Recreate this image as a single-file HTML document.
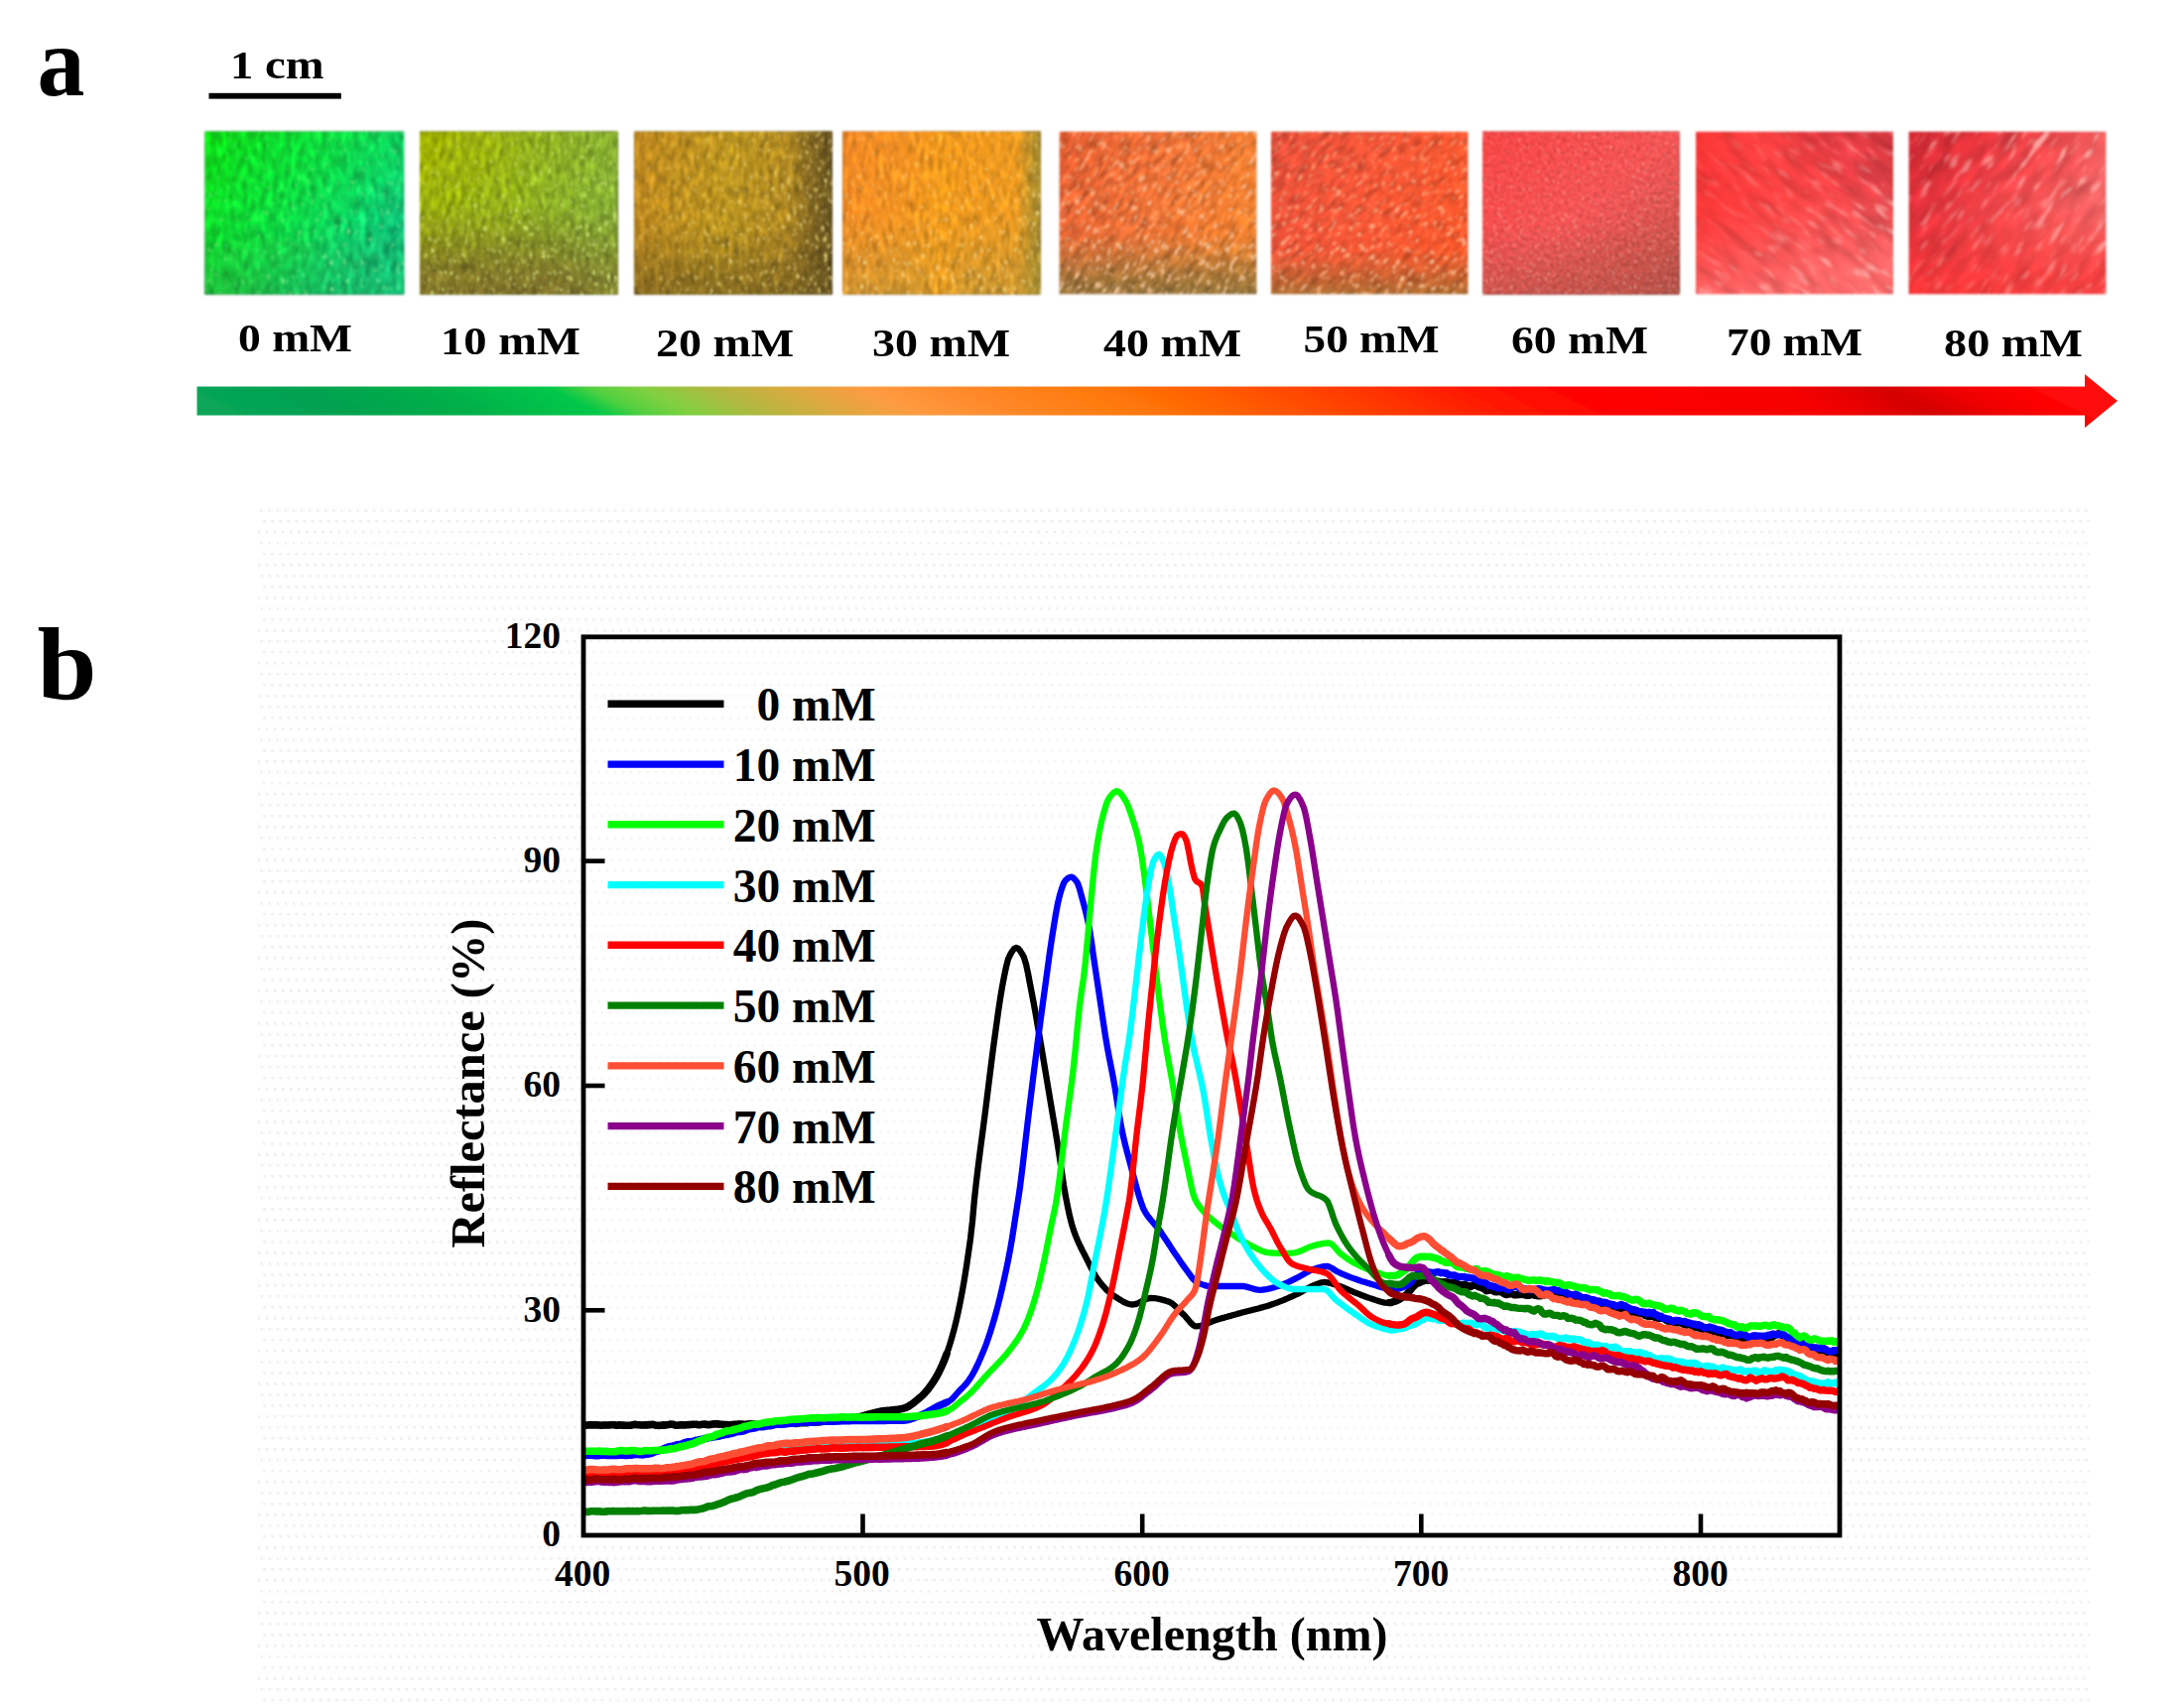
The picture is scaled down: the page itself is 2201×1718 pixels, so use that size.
<!DOCTYPE html>
<html lang="en"><head><meta charset="utf-8"><title>Reflectance figure</title>
<style>html,body{margin:0;padding:0;background:#fff}body{width:2201px;height:1718px;overflow:hidden}svg{display:block}text{font-family:"Liberation Serif","DejaVu Serif",serif;font-weight:bold;fill:#000}</style>
</head><body>
<svg width="2201" height="1718" viewBox="0 0 2201 1718">
<defs>
<pattern id="dots" width="8.1" height="11" patternUnits="userSpaceOnUse" patternTransform="translate(262,513) skewX(13.8)"><rect x="0" y="0" width="2.6" height="2.6" fill="#f0f0f0"/></pattern>
<linearGradient id="arrowg" gradientUnits="userSpaceOnUse" x1="198.5" y1="0" x2="2134" y2="0" gradientTransform="translate(-808 0) skewX(63.4)">
<stop offset="0.0000" stop-color="#08a658"/>
<stop offset="0.0628" stop-color="#00a050"/>
<stop offset="0.1351" stop-color="#00b048"/>
<stop offset="0.1971" stop-color="#00c848"/>
<stop offset="0.2188" stop-color="#50d040"/>
<stop offset="0.2446" stop-color="#80d040"/>
<stop offset="0.2808" stop-color="#b0b840"/>
<stop offset="0.3263" stop-color="#e0a840"/>
<stop offset="0.3635" stop-color="#ff9a40"/>
<stop offset="0.4141" stop-color="#ff8828"/>
<stop offset="0.4813" stop-color="#ff7808"/>
<stop offset="0.5639" stop-color="#ff5000"/>
<stop offset="0.6208" stop-color="#ff3400"/>
<stop offset="0.6724" stop-color="#ff1800"/>
<stop offset="0.7241" stop-color="#ff0400"/>
<stop offset="0.8378" stop-color="#f60000"/>
<stop offset="0.8714" stop-color="#e20000"/>
<stop offset="0.8920" stop-color="#d40000"/>
<stop offset="0.9256" stop-color="#ee0000"/>
<stop offset="0.9618" stop-color="#ff0404"/>
<stop offset="1.0000" stop-color="#ff1010"/>
</linearGradient>
<linearGradient id="sq1_0" x1="0" y1="0" x2="1" y2="0.55">
<stop offset="0" stop-color="#0ae014" stop-opacity="1"/>
<stop offset="0.45" stop-color="#10e03c" stop-opacity="1"/>
<stop offset="0.8" stop-color="#10d864" stop-opacity="1"/>
<stop offset="1" stop-color="#14c070" stop-opacity="1"/>
</linearGradient>
<linearGradient id="sq1_1" x1="0" y1="0" x2="0" y2="1">
<stop offset="0" stop-color="#2aa83a" stop-opacity="0"/>
<stop offset="0.6" stop-color="#2aa83a" stop-opacity="0"/>
<stop offset="1" stop-color="#2aa83a" stop-opacity="0.55"/>
</linearGradient>
<linearGradient id="sq1_2" x1="1" y1="1" x2="0.3" y2="0.3">
<stop offset="0" stop-color="#08c890" stop-opacity="0.55"/>
<stop offset="0.6" stop-color="#08c890" stop-opacity="0"/>
</linearGradient>
<filter id="sq1_t" x="0" y="0" width="1" height="1" color-interpolation-filters="sRGB"><feTurbulence type="fractalNoise" baseFrequency="0.16 0.07" numOctaves="2" seed="4" result="n"/><feColorMatrix in="n" type="matrix" values="0.5 0.5 0 0 0  0.5 0.5 0 0 0  0.5 0.5 0 0 0  0 0 0 0 1" result="g"/><feComposite in="SourceGraphic" in2="g" operator="arithmetic" k1="0.9" k2="0.53" k3="0" k4="0"/></filter>
<filter id="sq1_s" x="0" y="0" width="1" height="1" color-interpolation-filters="sRGB"><feTurbulence type="fractalNoise" baseFrequency="0.3 0.16" numOctaves="2" seed="3" result="n"/><feColorMatrix in="n" type="matrix" values="0 0 0 0 0.6  0 0 0 0 1  0 0 0 0 0.65  3 3 0 0 -3.55" result="c"/><feComposite in="c" in2="SourceGraphic" operator="in"/></filter>
<linearGradient id="sq1_a" x1="0" y1="0" x2="0.3" y2="1">
<stop offset="0" stop-color="#fff" stop-opacity="0.2"/>
<stop offset="1" stop-color="#fff" stop-opacity="0.7"/>
</linearGradient>
<linearGradient id="sq2_0" x1="0" y1="0" x2="1" y2="0.5">
<stop offset="0" stop-color="#a8b800" stop-opacity="1"/>
<stop offset="0.5" stop-color="#9cba18" stop-opacity="1"/>
<stop offset="1" stop-color="#86b432" stop-opacity="1"/>
</linearGradient>
<linearGradient id="sq2_1" x1="0" y1="0" x2="0" y2="1">
<stop offset="0" stop-color="#7c6a26" stop-opacity="0"/>
<stop offset="0.45" stop-color="#7c6a26" stop-opacity="0"/>
<stop offset="0.85" stop-color="#84702c" stop-opacity="0.8"/>
<stop offset="1" stop-color="#84702c" stop-opacity="0.92"/>
</linearGradient>
<linearGradient id="sq2_2" x1="1" y1="0.3" x2="0.3" y2="0.6">
<stop offset="0" stop-color="#8cb838" stop-opacity="0.5"/>
<stop offset="0.7" stop-color="#8cb838" stop-opacity="0"/>
</linearGradient>
<filter id="sq2_t" x="0" y="0" width="1" height="1" color-interpolation-filters="sRGB"><feTurbulence type="fractalNoise" baseFrequency="0.2 0.08" numOctaves="2" seed="9" result="n"/><feColorMatrix in="n" type="matrix" values="0.5 0.5 0 0 0  0.5 0.5 0 0 0  0.5 0.5 0 0 0  0 0 0 0 1" result="g"/><feComposite in="SourceGraphic" in2="g" operator="arithmetic" k1="0.9" k2="0.5" k3="0" k4="0"/></filter>
<filter id="sq2_s" x="0" y="0" width="1" height="1" color-interpolation-filters="sRGB"><feTurbulence type="fractalNoise" baseFrequency="0.32 0.18" numOctaves="2" seed="5" result="n"/><feColorMatrix in="n" type="matrix" values="0 0 0 0 0.92  0 0 0 0 1  0 0 0 0 0.55  3 3 0 0 -3.42" result="c"/><feComposite in="c" in2="SourceGraphic" operator="in"/></filter>
<linearGradient id="sq2_a" x1="0" y1="0" x2="0.6" y2="1">
<stop offset="0" stop-color="#fff" stop-opacity="0.2"/>
<stop offset="0.45" stop-color="#fff" stop-opacity="0.7"/>
<stop offset="1" stop-color="#fff" stop-opacity="1"/>
</linearGradient>
<linearGradient id="sq3_0" x1="0" y1="0" x2="1" y2="0.1">
<stop offset="0" stop-color="#c88e20" stop-opacity="1"/>
<stop offset="0.5" stop-color="#c49c20" stop-opacity="1"/>
<stop offset="0.8" stop-color="#b88e22" stop-opacity="1"/>
<stop offset="1" stop-color="#a88224" stop-opacity="1"/>
</linearGradient>
<linearGradient id="sq3_1" x1="0" y1="0" x2="0" y2="1">
<stop offset="0" stop-color="#7c6422" stop-opacity="0"/>
<stop offset="0.55" stop-color="#7c6422" stop-opacity="0"/>
<stop offset="1" stop-color="#7c6422" stop-opacity="0.8"/>
</linearGradient>
<linearGradient id="sq3_2" x1="0" y1="0" x2="1" y2="0">
<stop offset="0" stop-color="#685420" stop-opacity="0"/>
<stop offset="0.78" stop-color="#685420" stop-opacity="0"/>
<stop offset="0.9" stop-color="#685420" stop-opacity="0.6"/>
<stop offset="1" stop-color="#645220" stop-opacity="0.9"/>
</linearGradient>
<filter id="sq3_t" x="0" y="0" width="1" height="1" color-interpolation-filters="sRGB"><feTurbulence type="fractalNoise" baseFrequency="0.2 0.08" numOctaves="2" seed="14" result="n"/><feColorMatrix in="n" type="matrix" values="0.5 0.5 0 0 0  0.5 0.5 0 0 0  0.5 0.5 0 0 0  0 0 0 0 1" result="g"/><feComposite in="SourceGraphic" in2="g" operator="arithmetic" k1="0.9" k2="0.5" k3="0" k4="0"/></filter>
<filter id="sq3_s" x="0" y="0" width="1" height="1" color-interpolation-filters="sRGB"><feTurbulence type="fractalNoise" baseFrequency="0.32 0.18" numOctaves="2" seed="8" result="n"/><feColorMatrix in="n" type="matrix" values="0 0 0 0 1  0 0 0 0 0.93  0 0 0 0 0.55  3 3 0 0 -3.42" result="c"/><feComposite in="c" in2="SourceGraphic" operator="in"/></filter>
<linearGradient id="sq3_a" x1="0" y1="0.3" x2="1" y2="0.8">
<stop offset="0" stop-color="#fff" stop-opacity="0.35"/>
<stop offset="0.6" stop-color="#fff" stop-opacity="0.8"/>
<stop offset="1" stop-color="#fff" stop-opacity="1"/>
</linearGradient>
<linearGradient id="sq4_0" x1="0" y1="0" x2="1" y2="0.25">
<stop offset="0" stop-color="#f88a26" stop-opacity="1"/>
<stop offset="0.55" stop-color="#f69a1e" stop-opacity="1"/>
<stop offset="1" stop-color="#ee9c20" stop-opacity="1"/>
</linearGradient>
<linearGradient id="sq4_1" x1="0" y1="0" x2="0" y2="1">
<stop offset="0" stop-color="#b89438" stop-opacity="0"/>
<stop offset="0.5" stop-color="#b89438" stop-opacity="0"/>
<stop offset="1" stop-color="#b89438" stop-opacity="0.62"/>
</linearGradient>
<linearGradient id="sq4_2" x1="0" y1="0" x2="1" y2="0">
<stop offset="0.38" stop-color="#f8a21a" stop-opacity="0"/>
<stop offset="0.5" stop-color="#f8a21a" stop-opacity="0.6"/>
<stop offset="0.62" stop-color="#f8a21a" stop-opacity="0"/>
</linearGradient>
<linearGradient id="sq4_3" x1="0" y1="0" x2="1" y2="0">
<stop offset="0" stop-color="#a08c30" stop-opacity="0"/>
<stop offset="0.88" stop-color="#a08c30" stop-opacity="0"/>
<stop offset="0.97" stop-color="#a08c30" stop-opacity="0.75"/>
<stop offset="1" stop-color="#a08c30" stop-opacity="0.85"/>
</linearGradient>
<filter id="sq4_t" x="0" y="0" width="1" height="1" color-interpolation-filters="sRGB"><feTurbulence type="fractalNoise" baseFrequency="0.22 0.07" numOctaves="2" seed="21" result="n"/><feColorMatrix in="n" type="matrix" values="0.5 0.5 0 0 0  0.5 0.5 0 0 0  0.5 0.5 0 0 0  0 0 0 0 1" result="g"/><feComposite in="SourceGraphic" in2="g" operator="arithmetic" k1="0.8" k2="0.58" k3="0" k4="0"/></filter>
<filter id="sq4_s" x="0" y="0" width="1" height="1" color-interpolation-filters="sRGB"><feTurbulence type="fractalNoise" baseFrequency="0.34 0.16" numOctaves="2" seed="12" result="n"/><feColorMatrix in="n" type="matrix" values="0 0 0 0 1  0 0 0 0 0.9  0 0 0 0 0.55  3 3 0 0 -3.45" result="c"/><feComposite in="c" in2="SourceGraphic" operator="in"/></filter>
<linearGradient id="sq4_a" x1="0" y1="0" x2="0.3" y2="1">
<stop offset="0" stop-color="#fff" stop-opacity="0.3"/>
<stop offset="0.5" stop-color="#fff" stop-opacity="0.7"/>
<stop offset="1" stop-color="#fff" stop-opacity="1"/>
</linearGradient>
<linearGradient id="sq5_0" x1="0" y1="0" x2="1" y2="0.4">
<stop offset="0" stop-color="#e65c30" stop-opacity="1"/>
<stop offset="0.55" stop-color="#f07236" stop-opacity="1"/>
<stop offset="1" stop-color="#f8822e" stop-opacity="1"/>
</linearGradient>
<linearGradient id="sq5_1" x1="0" y1="0" x2="0" y2="1">
<stop offset="0" stop-color="#8c7438" stop-opacity="0"/>
<stop offset="0.62" stop-color="#8c7438" stop-opacity="0"/>
<stop offset="0.9" stop-color="#8c7438" stop-opacity="0.75"/>
<stop offset="1" stop-color="#86703a" stop-opacity="0.9"/>
</linearGradient>
<filter id="sq5_t" x="0" y="0" width="1" height="1" color-interpolation-filters="sRGB"><feTurbulence type="fractalNoise" baseFrequency="0.07 0.2" numOctaves="2" seed="25" result="n"/><feColorMatrix in="n" type="matrix" values="0.5 0.5 0 0 0  0.5 0.5 0 0 0  0.5 0.5 0 0 0  0 0 0 0 1" result="g"/><feComposite in="SourceGraphic" in2="g" operator="arithmetic" k1="0.9" k2="0.53" k3="0" k4="0"/></filter>
<filter id="sq5_s" x="0" y="0" width="1" height="1" color-interpolation-filters="sRGB"><feTurbulence type="fractalNoise" baseFrequency="0.13 0.26" numOctaves="2" seed="15" result="n"/><feColorMatrix in="n" type="matrix" values="0 0 0 0 1  0 0 0 0 0.8  0 0 0 0 0.62  3 3 0 0 -3.22" result="c"/><feComposite in="c" in2="SourceGraphic" operator="in"/></filter>
<linearGradient id="sq5_a" x1="0" y1="0" x2="0.2" y2="1">
<stop offset="0" stop-color="#fff" stop-opacity="0.55"/>
<stop offset="1" stop-color="#fff" stop-opacity="1"/>
</linearGradient>
<linearGradient id="sq6_0" x1="0" y1="0" x2="1" y2="0.45">
<stop offset="0" stop-color="#e64e3a" stop-opacity="1"/>
<stop offset="0.5" stop-color="#f85636" stop-opacity="1"/>
<stop offset="1" stop-color="#fc582c" stop-opacity="1"/>
</linearGradient>
<linearGradient id="sq6_1" x1="0" y1="0" x2="0" y2="1">
<stop offset="0" stop-color="#a86a30" stop-opacity="0"/>
<stop offset="0.72" stop-color="#a86a30" stop-opacity="0"/>
<stop offset="0.93" stop-color="#a86a30" stop-opacity="0.7"/>
<stop offset="1" stop-color="#a87434" stop-opacity="0.9"/>
</linearGradient>
<filter id="sq6_t" x="0" y="0" width="1" height="1" color-interpolation-filters="sRGB"><feTurbulence type="fractalNoise" baseFrequency="0.07 0.2" numOctaves="2" seed="31" result="n"/><feColorMatrix in="n" type="matrix" values="0.5 0.5 0 0 0  0.5 0.5 0 0 0  0.5 0.5 0 0 0  0 0 0 0 1" result="g"/><feComposite in="SourceGraphic" in2="g" operator="arithmetic" k1="0.8" k2="0.58" k3="0" k4="0"/></filter>
<filter id="sq6_s" x="0" y="0" width="1" height="1" color-interpolation-filters="sRGB"><feTurbulence type="fractalNoise" baseFrequency="0.13 0.26" numOctaves="2" seed="18" result="n"/><feColorMatrix in="n" type="matrix" values="0 0 0 0 1  0 0 0 0 0.78  0 0 0 0 0.6  3 3 0 0 -3.28" result="c"/><feComposite in="c" in2="SourceGraphic" operator="in"/></filter>
<linearGradient id="sq6_a" x1="0" y1="0" x2="0.2" y2="1">
<stop offset="0" stop-color="#fff" stop-opacity="0.45"/>
<stop offset="1" stop-color="#fff" stop-opacity="1"/>
</linearGradient>
<linearGradient id="sq7_0" x1="0" y1="0" x2="1" y2="1">
<stop offset="0" stop-color="#fa4242" stop-opacity="1"/>
<stop offset="0.5" stop-color="#f45252" stop-opacity="1"/>
<stop offset="0.85" stop-color="#c85048" stop-opacity="1"/>
<stop offset="1" stop-color="#9c4640" stop-opacity="1"/>
</linearGradient>
<linearGradient id="sq7_1" x1="0" y1="0" x2="0" y2="1">
<stop offset="0" stop-color="#b85046" stop-opacity="0"/>
<stop offset="0.55" stop-color="#b85046" stop-opacity="0"/>
<stop offset="1" stop-color="#b85046" stop-opacity="0.7"/>
</linearGradient>
<filter id="sq7_t" x="0" y="0" width="1" height="1" color-interpolation-filters="sRGB"><feTurbulence type="fractalNoise" baseFrequency="0.32 0.32" numOctaves="2" seed="37" result="n"/><feColorMatrix in="n" type="matrix" values="0.5 0.5 0 0 0  0.5 0.5 0 0 0  0.5 0.5 0 0 0  0 0 0 0 1" result="g"/><feComposite in="SourceGraphic" in2="g" operator="arithmetic" k1="0.8" k2="0.6" k3="0" k4="0"/></filter>
<filter id="sq7_s" x="0" y="0" width="1" height="1" color-interpolation-filters="sRGB"><feTurbulence type="fractalNoise" baseFrequency="0.4 0.4" numOctaves="2" seed="22" result="n"/><feColorMatrix in="n" type="matrix" values="0 0 0 0 1  0 0 0 0 0.7  0 0 0 0 0.66  3 3 0 0 -3.42" result="c"/><feComposite in="c" in2="SourceGraphic" operator="in"/></filter>
<linearGradient id="sq7_a" x1="0" y1="0" x2="0" y2="1">
<stop offset="0" stop-color="#fff" stop-opacity="0.7"/>
<stop offset="1" stop-color="#fff" stop-opacity="1"/>
</linearGradient>
<linearGradient id="sq8_0" x1="0" y1="0.6" x2="1" y2="0">
<stop offset="0" stop-color="#fa2c2c" stop-opacity="1"/>
<stop offset="0.45" stop-color="#f83c3c" stop-opacity="1"/>
<stop offset="0.8" stop-color="#dc363e" stop-opacity="1"/>
<stop offset="1" stop-color="#cc3038" stop-opacity="1"/>
</linearGradient>
<linearGradient id="sq8_1" x1="0" y1="0" x2="0.25" y2="1">
<stop offset="0" stop-color="#fc7272" stop-opacity="0"/>
<stop offset="0.5" stop-color="#fc7272" stop-opacity="0.15"/>
<stop offset="1" stop-color="#fc7272" stop-opacity="0.8"/>
</linearGradient>
<filter id="sq8_t" x="0" y="0" width="1" height="1" color-interpolation-filters="sRGB"><feTurbulence type="fractalNoise" baseFrequency="0.03 0.09" numOctaves="2" seed="41" result="n"/><feColorMatrix in="n" type="matrix" values="0.5 0.5 0 0 0  0.5 0.5 0 0 0  0.5 0.5 0 0 0  0 0 0 0 1" result="g"/><feComposite in="SourceGraphic" in2="g" operator="arithmetic" k1="0.5" k2="0.75" k3="0" k4="0"/></filter>
<filter id="sq8_s" x="0" y="0" width="1" height="1" color-interpolation-filters="sRGB"><feTurbulence type="fractalNoise" baseFrequency="0.045 0.16" numOctaves="2" seed="26" result="n"/><feColorMatrix in="n" type="matrix" values="0 0 0 0 1  0 0 0 0 0.7  0 0 0 0 0.68  2.6 2.6 0 0 -2.78" result="c"/><feComposite in="c" in2="SourceGraphic" operator="in"/></filter>
<linearGradient id="sq8_a" x1="0" y1="0" x2="1" y2="1">
<stop offset="0" stop-color="#fff" stop-opacity="0.05"/>
<stop offset="0.4" stop-color="#fff" stop-opacity="0.4"/>
<stop offset="1" stop-color="#fff" stop-opacity="1"/>
</linearGradient>
<linearGradient id="sq9_0" x1="0" y1="0" x2="1" y2="0.45">
<stop offset="0" stop-color="#cc2832" stop-opacity="1"/>
<stop offset="0.3" stop-color="#e4343c" stop-opacity="1"/>
<stop offset="0.65" stop-color="#f04c4e" stop-opacity="1"/>
<stop offset="1" stop-color="#f26868" stop-opacity="1"/>
</linearGradient>
<linearGradient id="sq9_1" x1="0" y1="0" x2="0.15" y2="1">
<stop offset="0" stop-color="#f83030" stop-opacity="0"/>
<stop offset="0.55" stop-color="#f83030" stop-opacity="0"/>
<stop offset="1" stop-color="#f83030" stop-opacity="0.7"/>
</linearGradient>
<filter id="sq9_t" x="0" y="0" width="1" height="1" color-interpolation-filters="sRGB"><feTurbulence type="fractalNoise" baseFrequency="0.03 0.09" numOctaves="2" seed="47" result="n"/><feColorMatrix in="n" type="matrix" values="0.5 0.5 0 0 0  0.5 0.5 0 0 0  0.5 0.5 0 0 0  0 0 0 0 1" result="g"/><feComposite in="SourceGraphic" in2="g" operator="arithmetic" k1="0.5" k2="0.75" k3="0" k4="0"/></filter>
<filter id="sq9_s" x="0" y="0" width="1" height="1" color-interpolation-filters="sRGB"><feTurbulence type="fractalNoise" baseFrequency="0.045 0.16" numOctaves="2" seed="29" result="n"/><feColorMatrix in="n" type="matrix" values="0 0 0 0 1  0 0 0 0 0.7  0 0 0 0 0.68  2.6 2.6 0 0 -2.78" result="c"/><feComposite in="c" in2="SourceGraphic" operator="in"/></filter>
<linearGradient id="sq9_a" x1="0" y1="1" x2="1" y2="0">
<stop offset="0" stop-color="#fff" stop-opacity="0.3"/>
<stop offset="1" stop-color="#fff" stop-opacity="1"/>
</linearGradient>
<filter id="soft" x="-2%" y="-10%" width="104%" height="120%"><feGaussianBlur stdDeviation="0.9"/></filter>
<filter id="soft2" x="-5%" y="-20%" width="110%" height="140%"><feGaussianBlur stdDeviation="0.6"/></filter>
<clipPath id="plotclip"><rect x="588" y="642" width="1266" height="905"/></clipPath>
</defs>
<rect width="2201" height="1718" fill="#ffffff"/>
<rect x="260" y="513" width="1846" height="1205" fill="url(#dots)"/>
<text x="37.5" y="95.6" font-size="100" textLength="48" lengthAdjust="spacingAndGlyphs">a</text>
<g filter="url(#soft2)">
<text x="232" y="78.6" font-size="39" textLength="94.5" lengthAdjust="spacingAndGlyphs">1 cm</text>
<rect x="210.5" y="93.8" width="133.3" height="5.8" fill="#000"/>
<text x="240" y="354" font-size="40" textLength="115" lengthAdjust="spacingAndGlyphs">0 mM</text>
<text x="444" y="357" font-size="40" textLength="141" lengthAdjust="spacingAndGlyphs">10 mM</text>
<text x="661" y="359" font-size="40" textLength="139" lengthAdjust="spacingAndGlyphs">20 mM</text>
<text x="879" y="359" font-size="40" textLength="139" lengthAdjust="spacingAndGlyphs">30 mM</text>
<text x="1112" y="359" font-size="40" textLength="139" lengthAdjust="spacingAndGlyphs">40 mM</text>
<text x="1313.5" y="355" font-size="40" textLength="137" lengthAdjust="spacingAndGlyphs">50 mM</text>
<text x="1523" y="356" font-size="40" textLength="138" lengthAdjust="spacingAndGlyphs">60 mM</text>
<text x="1740" y="358" font-size="40" textLength="137" lengthAdjust="spacingAndGlyphs">70 mM</text>
<text x="1959" y="359" font-size="40" textLength="140" lengthAdjust="spacingAndGlyphs">80 mM</text>
</g>
<g filter="url(#soft)">
<g filter="url(#sq1_t)">
<rect x="206.5" y="132.5" width="200.7" height="164" fill="url(#sq1_0)"/>
<rect x="206.5" y="132.5" width="200.7" height="164" fill="url(#sq1_1)"/>
<rect x="206.5" y="132.5" width="200.7" height="164" fill="url(#sq1_2)"/>
</g>
<rect x="206.5" y="132.5" width="200.7" height="164" fill="url(#sq1_a)" filter="url(#sq1_s)"/>
</g>
<g filter="url(#soft)">
<g filter="url(#sq2_t)">
<rect x="423" y="132.5" width="199.6" height="164" fill="url(#sq2_0)"/>
<rect x="423" y="132.5" width="199.6" height="164" fill="url(#sq2_1)"/>
<rect x="423" y="132.5" width="199.6" height="164" fill="url(#sq2_2)"/>
</g>
<rect x="423" y="132.5" width="199.6" height="164" fill="url(#sq2_a)" filter="url(#sq2_s)"/>
</g>
<g filter="url(#soft)">
<g filter="url(#sq3_t)">
<rect x="639.2" y="132.5" width="199.3" height="164" fill="url(#sq3_0)"/>
<rect x="639.2" y="132.5" width="199.3" height="164" fill="url(#sq3_1)"/>
<rect x="639.2" y="132.5" width="199.3" height="164" fill="url(#sq3_2)"/>
</g>
<rect x="639.2" y="132.5" width="199.3" height="164" fill="url(#sq3_a)" filter="url(#sq3_s)"/>
</g>
<g filter="url(#soft)">
<g filter="url(#sq4_t)">
<rect x="849.2" y="132.5" width="199.4" height="164" fill="url(#sq4_0)"/>
<rect x="849.2" y="132.5" width="199.4" height="164" fill="url(#sq4_1)"/>
<rect x="849.2" y="132.5" width="199.4" height="164" fill="url(#sq4_2)"/>
<rect x="849.2" y="132.5" width="199.4" height="164" fill="url(#sq4_3)"/>
</g>
<rect x="849.2" y="132.5" width="199.4" height="164" fill="url(#sq4_a)" filter="url(#sq4_s)"/>
</g>
<g filter="url(#soft)">
<clipPath id="sq5_c"><rect x="1067.5" y="132.5" width="199" height="164"/></clipPath>
<g clip-path="url(#sq5_c)">
<g transform="rotate(-58 1167 214.5)"><g filter="url(#sq5_t)"><g transform="rotate(58 1167 214.5)">
<rect x="1067.5" y="132.5" width="199" height="164" fill="url(#sq5_0)"/>
<rect x="1067.5" y="132.5" width="199" height="164" fill="url(#sq5_1)"/>
</g></g></g>
<g transform="rotate(-58 1167 214.5)"><g filter="url(#sq5_s)"><g transform="rotate(58 1167 214.5)">
<rect x="1067.5" y="132.5" width="199" height="164" fill="url(#sq5_a)"/>
</g></g></g>
</g>
</g>
<g filter="url(#soft)">
<clipPath id="sq6_c"><rect x="1281" y="132.5" width="198.5" height="164"/></clipPath>
<g clip-path="url(#sq6_c)">
<g transform="rotate(-45 1380.25 214.5)"><g filter="url(#sq6_t)"><g transform="rotate(45 1380.25 214.5)">
<rect x="1281" y="132.5" width="198.5" height="164" fill="url(#sq6_0)"/>
<rect x="1281" y="132.5" width="198.5" height="164" fill="url(#sq6_1)"/>
</g></g></g>
<g transform="rotate(-45 1380.25 214.5)"><g filter="url(#sq6_s)"><g transform="rotate(45 1380.25 214.5)">
<rect x="1281" y="132.5" width="198.5" height="164" fill="url(#sq6_a)"/>
</g></g></g>
</g>
</g>
<g filter="url(#soft)">
<g filter="url(#sq7_t)">
<rect x="1494" y="132.5" width="198.6" height="164" fill="url(#sq7_0)"/>
<rect x="1494" y="132.5" width="198.6" height="164" fill="url(#sq7_1)"/>
</g>
<rect x="1494" y="132.5" width="198.6" height="164" fill="url(#sq7_a)" filter="url(#sq7_s)"/>
</g>
<g filter="url(#soft)">
<clipPath id="sq8_c"><rect x="1709" y="132.5" width="199" height="164"/></clipPath>
<g clip-path="url(#sq8_c)">
<g transform="rotate(38 1808.5 214.5)"><g filter="url(#sq8_t)"><g transform="rotate(-38 1808.5 214.5)">
<rect x="1709" y="132.5" width="199" height="164" fill="url(#sq8_0)"/>
<rect x="1709" y="132.5" width="199" height="164" fill="url(#sq8_1)"/>
</g></g></g>
<g transform="rotate(38 1808.5 214.5)"><g filter="url(#sq8_s)"><g transform="rotate(-38 1808.5 214.5)">
<rect x="1709" y="132.5" width="199" height="164" fill="url(#sq8_a)"/>
</g></g></g>
</g>
</g>
<g filter="url(#soft)">
<clipPath id="sq9_c"><rect x="1923.5" y="132.5" width="199" height="164"/></clipPath>
<g clip-path="url(#sq9_c)">
<g transform="rotate(-52 2023 214.5)"><g filter="url(#sq9_t)"><g transform="rotate(52 2023 214.5)">
<rect x="1923.5" y="132.5" width="199" height="164" fill="url(#sq9_0)"/>
<rect x="1923.5" y="132.5" width="199" height="164" fill="url(#sq9_1)"/>
</g></g></g>
<g transform="rotate(-52 2023 214.5)"><g filter="url(#sq9_s)"><g transform="rotate(52 2023 214.5)">
<rect x="1923.5" y="132.5" width="199" height="164" fill="url(#sq9_a)"/>
</g></g></g>
</g>
</g>
<g filter="url(#soft2)"><path d="M198.5,389.5 H2101 V377 L2134,404 L2101,431 V418.5 H198.5 Z" fill="url(#arrowg)"/></g>
<text x="37.5" y="704" font-size="104" textLength="60" lengthAdjust="spacingAndGlyphs">b</text>
<rect x="588" y="642" width="1266" height="905" fill="#fff"/>
<rect x="588" y="642" width="1266" height="905" fill="url(#dots)" opacity="0.6"/>
<g clip-path="url(#plotclip)" fill="none" stroke-linejoin="round" stroke-linecap="round">
<path d="M588.0,1436.2 L590.0,1436.2 L592.0,1436.0 L594.0,1435.9 L596.0,1435.9 L598.0,1435.9 L600.0,1435.7 L602.0,1435.9 L604.0,1436.0 L606.0,1436.2 L608.0,1436.0 L610.0,1436.0 L612.0,1436.0 L614.0,1436.0 L616.0,1435.7 L618.0,1435.8 L620.0,1435.9 L622.0,1436.2 L624.0,1435.8 L626.0,1436.1 L628.0,1436.0 L630.0,1436.2 L632.0,1436.3 L634.0,1436.3 L636.0,1436.1 L638.0,1435.7 L640.0,1435.3 L642.0,1435.7 L644.0,1435.7 L646.0,1436.0 L648.0,1436.0 L650.0,1435.8 L652.0,1436.0 L654.0,1435.5 L656.0,1435.6 L658.0,1435.3 L660.0,1435.9 L662.0,1436.3 L664.0,1436.4 L666.0,1436.3 L668.0,1435.9 L670.0,1436.1 L672.0,1435.8 L674.0,1435.5 L676.0,1435.1 L678.0,1435.2 L680.0,1435.9 L682.0,1436.2 L684.0,1436.0 L686.0,1435.9 L688.0,1435.9 L690.0,1436.0 L692.0,1435.7 L694.0,1435.6 L696.0,1435.5 L698.0,1435.2 L700.0,1435.3 L702.0,1435.3 L704.0,1435.7 L706.0,1435.6 L708.0,1435.3 L710.0,1435.0 L712.0,1435.4 L714.0,1435.6 L716.0,1435.5 L718.0,1435.0 L720.0,1434.8 L722.0,1434.9 L724.0,1434.9 L726.0,1435.3 L728.0,1435.3 L730.0,1435.5 L732.0,1435.5 L734.0,1435.8 L736.0,1435.7 L738.0,1435.5 L740.0,1435.4 L742.0,1435.4 L744.0,1435.0 L746.0,1435.0 L748.0,1435.1 L750.0,1435.5 L752.0,1435.2 L754.0,1435.0 L756.0,1434.8 L758.0,1434.9 L760.0,1435.1 L762.0,1435.4 L764.0,1435.6 L766.0,1435.4 L768.0,1435.2 L770.0,1435.1 L772.0,1434.9 L774.0,1434.7 L776.0,1434.6 L778.0,1435.0 L780.0,1435.2 L782.0,1435.1 L784.0,1434.5 L786.0,1434.2 L788.0,1434.2 L790.0,1434.3 L792.0,1434.2 L794.0,1434.1 L796.0,1433.9 L798.0,1434.3 L800.0,1434.1 L802.0,1434.4 L804.0,1434.0 L806.0,1433.8 L808.0,1433.5 L810.0,1433.7 L812.0,1433.7 L814.0,1433.4 L816.0,1433.1 L818.0,1433.0 L820.0,1433.0 L822.0,1432.8 L824.0,1432.9 L826.0,1432.7 L828.0,1432.6 L830.0,1432.3 L832.0,1432.2 L834.0,1432.1 L836.0,1431.9 L838.0,1431.8 L840.0,1431.6 L842.0,1431.4 L844.0,1431.2 L846.0,1430.9 L848.0,1430.5 L850.0,1430.2 L852.0,1430.0 L854.0,1429.7 L856.0,1429.4 L858.0,1429.1 L860.0,1428.8 L862.0,1428.5 L864.0,1428.1 L866.0,1427.7 L868.0,1427.3 L870.0,1426.7 L872.0,1426.1 L874.0,1425.5 L876.0,1424.9 L878.0,1424.4 L880.0,1423.9 L882.0,1423.4 L884.0,1422.9 L886.0,1422.5 L888.0,1422.1 L890.0,1421.8 L892.0,1421.6 L894.0,1421.4 L896.0,1421.2 L898.0,1421.0 L900.0,1420.8 L902.0,1420.6 L904.0,1420.4 L906.0,1420.1 L908.0,1419.7 L910.0,1419.3 L912.0,1418.7 L914.0,1417.9 L916.0,1416.8 L918.0,1415.5 L920.0,1414.1 L922.0,1412.5 L924.0,1410.9 L926.0,1409.2 L928.0,1407.5 L930.0,1405.7 L932.0,1403.6 L934.0,1401.3 L936.0,1398.8 L938.0,1396.1 L940.0,1393.2 L942.0,1390.1 L944.0,1386.7 L946.0,1382.9 L948.0,1378.9 L950.0,1374.5 L952.0,1369.7 L954.0,1364.3 L956.0,1358.4 L958.0,1352.1 L960.0,1345.2 L962.0,1337.8 L964.0,1329.5 L966.0,1320.4 L968.0,1310.5 L970.0,1300.0 L972.0,1288.5 L974.0,1275.8 L976.0,1262.3 L978.0,1248.2 L980.0,1230.5 L982.0,1208.1 L984.0,1190.0 L986.0,1173.5 L988.0,1157.9 L990.0,1142.9 L992.0,1127.6 L994.0,1111.8 L996.0,1095.6 L998.0,1079.5 L1000.0,1063.7 L1002.0,1048.7 L1004.0,1034.1 L1006.0,1019.7 L1008.0,1006.2 L1010.0,994.3 L1012.0,983.8 L1014.0,974.1 L1016.0,966.5 L1018.0,962.1 L1020.0,958.6 L1022.0,956.1 L1024.0,955.0 L1026.0,955.7 L1028.0,957.9 L1030.0,961.1 L1032.0,964.8 L1034.0,971.4 L1036.0,980.7 L1038.0,991.3 L1040.0,1001.7 L1042.0,1012.2 L1044.0,1023.3 L1046.0,1034.9 L1048.0,1046.5 L1050.0,1058.2 L1052.0,1070.2 L1054.0,1082.2 L1056.0,1094.3 L1058.0,1106.3 L1060.0,1118.0 L1062.0,1129.8 L1064.0,1141.7 L1066.0,1153.9 L1068.0,1167.0 L1070.0,1180.9 L1072.0,1194.2 L1074.0,1205.7 L1076.0,1215.9 L1078.0,1225.3 L1080.0,1233.3 L1082.0,1239.6 L1084.0,1245.1 L1086.0,1250.0 L1088.0,1254.4 L1090.0,1258.5 L1092.0,1262.4 L1094.0,1266.3 L1096.0,1270.2 L1098.0,1274.3 L1100.0,1278.3 L1102.0,1282.1 L1104.0,1285.6 L1106.0,1288.7 L1108.0,1291.4 L1110.0,1293.9 L1112.0,1296.2 L1114.0,1298.4 L1116.0,1300.4 L1118.0,1302.2 L1120.0,1303.9 L1122.0,1305.3 L1124.0,1306.6 L1126.0,1307.9 L1128.0,1309.2 L1130.0,1310.4 L1132.0,1311.6 L1134.0,1312.6 L1136.0,1313.4 L1138.0,1314.0 L1140.0,1314.4 L1142.0,1314.5 L1144.0,1314.2 L1146.0,1313.5 L1148.0,1312.6 L1150.0,1311.6 L1152.0,1310.5 L1154.0,1309.5 L1156.0,1308.7 L1158.0,1308.2 L1160.0,1308.0 L1162.0,1308.1 L1164.0,1308.2 L1166.0,1308.5 L1168.0,1308.9 L1170.0,1309.3 L1172.0,1309.9 L1174.0,1310.4 L1176.0,1311.0 L1178.0,1311.7 L1180.0,1312.6 L1182.0,1314.0 L1184.0,1315.8 L1186.0,1317.7 L1188.0,1319.8 L1190.0,1321.9 L1192.0,1323.9 L1194.0,1325.8 L1196.0,1328.1 L1198.0,1330.5 L1200.0,1332.9 L1202.0,1334.8 L1204.0,1336.1 L1206.0,1336.4 L1208.0,1336.2 L1210.0,1335.8 L1212.0,1335.3 L1214.0,1334.6 L1216.0,1333.8 L1218.0,1333.0 L1220.0,1332.1 L1222.0,1331.3 L1224.0,1330.6 L1226.0,1329.9 L1228.0,1329.3 L1230.0,1328.7 L1232.0,1328.1 L1234.0,1327.6 L1236.0,1327.0 L1238.0,1326.4 L1240.0,1325.9 L1242.0,1325.3 L1244.0,1324.7 L1246.0,1324.2 L1248.0,1323.6 L1250.0,1323.1 L1252.0,1322.5 L1254.0,1322.0 L1256.0,1321.5 L1258.0,1321.0 L1260.0,1320.5 L1262.0,1320.0 L1264.0,1319.5 L1266.0,1319.0 L1268.0,1318.5 L1270.0,1317.9 L1272.0,1317.4 L1274.0,1316.8 L1276.0,1316.3 L1278.0,1315.7 L1280.0,1315.0 L1282.0,1314.3 L1284.0,1313.6 L1286.0,1312.9 L1288.0,1312.2 L1290.0,1311.4 L1292.0,1310.6 L1294.0,1309.8 L1296.0,1308.9 L1298.0,1308.1 L1300.0,1307.2 L1302.0,1306.3 L1304.0,1305.4 L1306.0,1304.5 L1308.0,1303.6 L1310.0,1302.6 L1312.0,1301.5 L1314.0,1300.3 L1316.0,1299.2 L1318.0,1298.1 L1320.0,1297.1 L1322.0,1296.1 L1324.0,1295.2 L1326.0,1294.4 L1328.0,1293.6 L1330.0,1292.8 L1332.0,1292.3 L1334.0,1292.0 L1336.0,1292.1 L1338.0,1292.4 L1340.0,1292.8 L1342.0,1293.3 L1344.0,1294.0 L1346.0,1294.6 L1348.0,1295.3 L1350.0,1295.9 L1352.0,1296.7 L1354.0,1297.5 L1356.0,1298.3 L1358.0,1299.2 L1360.0,1300.1 L1362.0,1301.0 L1364.0,1301.8 L1366.0,1302.6 L1368.0,1303.4 L1370.0,1304.2 L1372.0,1305.0 L1374.0,1305.7 L1376.0,1306.5 L1378.0,1307.2 L1380.0,1307.9 L1382.0,1308.6 L1384.0,1309.2 L1386.0,1309.9 L1388.0,1310.6 L1390.0,1311.2 L1392.0,1311.8 L1394.0,1312.3 L1396.0,1312.6 L1398.0,1312.8 L1400.0,1312.6 L1402.0,1312.5 L1404.0,1311.8 L1406.0,1311.2 L1408.0,1310.5 L1410.0,1309.5 L1412.0,1308.2 L1414.0,1307.0 L1416.0,1305.7 L1418.0,1303.9 L1420.0,1301.6 L1422.0,1299.3 L1424.0,1296.7 L1426.0,1294.9 L1428.0,1293.2 L1430.0,1292.8 L1432.0,1291.7 L1434.0,1290.9 L1436.0,1290.2 L1438.0,1289.9 L1440.0,1290.2 L1442.0,1290.1 L1444.0,1290.5 L1446.0,1290.4 L1448.0,1291.0 L1450.0,1291.3 L1452.0,1291.8 L1454.0,1291.9 L1456.0,1291.8 L1458.0,1292.0 L1460.0,1292.2 L1462.0,1292.8 L1464.0,1292.7 L1466.0,1292.7 L1468.0,1293.2 L1470.0,1294.5 L1472.0,1294.6 L1474.0,1294.9 L1476.0,1294.2 L1478.0,1295.3 L1480.0,1295.6 L1482.0,1296.6 L1484.0,1295.4 L1486.0,1295.4 L1488.0,1295.0 L1490.0,1296.7 L1492.0,1297.2 L1494.0,1297.9 L1496.0,1298.8 L1498.0,1300.7 L1500.0,1300.1 L1502.0,1300.1 L1504.0,1299.8 L1506.0,1301.6 L1508.0,1301.9 L1510.0,1301.5 L1512.0,1301.4 L1514.0,1302.3 L1516.0,1303.8 L1518.0,1304.6 L1520.0,1304.1 L1522.0,1303.9 L1524.0,1303.9 L1526.0,1304.7 L1528.0,1304.8 L1530.0,1304.6 L1532.0,1304.5 L1534.0,1303.9 L1536.0,1304.7 L1538.0,1305.2 L1540.0,1305.2 L1542.0,1305.0 L1544.0,1304.0 L1546.0,1305.1 L1548.0,1305.4 L1550.0,1305.8 L1552.0,1305.9 L1554.0,1305.2 L1556.0,1305.1 L1558.0,1304.4 L1560.0,1304.5 L1562.0,1304.8 L1564.0,1305.2 L1566.0,1305.0 L1568.0,1305.6 L1570.0,1306.1 L1572.0,1306.3 L1574.0,1305.2 L1576.0,1305.2 L1578.0,1306.1 L1580.0,1306.8 L1582.0,1306.0 L1584.0,1305.8 L1586.0,1306.9 L1588.0,1307.0 L1590.0,1307.5 L1592.0,1307.1 L1594.0,1308.1 L1596.0,1308.6 L1598.0,1308.7 L1600.0,1309.9 L1602.0,1310.9 L1604.0,1312.2 L1606.0,1312.2 L1608.0,1311.3 L1610.0,1311.2 L1612.0,1311.3 L1614.0,1313.5 L1616.0,1314.6 L1618.0,1315.4 L1620.0,1314.5 L1622.0,1314.6 L1624.0,1315.4 L1626.0,1316.0 L1628.0,1317.8 L1630.0,1318.1 L1632.0,1318.9 L1634.0,1318.7 L1636.0,1320.3 L1638.0,1321.9 L1640.0,1322.0 L1642.0,1321.9 L1644.0,1321.8 L1646.0,1322.8 L1648.0,1323.3 L1650.0,1323.3 L1652.0,1322.9 L1654.0,1323.4 L1656.0,1323.8 L1658.0,1325.6 L1660.0,1326.0 L1662.0,1326.6 L1664.0,1326.2 L1666.0,1326.4 L1668.0,1327.4 L1670.0,1328.5 L1672.0,1328.5 L1674.0,1328.1 L1676.0,1328.3 L1678.0,1329.4 L1680.0,1330.9 L1682.0,1331.4 L1684.0,1331.9 L1686.0,1332.7 L1688.0,1332.5 L1690.0,1333.0 L1692.0,1332.7 L1694.0,1333.0 L1696.0,1333.8 L1698.0,1334.9 L1700.0,1335.0 L1702.0,1334.6 L1704.0,1334.9 L1706.0,1336.8 L1708.0,1337.5 L1710.0,1337.7 L1712.0,1336.9 L1714.0,1339.0 L1716.0,1339.7 L1718.0,1341.3 L1720.0,1340.8 L1722.0,1341.5 L1724.0,1341.8 L1726.0,1341.7 L1728.0,1342.0 L1730.0,1342.2 L1732.0,1343.4 L1734.0,1343.2 L1736.0,1343.3 L1738.0,1343.5 L1740.0,1345.1 L1742.0,1345.9 L1744.0,1345.8 L1746.0,1345.6 L1748.0,1345.8 L1750.0,1347.5 L1752.0,1348.5 L1754.0,1349.8 L1756.0,1349.3 L1758.0,1348.9 L1760.0,1349.1 L1762.0,1350.0 L1764.0,1350.7 L1766.0,1350.1 L1768.0,1349.8 L1770.0,1349.2 L1772.0,1349.4 L1774.0,1348.3 L1776.0,1347.7 L1778.0,1347.3 L1780.0,1347.6 L1782.0,1348.7 L1784.0,1348.0 L1786.0,1347.6 L1788.0,1345.8 L1790.0,1344.9 L1792.0,1343.8 L1794.0,1344.6 L1796.0,1345.2 L1798.0,1347.2 L1800.0,1348.5 L1802.0,1349.9 L1804.0,1351.4 L1806.0,1352.0 L1808.0,1353.9 L1810.0,1354.1 L1812.0,1355.4 L1814.0,1355.2 L1816.0,1356.4 L1818.0,1356.5 L1820.0,1357.7 L1822.0,1358.4 L1824.0,1359.4 L1826.0,1360.0 L1828.0,1360.6 L1830.0,1361.3 L1832.0,1361.0 L1834.0,1361.3 L1836.0,1361.5 L1838.0,1362.2 L1840.0,1362.4 L1842.0,1361.7 L1844.0,1363.0 L1846.0,1362.9 L1848.0,1363.7 L1850.0,1363.7 L1852.0,1363.9" stroke="#000000" stroke-width="6.3"/>
<path d="M588.0,1436.2 L590.0,1436.2 L592.0,1436.0 L594.0,1435.9 L596.0,1435.9 L598.0,1435.9 L600.0,1435.7 L602.0,1435.9 L604.0,1436.0 L606.0,1436.2 L608.0,1436.0 L610.0,1436.0 L612.0,1436.0 L614.0,1436.0 L616.0,1435.7 L618.0,1435.8 L620.0,1435.9 L622.0,1436.2 L624.0,1435.8 L626.0,1436.1 L628.0,1436.0 L630.0,1436.2 L632.0,1436.3 L634.0,1436.3 L636.0,1436.1 L638.0,1435.7 L640.0,1435.3 L642.0,1435.7 L644.0,1435.7 L646.0,1436.0 L648.0,1436.0 L650.0,1435.8 L652.0,1436.0 L654.0,1435.5 L656.0,1435.6 L658.0,1435.3 L660.0,1435.9 L662.0,1436.3 L664.0,1436.4 L666.0,1436.3 L668.0,1435.9 L670.0,1436.1 L672.0,1435.8 L674.0,1435.5 L676.0,1435.1 L678.0,1435.2 L680.0,1435.9 L682.0,1436.2 L684.0,1436.0 L686.0,1435.9 L688.0,1435.9 L690.0,1436.0 L692.0,1435.7 L694.0,1435.6 L696.0,1435.5 L698.0,1435.2 L700.0,1435.3 L702.0,1435.3 L704.0,1435.7 L706.0,1435.6 L708.0,1435.3 L710.0,1435.0 L712.0,1435.4 L714.0,1435.6 L716.0,1435.5 L718.0,1435.0 L720.0,1434.8 L722.0,1434.9 L724.0,1434.9 L726.0,1435.3 L728.0,1435.3 L730.0,1435.5 L732.0,1435.5 L734.0,1435.8 L736.0,1435.7 L738.0,1435.5 L740.0,1435.4 L742.0,1435.4 L744.0,1435.0 L746.0,1435.0 L748.0,1435.1 L750.0,1435.5 L752.0,1435.2 L754.0,1435.0 L756.0,1434.8 L758.0,1434.9 L760.0,1435.1 L762.0,1435.4 L764.0,1435.6 L766.0,1435.4 L768.0,1435.2 L770.0,1435.1 L772.0,1434.9 L774.0,1434.7 L776.0,1434.6 L778.0,1435.0 L780.0,1435.2 L782.0,1435.1 L784.0,1434.5 L786.0,1434.2 L788.0,1434.2 L790.0,1434.3 L792.0,1434.2 L794.0,1434.1 L796.0,1433.9 L798.0,1434.3 L800.0,1434.1 L802.0,1434.4 L804.0,1434.0 L806.0,1433.8 L808.0,1433.5 L810.0,1433.7 L812.0,1433.7 L814.0,1433.4 L816.0,1433.1 L818.0,1433.0 L820.0,1433.0 L822.0,1432.8 L824.0,1432.9 L826.0,1432.7 L828.0,1432.6 L830.0,1432.3 L832.0,1432.2 L834.0,1432.1 L836.0,1431.9 L838.0,1431.8 L840.0,1431.6 L842.0,1431.4 L844.0,1431.2 L846.0,1430.9 L848.0,1430.5 L850.0,1430.2 L852.0,1430.0 L854.0,1429.7 L856.0,1429.4 L858.0,1429.1 L860.0,1428.8 L862.0,1428.5 L864.0,1428.1 L866.0,1427.7 L868.0,1427.3 L870.0,1426.7 L872.0,1426.1 L874.0,1425.5 L876.0,1424.9 L878.0,1424.4 L880.0,1423.9 L882.0,1423.4 L884.0,1422.9 L886.0,1422.5 L888.0,1422.1 L890.0,1421.8 L892.0,1421.6 L894.0,1421.4 L896.0,1421.2 L898.0,1421.0 L900.0,1420.8 L902.0,1420.6 L904.0,1420.4 L906.0,1420.1 L908.0,1419.7 L910.0,1419.3 L912.0,1418.7 L914.0,1417.9 L916.0,1416.8 L918.0,1415.5 L920.0,1414.1 L922.0,1412.5 L924.0,1410.9 L926.0,1409.2 L928.0,1407.5 L930.0,1405.7 L932.0,1403.6 L934.0,1401.3 L936.0,1398.8 L938.0,1396.1 L940.0,1393.2 L942.0,1390.1 L944.0,1386.7 L946.0,1382.9 L948.0,1378.9 L950.0,1374.5 L952.0,1369.7 L954.0,1364.3" stroke="#000000" stroke-width="7.6"/>
<path d="M1400.0,1312.6 L1402.0,1312.5 L1404.0,1311.8 L1406.0,1311.2 L1408.0,1310.5 L1410.0,1309.5 L1412.0,1308.2 L1414.0,1307.0 L1416.0,1305.7 L1418.0,1303.9 L1420.0,1301.6 L1422.0,1299.3 L1424.0,1296.7 L1426.0,1294.9 L1428.0,1293.2 L1430.0,1292.8 L1432.0,1291.7 L1434.0,1290.9 L1436.0,1290.2 L1438.0,1289.9 L1440.0,1290.2 L1442.0,1290.1 L1444.0,1290.5 L1446.0,1290.4 L1448.0,1291.0 L1450.0,1291.3 L1452.0,1291.8 L1454.0,1291.9 L1456.0,1291.8 L1458.0,1292.0 L1460.0,1292.2 L1462.0,1292.8 L1464.0,1292.7 L1466.0,1292.7 L1468.0,1293.2 L1470.0,1294.5 L1472.0,1294.6 L1474.0,1294.9 L1476.0,1294.2 L1478.0,1295.3 L1480.0,1295.6 L1482.0,1296.6 L1484.0,1295.4 L1486.0,1295.4 L1488.0,1295.0 L1490.0,1296.7 L1492.0,1297.2 L1494.0,1297.9 L1496.0,1298.8 L1498.0,1300.7 L1500.0,1300.1 L1502.0,1300.1 L1504.0,1299.8 L1506.0,1301.6 L1508.0,1301.9 L1510.0,1301.5 L1512.0,1301.4 L1514.0,1302.3 L1516.0,1303.8 L1518.0,1304.6 L1520.0,1304.1 L1522.0,1303.9 L1524.0,1303.9 L1526.0,1304.7 L1528.0,1304.8 L1530.0,1304.6 L1532.0,1304.5 L1534.0,1303.9 L1536.0,1304.7 L1538.0,1305.2 L1540.0,1305.2 L1542.0,1305.0 L1544.0,1304.0 L1546.0,1305.1 L1548.0,1305.4 L1550.0,1305.8 L1552.0,1305.9 L1554.0,1305.2 L1556.0,1305.1 L1558.0,1304.4 L1560.0,1304.5 L1562.0,1304.8 L1564.0,1305.2 L1566.0,1305.0 L1568.0,1305.6 L1570.0,1306.1 L1572.0,1306.3 L1574.0,1305.2 L1576.0,1305.2 L1578.0,1306.1 L1580.0,1306.8 L1582.0,1306.0 L1584.0,1305.8 L1586.0,1306.9 L1588.0,1307.0 L1590.0,1307.5 L1592.0,1307.1 L1594.0,1308.1 L1596.0,1308.6 L1598.0,1308.7 L1600.0,1309.9 L1602.0,1310.9 L1604.0,1312.2 L1606.0,1312.2 L1608.0,1311.3 L1610.0,1311.2 L1612.0,1311.3 L1614.0,1313.5 L1616.0,1314.6 L1618.0,1315.4 L1620.0,1314.5 L1622.0,1314.6 L1624.0,1315.4 L1626.0,1316.0 L1628.0,1317.8 L1630.0,1318.1 L1632.0,1318.9 L1634.0,1318.7 L1636.0,1320.3 L1638.0,1321.9 L1640.0,1322.0 L1642.0,1321.9 L1644.0,1321.8 L1646.0,1322.8 L1648.0,1323.3 L1650.0,1323.3 L1652.0,1322.9 L1654.0,1323.4 L1656.0,1323.8 L1658.0,1325.6 L1660.0,1326.0 L1662.0,1326.6 L1664.0,1326.2 L1666.0,1326.4 L1668.0,1327.4 L1670.0,1328.5 L1672.0,1328.5 L1674.0,1328.1 L1676.0,1328.3 L1678.0,1329.4 L1680.0,1330.9 L1682.0,1331.4 L1684.0,1331.9 L1686.0,1332.7 L1688.0,1332.5 L1690.0,1333.0 L1692.0,1332.7 L1694.0,1333.0 L1696.0,1333.8 L1698.0,1334.9 L1700.0,1335.0 L1702.0,1334.6 L1704.0,1334.9 L1706.0,1336.8 L1708.0,1337.5 L1710.0,1337.7 L1712.0,1336.9 L1714.0,1339.0 L1716.0,1339.7 L1718.0,1341.3 L1720.0,1340.8 L1722.0,1341.5 L1724.0,1341.8 L1726.0,1341.7 L1728.0,1342.0 L1730.0,1342.2 L1732.0,1343.4 L1734.0,1343.2 L1736.0,1343.3 L1738.0,1343.5 L1740.0,1345.1 L1742.0,1345.9 L1744.0,1345.8 L1746.0,1345.6 L1748.0,1345.8 L1750.0,1347.5 L1752.0,1348.5 L1754.0,1349.8 L1756.0,1349.3 L1758.0,1348.9 L1760.0,1349.1 L1762.0,1350.0 L1764.0,1350.7 L1766.0,1350.1 L1768.0,1349.8 L1770.0,1349.2 L1772.0,1349.4 L1774.0,1348.3 L1776.0,1347.7 L1778.0,1347.3 L1780.0,1347.6 L1782.0,1348.7 L1784.0,1348.0 L1786.0,1347.6 L1788.0,1345.8 L1790.0,1344.9 L1792.0,1343.8 L1794.0,1344.6 L1796.0,1345.2 L1798.0,1347.2 L1800.0,1348.5 L1802.0,1349.9 L1804.0,1351.4 L1806.0,1352.0 L1808.0,1353.9 L1810.0,1354.1 L1812.0,1355.4 L1814.0,1355.2 L1816.0,1356.4 L1818.0,1356.5 L1820.0,1357.7 L1822.0,1358.4 L1824.0,1359.4 L1826.0,1360.0 L1828.0,1360.6 L1830.0,1361.3 L1832.0,1361.0 L1834.0,1361.3 L1836.0,1361.5 L1838.0,1362.2 L1840.0,1362.4 L1842.0,1361.7 L1844.0,1363.0 L1846.0,1362.9 L1848.0,1363.7 L1850.0,1363.7 L1852.0,1363.9" stroke="#000000" stroke-width="7.4"/>
<path d="M588.0,1466.6 L590.0,1466.4 L592.0,1466.3 L594.0,1466.0 L596.0,1466.1 L598.0,1466.4 L600.0,1466.6 L602.0,1466.8 L604.0,1466.5 L606.0,1466.3 L608.0,1466.0 L610.0,1466.3 L612.0,1466.4 L614.0,1466.5 L616.0,1466.5 L618.0,1466.4 L620.0,1466.3 L622.0,1466.4 L624.0,1466.3 L626.0,1466.3 L628.0,1466.3 L630.0,1466.4 L632.0,1466.4 L634.0,1466.0 L636.0,1466.3 L638.0,1465.7 L640.0,1465.6 L642.0,1465.0 L644.0,1465.6 L646.0,1465.8 L648.0,1465.9 L650.0,1465.3 L652.0,1465.1 L654.0,1464.9 L656.0,1464.6 L658.0,1463.7 L660.0,1462.8 L662.0,1462.3 L664.0,1461.8 L666.0,1461.2 L668.0,1460.4 L670.0,1459.3 L672.0,1458.6 L674.0,1457.8 L676.0,1457.6 L678.0,1457.1 L680.0,1456.6 L682.0,1455.9 L684.0,1455.5 L686.0,1455.2 L688.0,1454.8 L690.0,1453.6 L692.0,1453.1 L694.0,1452.8 L696.0,1453.1 L698.0,1452.5 L700.0,1451.9 L702.0,1451.2 L704.0,1451.0 L706.0,1450.5 L708.0,1450.2 L710.0,1449.5 L712.0,1449.3 L714.0,1448.7 L716.0,1448.5 L718.0,1448.0 L720.0,1447.8 L722.0,1447.4 L724.0,1447.3 L726.0,1446.6 L728.0,1446.3 L730.0,1445.7 L732.0,1445.5 L734.0,1445.1 L736.0,1444.6 L738.0,1444.3 L740.0,1443.5 L742.0,1442.9 L744.0,1442.4 L746.0,1442.4 L748.0,1442.2 L750.0,1441.6 L752.0,1440.8 L754.0,1440.0 L756.0,1439.4 L758.0,1439.4 L760.0,1438.9 L762.0,1438.5 L764.0,1437.6 L766.0,1437.7 L768.0,1437.6 L770.0,1437.4 L772.0,1437.0 L774.0,1436.8 L776.0,1436.7 L778.0,1436.3 L780.0,1435.6 L782.0,1435.0 L784.0,1435.1 L786.0,1435.0 L788.0,1435.2 L790.0,1435.0 L792.0,1434.9 L794.0,1434.4 L796.0,1434.2 L798.0,1434.2 L800.0,1434.2 L802.0,1433.7 L804.0,1433.7 L806.0,1433.4 L808.0,1433.1 L810.0,1432.8 L812.0,1432.9 L814.0,1433.4 L816.0,1433.3 L818.0,1433.0 L820.0,1432.9 L822.0,1432.8 L824.0,1432.8 L826.0,1432.3 L828.0,1432.1 L830.0,1432.2 L832.0,1432.3 L834.0,1432.2 L836.0,1431.9 L838.0,1432.1 L840.0,1432.0 L842.0,1432.0 L844.0,1431.8 L846.0,1431.9 L848.0,1431.7 L850.0,1431.7 L852.0,1431.8 L854.0,1431.8 L856.0,1431.6 L858.0,1431.4 L860.0,1431.4 L862.0,1431.4 L864.0,1431.5 L866.0,1431.5 L868.0,1431.4 L870.0,1431.4 L872.0,1431.4 L874.0,1431.5 L876.0,1431.5 L878.0,1431.5 L880.0,1431.5 L882.0,1431.4 L884.0,1431.4 L886.0,1431.4 L888.0,1431.4 L890.0,1431.4 L892.0,1431.4 L894.0,1431.3 L896.0,1431.3 L898.0,1431.3 L900.0,1431.3 L902.0,1431.3 L904.0,1431.3 L906.0,1431.3 L908.0,1431.2 L910.0,1431.2 L912.0,1431.0 L914.0,1430.7 L916.0,1430.3 L918.0,1429.7 L920.0,1429.0 L922.0,1428.3 L924.0,1427.5 L926.0,1426.8 L928.0,1426.0 L930.0,1425.2 L932.0,1424.3 L934.0,1423.3 L936.0,1422.2 L938.0,1421.1 L940.0,1420.0 L942.0,1418.8 L944.0,1417.7 L946.0,1416.7 L948.0,1415.8 L950.0,1414.9 L952.0,1414.0 L954.0,1413.1 L956.0,1412.1 L958.0,1410.8 L960.0,1409.1 L962.0,1406.9 L964.0,1404.5 L966.0,1402.3 L968.0,1400.3 L970.0,1398.3 L972.0,1396.2 L974.0,1393.9 L976.0,1391.3 L978.0,1388.4 L980.0,1385.1 L982.0,1381.5 L984.0,1377.5 L986.0,1373.3 L988.0,1368.8 L990.0,1364.1 L992.0,1359.3 L994.0,1354.0 L996.0,1348.3 L998.0,1342.2 L1000.0,1335.8 L1002.0,1329.0 L1004.0,1321.9 L1006.0,1314.3 L1008.0,1306.2 L1010.0,1297.7 L1012.0,1288.9 L1014.0,1279.7 L1016.0,1269.9 L1018.0,1259.4 L1020.0,1247.9 L1022.0,1235.0 L1024.0,1222.0 L1026.0,1209.6 L1028.0,1195.7 L1030.0,1179.8 L1032.0,1162.8 L1034.0,1145.3 L1036.0,1128.1 L1038.0,1111.7 L1040.0,1095.5 L1042.0,1079.4 L1044.0,1063.6 L1046.0,1048.0 L1048.0,1032.8 L1050.0,1017.9 L1052.0,1003.3 L1054.0,988.7 L1056.0,973.8 L1058.0,959.2 L1060.0,945.8 L1062.0,933.2 L1064.0,921.0 L1066.0,910.3 L1068.0,901.9 L1070.0,895.3 L1072.0,889.9 L1074.0,886.8 L1076.0,885.1 L1078.0,884.0 L1080.0,883.7 L1082.0,884.8 L1084.0,887.0 L1086.0,889.9 L1088.0,895.6 L1090.0,903.1 L1092.0,910.4 L1094.0,918.0 L1096.0,926.5 L1098.0,936.4 L1100.0,949.3 L1102.0,963.7 L1104.0,977.1 L1106.0,990.2 L1108.0,1003.5 L1110.0,1017.1 L1112.0,1030.8 L1114.0,1043.9 L1116.0,1055.7 L1118.0,1066.3 L1120.0,1076.4 L1122.0,1086.8 L1124.0,1098.2 L1126.0,1111.0 L1128.0,1123.9 L1130.0,1135.5 L1132.0,1145.0 L1134.0,1153.4 L1136.0,1161.2 L1138.0,1168.7 L1140.0,1176.2 L1142.0,1183.9 L1144.0,1191.4 L1146.0,1198.7 L1148.0,1205.5 L1150.0,1211.7 L1152.0,1217.2 L1154.0,1221.1 L1156.0,1224.3 L1158.0,1227.0 L1160.0,1229.5 L1162.0,1231.8 L1164.0,1234.1 L1166.0,1236.4 L1168.0,1238.9 L1170.0,1241.7 L1172.0,1244.7 L1174.0,1247.7 L1176.0,1250.7 L1178.0,1253.8 L1180.0,1256.9 L1182.0,1259.9 L1184.0,1262.9 L1186.0,1265.8 L1188.0,1268.8 L1190.0,1271.7 L1192.0,1274.6 L1194.0,1277.4 L1196.0,1280.1 L1198.0,1282.8 L1200.0,1285.6 L1202.0,1288.3 L1204.0,1290.5 L1206.0,1291.8 L1208.0,1292.8 L1210.0,1293.7 L1212.0,1294.4 L1214.0,1295.1 L1216.0,1295.6 L1218.0,1295.9 L1220.0,1296.0 L1222.0,1296.0 L1224.0,1296.0 L1226.0,1296.0 L1228.0,1296.0 L1230.0,1296.0 L1232.0,1296.0 L1234.0,1296.0 L1236.0,1296.0 L1238.0,1296.0 L1240.0,1296.0 L1242.0,1296.0 L1244.0,1296.0 L1246.0,1296.0 L1248.0,1296.0 L1250.0,1296.0 L1252.0,1296.0 L1254.0,1296.2 L1256.0,1296.6 L1258.0,1297.1 L1260.0,1297.7 L1262.0,1298.3 L1264.0,1298.9 L1266.0,1299.4 L1268.0,1299.7 L1270.0,1299.8 L1272.0,1299.7 L1274.0,1299.5 L1276.0,1299.2 L1278.0,1298.7 L1280.0,1298.3 L1282.0,1297.7 L1284.0,1297.2 L1286.0,1296.6 L1288.0,1296.0 L1290.0,1295.4 L1292.0,1294.7 L1294.0,1293.8 L1296.0,1293.0 L1298.0,1292.0 L1300.0,1291.1 L1302.0,1290.1 L1304.0,1289.1 L1306.0,1288.1 L1308.0,1287.2 L1310.0,1286.1 L1312.0,1284.9 L1314.0,1283.8 L1316.0,1282.6 L1318.0,1281.5 L1320.0,1280.5 L1322.0,1279.5 L1324.0,1278.8 L1326.0,1278.2 L1328.0,1277.5 L1330.0,1277.0 L1332.0,1276.5 L1334.0,1276.1 L1336.0,1275.9 L1338.0,1276.0 L1340.0,1276.7 L1342.0,1277.7 L1344.0,1279.0 L1346.0,1280.3 L1348.0,1281.5 L1350.0,1282.4 L1352.0,1283.3 L1354.0,1284.2 L1356.0,1285.0 L1358.0,1285.8 L1360.0,1286.6 L1362.0,1287.4 L1364.0,1288.1 L1366.0,1288.8 L1368.0,1289.5 L1370.0,1290.2 L1372.0,1290.9 L1374.0,1291.5 L1376.0,1292.1 L1378.0,1292.7 L1380.0,1293.3 L1382.0,1293.9 L1384.0,1294.5 L1386.0,1295.1 L1388.0,1295.8 L1390.0,1296.5 L1392.0,1297.1 L1394.0,1297.5 L1396.0,1298.1 L1398.0,1298.4 L1400.0,1298.8 L1402.0,1298.7 L1404.0,1298.8 L1406.0,1298.6 L1408.0,1298.3 L1410.0,1297.8 L1412.0,1297.3 L1414.0,1296.7 L1416.0,1295.9 L1418.0,1295.1 L1420.0,1293.6 L1422.0,1291.6 L1424.0,1288.7 L1426.0,1286.4 L1428.0,1284.3 L1430.0,1283.1 L1432.0,1282.8 L1434.0,1282.2 L1436.0,1282.1 L1438.0,1281.8 L1440.0,1281.8 L1442.0,1282.1 L1444.0,1282.4 L1446.0,1282.2 L1448.0,1281.9 L1450.0,1281.8 L1452.0,1282.7 L1454.0,1282.4 L1456.0,1283.0 L1458.0,1283.0 L1460.0,1284.8 L1462.0,1284.8 L1464.0,1285.1 L1466.0,1285.0 L1468.0,1286.0 L1470.0,1286.8 L1472.0,1286.4 L1474.0,1286.6 L1476.0,1286.5 L1478.0,1287.5 L1480.0,1287.3 L1482.0,1287.7 L1484.0,1288.0 L1486.0,1288.6 L1488.0,1289.6 L1490.0,1290.7 L1492.0,1291.5 L1494.0,1291.7 L1496.0,1292.1 L1498.0,1293.3 L1500.0,1295.1 L1502.0,1295.7 L1504.0,1296.0 L1506.0,1296.3 L1508.0,1297.3 L1510.0,1298.1 L1512.0,1297.8 L1514.0,1297.3 L1516.0,1297.4 L1518.0,1298.6 L1520.0,1299.8 L1522.0,1298.0 L1524.0,1297.3 L1526.0,1295.1 L1528.0,1296.7 L1530.0,1297.0 L1532.0,1298.7 L1534.0,1298.3 L1536.0,1299.0 L1538.0,1298.9 L1540.0,1299.6 L1542.0,1299.3 L1544.0,1299.7 L1546.0,1299.4 L1548.0,1299.3 L1550.0,1298.7 L1552.0,1298.9 L1554.0,1299.4 L1556.0,1300.0 L1558.0,1300.2 L1560.0,1300.5 L1562.0,1300.2 L1564.0,1300.0 L1566.0,1299.5 L1568.0,1300.0 L1570.0,1300.5 L1572.0,1300.6 L1574.0,1301.1 L1576.0,1301.5 L1578.0,1302.5 L1580.0,1303.3 L1582.0,1304.7 L1584.0,1304.7 L1586.0,1305.2 L1588.0,1304.0 L1590.0,1305.0 L1592.0,1306.0 L1594.0,1307.7 L1596.0,1307.7 L1598.0,1307.5 L1600.0,1308.1 L1602.0,1309.0 L1604.0,1310.1 L1606.0,1309.6 L1608.0,1310.9 L1610.0,1311.4 L1612.0,1312.7 L1614.0,1312.1 L1616.0,1312.1 L1618.0,1312.4 L1620.0,1313.4 L1622.0,1314.0 L1624.0,1314.3 L1626.0,1314.7 L1628.0,1316.0 L1630.0,1315.6 L1632.0,1315.3 L1634.0,1314.4 L1636.0,1315.5 L1638.0,1315.9 L1640.0,1317.4 L1642.0,1318.3 L1644.0,1319.6 L1646.0,1319.5 L1648.0,1320.0 L1650.0,1320.7 L1652.0,1321.7 L1654.0,1321.8 L1656.0,1322.5 L1658.0,1322.1 L1660.0,1323.6 L1662.0,1322.2 L1664.0,1323.2 L1666.0,1322.4 L1668.0,1324.9 L1670.0,1324.9 L1672.0,1326.9 L1674.0,1326.2 L1676.0,1328.4 L1678.0,1328.2 L1680.0,1329.5 L1682.0,1329.1 L1684.0,1330.5 L1686.0,1331.4 L1688.0,1330.5 L1690.0,1330.5 L1692.0,1330.6 L1694.0,1331.4 L1696.0,1331.6 L1698.0,1331.4 L1700.0,1332.7 L1702.0,1332.9 L1704.0,1333.6 L1706.0,1334.3 L1708.0,1334.1 L1710.0,1335.0 L1712.0,1334.8 L1714.0,1335.7 L1716.0,1337.0 L1718.0,1337.8 L1720.0,1337.8 L1722.0,1337.2 L1724.0,1337.2 L1726.0,1338.2 L1728.0,1338.7 L1730.0,1339.6 L1732.0,1340.0 L1734.0,1340.2 L1736.0,1340.8 L1738.0,1341.8 L1740.0,1342.3 L1742.0,1342.6 L1744.0,1342.6 L1746.0,1344.1 L1748.0,1345.2 L1750.0,1345.3 L1752.0,1345.1 L1754.0,1344.2 L1756.0,1344.5 L1758.0,1344.8 L1760.0,1346.1 L1762.0,1347.2 L1764.0,1347.2 L1766.0,1346.2 L1768.0,1345.9 L1770.0,1345.9 L1772.0,1346.6 L1774.0,1346.2 L1776.0,1346.4 L1778.0,1346.2 L1780.0,1346.2 L1782.0,1345.3 L1784.0,1345.2 L1786.0,1344.3 L1788.0,1344.3 L1790.0,1344.6 L1792.0,1344.9 L1794.0,1344.2 L1796.0,1344.2 L1798.0,1345.1 L1800.0,1347.1 L1802.0,1347.5 L1804.0,1348.3 L1806.0,1348.9 L1808.0,1349.6 L1810.0,1351.3 L1812.0,1352.2 L1814.0,1353.1 L1816.0,1353.0 L1818.0,1354.9 L1820.0,1356.3 L1822.0,1357.1 L1824.0,1356.8 L1826.0,1357.2 L1828.0,1358.3 L1830.0,1357.9 L1832.0,1358.5 L1834.0,1358.3 L1836.0,1359.1 L1838.0,1358.8 L1840.0,1359.6 L1842.0,1361.1 L1844.0,1361.6 L1846.0,1361.7 L1848.0,1360.6 L1850.0,1360.9 L1852.0,1360.6" stroke="#0000ff" stroke-width="6.3"/>
<path d="M588.0,1466.6 L590.0,1466.4 L592.0,1466.3 L594.0,1466.0 L596.0,1466.1 L598.0,1466.4 L600.0,1466.6 L602.0,1466.8 L604.0,1466.5 L606.0,1466.3 L608.0,1466.0 L610.0,1466.3 L612.0,1466.4 L614.0,1466.5 L616.0,1466.5 L618.0,1466.4 L620.0,1466.3 L622.0,1466.4 L624.0,1466.3 L626.0,1466.3 L628.0,1466.3 L630.0,1466.4 L632.0,1466.4 L634.0,1466.0 L636.0,1466.3 L638.0,1465.7 L640.0,1465.6 L642.0,1465.0 L644.0,1465.6 L646.0,1465.8 L648.0,1465.9 L650.0,1465.3 L652.0,1465.1 L654.0,1464.9 L656.0,1464.6 L658.0,1463.7 L660.0,1462.8 L662.0,1462.3 L664.0,1461.8 L666.0,1461.2 L668.0,1460.4 L670.0,1459.3 L672.0,1458.6 L674.0,1457.8 L676.0,1457.6 L678.0,1457.1 L680.0,1456.6 L682.0,1455.9 L684.0,1455.5 L686.0,1455.2 L688.0,1454.8 L690.0,1453.6 L692.0,1453.1 L694.0,1452.8 L696.0,1453.1 L698.0,1452.5 L700.0,1451.9 L702.0,1451.2 L704.0,1451.0 L706.0,1450.5 L708.0,1450.2 L710.0,1449.5 L712.0,1449.3 L714.0,1448.7 L716.0,1448.5 L718.0,1448.0 L720.0,1447.8 L722.0,1447.4 L724.0,1447.3 L726.0,1446.6 L728.0,1446.3 L730.0,1445.7 L732.0,1445.5 L734.0,1445.1 L736.0,1444.6 L738.0,1444.3 L740.0,1443.5 L742.0,1442.9 L744.0,1442.4 L746.0,1442.4 L748.0,1442.2 L750.0,1441.6 L752.0,1440.8 L754.0,1440.0 L756.0,1439.4 L758.0,1439.4 L760.0,1438.9 L762.0,1438.5 L764.0,1437.6 L766.0,1437.7 L768.0,1437.6 L770.0,1437.4 L772.0,1437.0 L774.0,1436.8 L776.0,1436.7 L778.0,1436.3 L780.0,1435.6 L782.0,1435.0 L784.0,1435.1 L786.0,1435.0 L788.0,1435.2 L790.0,1435.0 L792.0,1434.9 L794.0,1434.4 L796.0,1434.2 L798.0,1434.2 L800.0,1434.2 L802.0,1433.7 L804.0,1433.7 L806.0,1433.4 L808.0,1433.1 L810.0,1432.8 L812.0,1432.9 L814.0,1433.4 L816.0,1433.3 L818.0,1433.0 L820.0,1432.9 L822.0,1432.8 L824.0,1432.8 L826.0,1432.3 L828.0,1432.1 L830.0,1432.2 L832.0,1432.3 L834.0,1432.2 L836.0,1431.9 L838.0,1432.1 L840.0,1432.0 L842.0,1432.0 L844.0,1431.8 L846.0,1431.9 L848.0,1431.7 L850.0,1431.7 L852.0,1431.8 L854.0,1431.8 L856.0,1431.6 L858.0,1431.4 L860.0,1431.4 L862.0,1431.4 L864.0,1431.5 L866.0,1431.5 L868.0,1431.4 L870.0,1431.4 L872.0,1431.4 L874.0,1431.5 L876.0,1431.5 L878.0,1431.5 L880.0,1431.5 L882.0,1431.4 L884.0,1431.4 L886.0,1431.4 L888.0,1431.4 L890.0,1431.4 L892.0,1431.4 L894.0,1431.3 L896.0,1431.3 L898.0,1431.3 L900.0,1431.3 L902.0,1431.3 L904.0,1431.3 L906.0,1431.3 L908.0,1431.2 L910.0,1431.2 L912.0,1431.0 L914.0,1430.7 L916.0,1430.3 L918.0,1429.7 L920.0,1429.0 L922.0,1428.3 L924.0,1427.5 L926.0,1426.8 L928.0,1426.0 L930.0,1425.2 L932.0,1424.3 L934.0,1423.3 L936.0,1422.2 L938.0,1421.1 L940.0,1420.0 L942.0,1418.8 L944.0,1417.7 L946.0,1416.7 L948.0,1415.8 L950.0,1414.9 L952.0,1414.0 L954.0,1413.1" stroke="#0000ff" stroke-width="7.6"/>
<path d="M1400.0,1298.8 L1402.0,1298.7 L1404.0,1298.8 L1406.0,1298.6 L1408.0,1298.3 L1410.0,1297.8 L1412.0,1297.3 L1414.0,1296.7 L1416.0,1295.9 L1418.0,1295.1 L1420.0,1293.6 L1422.0,1291.6 L1424.0,1288.7 L1426.0,1286.4 L1428.0,1284.3 L1430.0,1283.1 L1432.0,1282.8 L1434.0,1282.2 L1436.0,1282.1 L1438.0,1281.8 L1440.0,1281.8 L1442.0,1282.1 L1444.0,1282.4 L1446.0,1282.2 L1448.0,1281.9 L1450.0,1281.8 L1452.0,1282.7 L1454.0,1282.4 L1456.0,1283.0 L1458.0,1283.0 L1460.0,1284.8 L1462.0,1284.8 L1464.0,1285.1 L1466.0,1285.0 L1468.0,1286.0 L1470.0,1286.8 L1472.0,1286.4 L1474.0,1286.6 L1476.0,1286.5 L1478.0,1287.5 L1480.0,1287.3 L1482.0,1287.7 L1484.0,1288.0 L1486.0,1288.6 L1488.0,1289.6 L1490.0,1290.7 L1492.0,1291.5 L1494.0,1291.7 L1496.0,1292.1 L1498.0,1293.3 L1500.0,1295.1 L1502.0,1295.7 L1504.0,1296.0 L1506.0,1296.3 L1508.0,1297.3 L1510.0,1298.1 L1512.0,1297.8 L1514.0,1297.3 L1516.0,1297.4 L1518.0,1298.6 L1520.0,1299.8 L1522.0,1298.0 L1524.0,1297.3 L1526.0,1295.1 L1528.0,1296.7 L1530.0,1297.0 L1532.0,1298.7 L1534.0,1298.3 L1536.0,1299.0 L1538.0,1298.9 L1540.0,1299.6 L1542.0,1299.3 L1544.0,1299.7 L1546.0,1299.4 L1548.0,1299.3 L1550.0,1298.7 L1552.0,1298.9 L1554.0,1299.4 L1556.0,1300.0 L1558.0,1300.2 L1560.0,1300.5 L1562.0,1300.2 L1564.0,1300.0 L1566.0,1299.5 L1568.0,1300.0 L1570.0,1300.5 L1572.0,1300.6 L1574.0,1301.1 L1576.0,1301.5 L1578.0,1302.5 L1580.0,1303.3 L1582.0,1304.7 L1584.0,1304.7 L1586.0,1305.2 L1588.0,1304.0 L1590.0,1305.0 L1592.0,1306.0 L1594.0,1307.7 L1596.0,1307.7 L1598.0,1307.5 L1600.0,1308.1 L1602.0,1309.0 L1604.0,1310.1 L1606.0,1309.6 L1608.0,1310.9 L1610.0,1311.4 L1612.0,1312.7 L1614.0,1312.1 L1616.0,1312.1 L1618.0,1312.4 L1620.0,1313.4 L1622.0,1314.0 L1624.0,1314.3 L1626.0,1314.7 L1628.0,1316.0 L1630.0,1315.6 L1632.0,1315.3 L1634.0,1314.4 L1636.0,1315.5 L1638.0,1315.9 L1640.0,1317.4 L1642.0,1318.3 L1644.0,1319.6 L1646.0,1319.5 L1648.0,1320.0 L1650.0,1320.7 L1652.0,1321.7 L1654.0,1321.8 L1656.0,1322.5 L1658.0,1322.1 L1660.0,1323.6 L1662.0,1322.2 L1664.0,1323.2 L1666.0,1322.4 L1668.0,1324.9 L1670.0,1324.9 L1672.0,1326.9 L1674.0,1326.2 L1676.0,1328.4 L1678.0,1328.2 L1680.0,1329.5 L1682.0,1329.1 L1684.0,1330.5 L1686.0,1331.4 L1688.0,1330.5 L1690.0,1330.5 L1692.0,1330.6 L1694.0,1331.4 L1696.0,1331.6 L1698.0,1331.4 L1700.0,1332.7 L1702.0,1332.9 L1704.0,1333.6 L1706.0,1334.3 L1708.0,1334.1 L1710.0,1335.0 L1712.0,1334.8 L1714.0,1335.7 L1716.0,1337.0 L1718.0,1337.8 L1720.0,1337.8 L1722.0,1337.2 L1724.0,1337.2 L1726.0,1338.2 L1728.0,1338.7 L1730.0,1339.6 L1732.0,1340.0 L1734.0,1340.2 L1736.0,1340.8 L1738.0,1341.8 L1740.0,1342.3 L1742.0,1342.6 L1744.0,1342.6 L1746.0,1344.1 L1748.0,1345.2 L1750.0,1345.3 L1752.0,1345.1 L1754.0,1344.2 L1756.0,1344.5 L1758.0,1344.8 L1760.0,1346.1 L1762.0,1347.2 L1764.0,1347.2 L1766.0,1346.2 L1768.0,1345.9 L1770.0,1345.9 L1772.0,1346.6 L1774.0,1346.2 L1776.0,1346.4 L1778.0,1346.2 L1780.0,1346.2 L1782.0,1345.3 L1784.0,1345.2 L1786.0,1344.3 L1788.0,1344.3 L1790.0,1344.6 L1792.0,1344.9 L1794.0,1344.2 L1796.0,1344.2 L1798.0,1345.1 L1800.0,1347.1 L1802.0,1347.5 L1804.0,1348.3 L1806.0,1348.9 L1808.0,1349.6 L1810.0,1351.3 L1812.0,1352.2 L1814.0,1353.1 L1816.0,1353.0 L1818.0,1354.9 L1820.0,1356.3 L1822.0,1357.1 L1824.0,1356.8 L1826.0,1357.2 L1828.0,1358.3 L1830.0,1357.9 L1832.0,1358.5 L1834.0,1358.3 L1836.0,1359.1 L1838.0,1358.8 L1840.0,1359.6 L1842.0,1361.1 L1844.0,1361.6 L1846.0,1361.7 L1848.0,1360.6 L1850.0,1360.9 L1852.0,1360.6" stroke="#0000ff" stroke-width="7.4"/>
<path d="M588.0,1462.4 L590.0,1462.3 L592.0,1462.3 L594.0,1462.2 L596.0,1462.3 L598.0,1462.2 L600.0,1462.2 L602.0,1462.2 L604.0,1462.1 L606.0,1462.5 L608.0,1462.4 L610.0,1462.5 L612.0,1462.4 L614.0,1462.8 L616.0,1462.8 L618.0,1462.8 L620.0,1462.7 L622.0,1462.2 L624.0,1461.8 L626.0,1461.6 L628.0,1461.8 L630.0,1462.1 L632.0,1462.0 L634.0,1461.9 L636.0,1461.5 L638.0,1461.5 L640.0,1461.8 L642.0,1462.0 L644.0,1462.5 L646.0,1462.4 L648.0,1462.2 L650.0,1461.6 L652.0,1461.7 L654.0,1461.7 L656.0,1461.8 L658.0,1461.5 L660.0,1461.5 L662.0,1461.5 L664.0,1461.3 L666.0,1461.2 L668.0,1461.1 L670.0,1461.0 L672.0,1460.7 L674.0,1460.3 L676.0,1459.9 L678.0,1459.7 L680.0,1459.5 L682.0,1458.9 L684.0,1458.4 L686.0,1457.6 L688.0,1457.5 L690.0,1456.8 L692.0,1456.6 L694.0,1455.6 L696.0,1455.3 L698.0,1454.8 L700.0,1453.9 L702.0,1453.1 L704.0,1451.9 L706.0,1451.6 L708.0,1450.8 L710.0,1450.0 L712.0,1448.8 L714.0,1448.3 L716.0,1448.0 L718.0,1447.6 L720.0,1446.5 L722.0,1445.5 L724.0,1444.9 L726.0,1444.3 L728.0,1443.7 L730.0,1442.6 L732.0,1442.0 L734.0,1441.7 L736.0,1441.4 L738.0,1441.1 L740.0,1440.5 L742.0,1440.0 L744.0,1439.6 L746.0,1439.0 L748.0,1438.3 L750.0,1437.4 L752.0,1437.1 L754.0,1436.7 L756.0,1436.2 L758.0,1435.5 L760.0,1435.2 L762.0,1435.3 L764.0,1435.1 L766.0,1434.7 L768.0,1434.1 L770.0,1433.6 L772.0,1433.2 L774.0,1433.0 L776.0,1432.8 L778.0,1432.8 L780.0,1432.3 L782.0,1431.7 L784.0,1431.7 L786.0,1431.5 L788.0,1431.6 L790.0,1431.3 L792.0,1431.2 L794.0,1430.8 L796.0,1430.5 L798.0,1430.3 L800.0,1430.3 L802.0,1430.1 L804.0,1430.0 L806.0,1429.9 L808.0,1429.7 L810.0,1429.5 L812.0,1429.4 L814.0,1429.2 L816.0,1429.0 L818.0,1428.9 L820.0,1428.9 L822.0,1428.9 L824.0,1428.6 L826.0,1428.6 L828.0,1428.7 L830.0,1428.9 L832.0,1428.8 L834.0,1428.5 L836.0,1428.4 L838.0,1428.2 L840.0,1428.4 L842.0,1428.3 L844.0,1428.4 L846.0,1428.0 L848.0,1427.9 L850.0,1427.8 L852.0,1428.0 L854.0,1428.1 L856.0,1428.1 L858.0,1427.9 L860.0,1427.9 L862.0,1427.8 L864.0,1428.0 L866.0,1428.1 L868.0,1428.1 L870.0,1428.1 L872.0,1427.9 L874.0,1428.0 L876.0,1427.9 L878.0,1428.0 L880.0,1427.9 L882.0,1427.9 L884.0,1427.8 L886.0,1427.8 L888.0,1427.8 L890.0,1427.8 L892.0,1427.8 L894.0,1427.8 L896.0,1427.8 L898.0,1427.8 L900.0,1427.8 L902.0,1427.8 L904.0,1427.8 L906.0,1427.7 L908.0,1427.7 L910.0,1427.7 L912.0,1427.7 L914.0,1427.6 L916.0,1427.5 L918.0,1427.4 L920.0,1427.3 L922.0,1427.1 L924.0,1427.0 L926.0,1426.8 L928.0,1426.6 L930.0,1426.4 L932.0,1426.1 L934.0,1425.9 L936.0,1425.6 L938.0,1425.3 L940.0,1425.0 L942.0,1424.7 L944.0,1424.4 L946.0,1424.1 L948.0,1423.7 L950.0,1423.1 L952.0,1422.5 L954.0,1421.8 L956.0,1420.9 L958.0,1420.0 L960.0,1418.7 L962.0,1417.1 L964.0,1415.3 L966.0,1413.7 L968.0,1412.1 L970.0,1410.6 L972.0,1409.0 L974.0,1407.3 L976.0,1405.5 L978.0,1403.7 L980.0,1401.7 L982.0,1399.6 L984.0,1397.4 L986.0,1395.2 L988.0,1392.9 L990.0,1390.6 L992.0,1388.3 L994.0,1386.1 L996.0,1383.9 L998.0,1381.8 L1000.0,1379.7 L1002.0,1377.7 L1004.0,1375.6 L1006.0,1373.5 L1008.0,1371.4 L1010.0,1369.3 L1012.0,1367.0 L1014.0,1364.7 L1016.0,1362.3 L1018.0,1359.7 L1020.0,1357.1 L1022.0,1354.4 L1024.0,1351.6 L1026.0,1348.7 L1028.0,1345.5 L1030.0,1342.0 L1032.0,1338.2 L1034.0,1333.9 L1036.0,1329.1 L1038.0,1323.8 L1040.0,1318.1 L1042.0,1311.9 L1044.0,1305.2 L1046.0,1297.6 L1048.0,1289.4 L1050.0,1280.6 L1052.0,1271.6 L1054.0,1262.0 L1056.0,1251.8 L1058.0,1241.6 L1060.0,1231.9 L1062.0,1222.8 L1064.0,1212.8 L1066.0,1200.3 L1068.0,1185.2 L1070.0,1168.6 L1072.0,1151.7 L1074.0,1135.7 L1076.0,1120.7 L1078.0,1105.9 L1080.0,1090.6 L1082.0,1074.0 L1084.0,1054.4 L1086.0,1032.9 L1088.0,1013.4 L1090.0,998.6 L1092.0,985.4 L1094.0,967.9 L1096.0,946.1 L1098.0,923.7 L1100.0,902.4 L1102.0,881.0 L1104.0,862.9 L1106.0,849.3 L1108.0,837.7 L1110.0,828.1 L1112.0,820.2 L1114.0,813.1 L1116.0,807.4 L1118.0,803.9 L1120.0,801.2 L1122.0,799.1 L1124.0,797.6 L1126.0,797.2 L1128.0,798.2 L1130.0,800.3 L1132.0,803.2 L1134.0,806.3 L1136.0,810.1 L1138.0,815.1 L1140.0,820.9 L1142.0,827.1 L1144.0,833.4 L1146.0,840.4 L1148.0,848.6 L1150.0,859.1 L1152.0,872.7 L1154.0,887.7 L1156.0,903.7 L1158.0,920.7 L1160.0,937.5 L1162.0,954.4 L1164.0,971.1 L1166.0,988.0 L1168.0,1004.3 L1170.0,1019.7 L1172.0,1034.4 L1174.0,1048.1 L1176.0,1060.2 L1178.0,1071.2 L1180.0,1082.0 L1182.0,1093.5 L1184.0,1106.2 L1186.0,1119.5 L1188.0,1132.2 L1190.0,1143.5 L1192.0,1153.7 L1194.0,1163.4 L1196.0,1172.8 L1198.0,1182.6 L1200.0,1192.7 L1202.0,1201.6 L1204.0,1207.7 L1206.0,1211.6 L1208.0,1214.7 L1210.0,1217.3 L1212.0,1219.7 L1214.0,1221.9 L1216.0,1223.9 L1218.0,1225.8 L1220.0,1227.6 L1222.0,1229.3 L1224.0,1231.0 L1226.0,1232.6 L1228.0,1234.2 L1230.0,1235.7 L1232.0,1237.1 L1234.0,1238.5 L1236.0,1239.9 L1238.0,1241.2 L1240.0,1242.6 L1242.0,1243.9 L1244.0,1245.2 L1246.0,1246.5 L1248.0,1247.8 L1250.0,1249.1 L1252.0,1250.3 L1254.0,1251.5 L1256.0,1252.6 L1258.0,1253.7 L1260.0,1254.8 L1262.0,1255.7 L1264.0,1256.8 L1266.0,1257.8 L1268.0,1258.8 L1270.0,1259.7 L1272.0,1260.6 L1274.0,1261.3 L1276.0,1261.9 L1278.0,1262.2 L1280.0,1262.4 L1282.0,1262.5 L1284.0,1262.6 L1286.0,1262.7 L1288.0,1262.8 L1290.0,1262.9 L1292.0,1262.9 L1294.0,1263.0 L1296.0,1263.0 L1298.0,1263.0 L1300.0,1262.9 L1302.0,1262.6 L1304.0,1262.4 L1306.0,1262.1 L1308.0,1261.5 L1310.0,1260.8 L1312.0,1260.0 L1314.0,1259.1 L1316.0,1258.2 L1318.0,1257.2 L1320.0,1256.4 L1322.0,1255.7 L1324.0,1255.1 L1326.0,1254.6 L1328.0,1254.1 L1330.0,1253.7 L1332.0,1253.3 L1334.0,1252.9 L1336.0,1252.7 L1338.0,1252.5 L1340.0,1252.6 L1342.0,1253.7 L1344.0,1255.5 L1346.0,1257.7 L1348.0,1260.1 L1350.0,1262.3 L1352.0,1264.0 L1354.0,1265.5 L1356.0,1266.9 L1358.0,1268.3 L1360.0,1269.7 L1362.0,1271.0 L1364.0,1272.2 L1366.0,1273.3 L1368.0,1274.3 L1370.0,1275.3 L1372.0,1276.3 L1374.0,1277.2 L1376.0,1278.1 L1378.0,1278.9 L1380.0,1279.6 L1382.0,1280.3 L1384.0,1280.9 L1386.0,1281.6 L1388.0,1282.3 L1390.0,1283.0 L1392.0,1283.7 L1394.0,1284.3 L1396.0,1284.8 L1398.0,1285.3 L1400.0,1285.5 L1402.0,1285.5 L1404.0,1285.5 L1406.0,1285.3 L1408.0,1284.9 L1410.0,1283.9 L1412.0,1282.6 L1414.0,1281.1 L1416.0,1279.8 L1418.0,1278.2 L1420.0,1276.2 L1422.0,1273.6 L1424.0,1270.9 L1426.0,1268.8 L1428.0,1267.3 L1430.0,1266.7 L1432.0,1266.1 L1434.0,1266.2 L1436.0,1266.2 L1438.0,1266.4 L1440.0,1266.1 L1442.0,1266.6 L1444.0,1267.1 L1446.0,1267.5 L1448.0,1268.1 L1450.0,1268.7 L1452.0,1270.2 L1454.0,1270.8 L1456.0,1271.8 L1458.0,1272.3 L1460.0,1272.3 L1462.0,1272.2 L1464.0,1272.7 L1466.0,1274.3 L1468.0,1276.0 L1470.0,1276.7 L1472.0,1276.9 L1474.0,1277.2 L1476.0,1277.4 L1478.0,1278.3 L1480.0,1278.4 L1482.0,1279.2 L1484.0,1279.1 L1486.0,1279.2 L1488.0,1278.4 L1490.0,1280.4 L1492.0,1280.7 L1494.0,1281.7 L1496.0,1280.5 L1498.0,1281.0 L1500.0,1281.6 L1502.0,1282.8 L1504.0,1283.6 L1506.0,1284.4 L1508.0,1284.3 L1510.0,1284.6 L1512.0,1285.5 L1514.0,1286.2 L1516.0,1286.8 L1518.0,1285.6 L1520.0,1286.3 L1522.0,1286.6 L1524.0,1288.7 L1526.0,1287.4 L1528.0,1287.5 L1530.0,1287.1 L1532.0,1288.8 L1534.0,1288.7 L1536.0,1289.1 L1538.0,1289.6 L1540.0,1290.2 L1542.0,1290.1 L1544.0,1289.9 L1546.0,1289.9 L1548.0,1290.3 L1550.0,1290.3 L1552.0,1289.8 L1554.0,1290.7 L1556.0,1290.4 L1558.0,1291.6 L1560.0,1290.5 L1562.0,1291.5 L1564.0,1291.4 L1566.0,1292.3 L1568.0,1292.2 L1570.0,1292.4 L1572.0,1292.8 L1574.0,1294.2 L1576.0,1295.3 L1578.0,1295.5 L1580.0,1294.7 L1582.0,1294.8 L1584.0,1295.3 L1586.0,1295.8 L1588.0,1296.7 L1590.0,1296.9 L1592.0,1297.7 L1594.0,1297.5 L1596.0,1297.6 L1598.0,1298.0 L1600.0,1298.9 L1602.0,1299.7 L1604.0,1299.5 L1606.0,1299.4 L1608.0,1299.7 L1610.0,1299.7 L1612.0,1301.0 L1614.0,1301.7 L1616.0,1303.1 L1618.0,1302.6 L1620.0,1303.3 L1622.0,1303.6 L1624.0,1305.4 L1626.0,1305.7 L1628.0,1305.6 L1630.0,1305.5 L1632.0,1305.5 L1634.0,1306.5 L1636.0,1306.5 L1638.0,1307.2 L1640.0,1308.1 L1642.0,1309.1 L1644.0,1310.0 L1646.0,1310.0 L1648.0,1309.4 L1650.0,1309.3 L1652.0,1310.4 L1654.0,1312.0 L1656.0,1313.8 L1658.0,1313.5 L1660.0,1313.6 L1662.0,1313.1 L1664.0,1314.1 L1666.0,1314.6 L1668.0,1315.1 L1670.0,1315.7 L1672.0,1315.7 L1674.0,1316.5 L1676.0,1317.7 L1678.0,1319.3 L1680.0,1319.3 L1682.0,1318.7 L1684.0,1318.2 L1686.0,1318.5 L1688.0,1320.0 L1690.0,1320.2 L1692.0,1321.1 L1694.0,1320.3 L1696.0,1321.0 L1698.0,1321.5 L1700.0,1323.4 L1702.0,1323.7 L1704.0,1324.2 L1706.0,1322.8 L1708.0,1323.0 L1710.0,1322.9 L1712.0,1324.1 L1714.0,1325.4 L1716.0,1326.5 L1718.0,1326.4 L1720.0,1326.9 L1722.0,1326.5 L1724.0,1328.7 L1726.0,1329.0 L1728.0,1330.1 L1730.0,1329.6 L1732.0,1329.9 L1734.0,1330.3 L1736.0,1330.7 L1738.0,1331.6 L1740.0,1332.4 L1742.0,1333.7 L1744.0,1334.0 L1746.0,1334.8 L1748.0,1334.6 L1750.0,1337.0 L1752.0,1336.9 L1754.0,1337.5 L1756.0,1336.7 L1758.0,1338.1 L1760.0,1338.2 L1762.0,1337.1 L1764.0,1335.9 L1766.0,1335.9 L1768.0,1336.0 L1770.0,1336.0 L1772.0,1336.2 L1774.0,1336.4 L1776.0,1335.7 L1778.0,1335.4 L1780.0,1335.3 L1782.0,1336.3 L1784.0,1336.0 L1786.0,1335.2 L1788.0,1334.8 L1790.0,1335.7 L1792.0,1335.8 L1794.0,1336.4 L1796.0,1336.8 L1798.0,1337.9 L1800.0,1337.5 L1802.0,1337.9 L1804.0,1339.5 L1806.0,1342.0 L1808.0,1342.7 L1810.0,1345.0 L1812.0,1346.7 L1814.0,1348.0 L1816.0,1346.6 L1818.0,1346.0 L1820.0,1347.2 L1822.0,1349.3 L1824.0,1350.1 L1826.0,1350.2 L1828.0,1348.9 L1830.0,1349.1 L1832.0,1350.0 L1834.0,1351.1 L1836.0,1351.3 L1838.0,1351.2 L1840.0,1351.5 L1842.0,1351.0 L1844.0,1351.3 L1846.0,1350.8 L1848.0,1352.2 L1850.0,1351.7 L1852.0,1352.5" stroke="#00ff00" stroke-width="6.3"/>
<path d="M588.0,1462.4 L590.0,1462.3 L592.0,1462.3 L594.0,1462.2 L596.0,1462.3 L598.0,1462.2 L600.0,1462.2 L602.0,1462.2 L604.0,1462.1 L606.0,1462.5 L608.0,1462.4 L610.0,1462.5 L612.0,1462.4 L614.0,1462.8 L616.0,1462.8 L618.0,1462.8 L620.0,1462.7 L622.0,1462.2 L624.0,1461.8 L626.0,1461.6 L628.0,1461.8 L630.0,1462.1 L632.0,1462.0 L634.0,1461.9 L636.0,1461.5 L638.0,1461.5 L640.0,1461.8 L642.0,1462.0 L644.0,1462.5 L646.0,1462.4 L648.0,1462.2 L650.0,1461.6 L652.0,1461.7 L654.0,1461.7 L656.0,1461.8 L658.0,1461.5 L660.0,1461.5 L662.0,1461.5 L664.0,1461.3 L666.0,1461.2 L668.0,1461.1 L670.0,1461.0 L672.0,1460.7 L674.0,1460.3 L676.0,1459.9 L678.0,1459.7 L680.0,1459.5 L682.0,1458.9 L684.0,1458.4 L686.0,1457.6 L688.0,1457.5 L690.0,1456.8 L692.0,1456.6 L694.0,1455.6 L696.0,1455.3 L698.0,1454.8 L700.0,1453.9 L702.0,1453.1 L704.0,1451.9 L706.0,1451.6 L708.0,1450.8 L710.0,1450.0 L712.0,1448.8 L714.0,1448.3 L716.0,1448.0 L718.0,1447.6 L720.0,1446.5 L722.0,1445.5 L724.0,1444.9 L726.0,1444.3 L728.0,1443.7 L730.0,1442.6 L732.0,1442.0 L734.0,1441.7 L736.0,1441.4 L738.0,1441.1 L740.0,1440.5 L742.0,1440.0 L744.0,1439.6 L746.0,1439.0 L748.0,1438.3 L750.0,1437.4 L752.0,1437.1 L754.0,1436.7 L756.0,1436.2 L758.0,1435.5 L760.0,1435.2 L762.0,1435.3 L764.0,1435.1 L766.0,1434.7 L768.0,1434.1 L770.0,1433.6 L772.0,1433.2 L774.0,1433.0 L776.0,1432.8 L778.0,1432.8 L780.0,1432.3 L782.0,1431.7 L784.0,1431.7 L786.0,1431.5 L788.0,1431.6 L790.0,1431.3 L792.0,1431.2 L794.0,1430.8 L796.0,1430.5 L798.0,1430.3 L800.0,1430.3 L802.0,1430.1 L804.0,1430.0 L806.0,1429.9 L808.0,1429.7 L810.0,1429.5 L812.0,1429.4 L814.0,1429.2 L816.0,1429.0 L818.0,1428.9 L820.0,1428.9 L822.0,1428.9 L824.0,1428.6 L826.0,1428.6 L828.0,1428.7 L830.0,1428.9 L832.0,1428.8 L834.0,1428.5 L836.0,1428.4 L838.0,1428.2 L840.0,1428.4 L842.0,1428.3 L844.0,1428.4 L846.0,1428.0 L848.0,1427.9 L850.0,1427.8 L852.0,1428.0 L854.0,1428.1 L856.0,1428.1 L858.0,1427.9 L860.0,1427.9 L862.0,1427.8 L864.0,1428.0 L866.0,1428.1 L868.0,1428.1 L870.0,1428.1 L872.0,1427.9 L874.0,1428.0 L876.0,1427.9 L878.0,1428.0 L880.0,1427.9 L882.0,1427.9 L884.0,1427.8 L886.0,1427.8 L888.0,1427.8 L890.0,1427.8 L892.0,1427.8 L894.0,1427.8 L896.0,1427.8 L898.0,1427.8 L900.0,1427.8 L902.0,1427.8 L904.0,1427.8 L906.0,1427.7 L908.0,1427.7 L910.0,1427.7 L912.0,1427.7 L914.0,1427.6 L916.0,1427.5 L918.0,1427.4 L920.0,1427.3 L922.0,1427.1 L924.0,1427.0 L926.0,1426.8 L928.0,1426.6 L930.0,1426.4 L932.0,1426.1 L934.0,1425.9 L936.0,1425.6 L938.0,1425.3 L940.0,1425.0 L942.0,1424.7 L944.0,1424.4 L946.0,1424.1 L948.0,1423.7 L950.0,1423.1 L952.0,1422.5 L954.0,1421.8" stroke="#00ff00" stroke-width="7.6"/>
<path d="M1400.0,1285.5 L1402.0,1285.5 L1404.0,1285.5 L1406.0,1285.3 L1408.0,1284.9 L1410.0,1283.9 L1412.0,1282.6 L1414.0,1281.1 L1416.0,1279.8 L1418.0,1278.2 L1420.0,1276.2 L1422.0,1273.6 L1424.0,1270.9 L1426.0,1268.8 L1428.0,1267.3 L1430.0,1266.7 L1432.0,1266.1 L1434.0,1266.2 L1436.0,1266.2 L1438.0,1266.4 L1440.0,1266.1 L1442.0,1266.6 L1444.0,1267.1 L1446.0,1267.5 L1448.0,1268.1 L1450.0,1268.7 L1452.0,1270.2 L1454.0,1270.8 L1456.0,1271.8 L1458.0,1272.3 L1460.0,1272.3 L1462.0,1272.2 L1464.0,1272.7 L1466.0,1274.3 L1468.0,1276.0 L1470.0,1276.7 L1472.0,1276.9 L1474.0,1277.2 L1476.0,1277.4 L1478.0,1278.3 L1480.0,1278.4 L1482.0,1279.2 L1484.0,1279.1 L1486.0,1279.2 L1488.0,1278.4 L1490.0,1280.4 L1492.0,1280.7 L1494.0,1281.7 L1496.0,1280.5 L1498.0,1281.0 L1500.0,1281.6 L1502.0,1282.8 L1504.0,1283.6 L1506.0,1284.4 L1508.0,1284.3 L1510.0,1284.6 L1512.0,1285.5 L1514.0,1286.2 L1516.0,1286.8 L1518.0,1285.6 L1520.0,1286.3 L1522.0,1286.6 L1524.0,1288.7 L1526.0,1287.4 L1528.0,1287.5 L1530.0,1287.1 L1532.0,1288.8 L1534.0,1288.7 L1536.0,1289.1 L1538.0,1289.6 L1540.0,1290.2 L1542.0,1290.1 L1544.0,1289.9 L1546.0,1289.9 L1548.0,1290.3 L1550.0,1290.3 L1552.0,1289.8 L1554.0,1290.7 L1556.0,1290.4 L1558.0,1291.6 L1560.0,1290.5 L1562.0,1291.5 L1564.0,1291.4 L1566.0,1292.3 L1568.0,1292.2 L1570.0,1292.4 L1572.0,1292.8 L1574.0,1294.2 L1576.0,1295.3 L1578.0,1295.5 L1580.0,1294.7 L1582.0,1294.8 L1584.0,1295.3 L1586.0,1295.8 L1588.0,1296.7 L1590.0,1296.9 L1592.0,1297.7 L1594.0,1297.5 L1596.0,1297.6 L1598.0,1298.0 L1600.0,1298.9 L1602.0,1299.7 L1604.0,1299.5 L1606.0,1299.4 L1608.0,1299.7 L1610.0,1299.7 L1612.0,1301.0 L1614.0,1301.7 L1616.0,1303.1 L1618.0,1302.6 L1620.0,1303.3 L1622.0,1303.6 L1624.0,1305.4 L1626.0,1305.7 L1628.0,1305.6 L1630.0,1305.5 L1632.0,1305.5 L1634.0,1306.5 L1636.0,1306.5 L1638.0,1307.2 L1640.0,1308.1 L1642.0,1309.1 L1644.0,1310.0 L1646.0,1310.0 L1648.0,1309.4 L1650.0,1309.3 L1652.0,1310.4 L1654.0,1312.0 L1656.0,1313.8 L1658.0,1313.5 L1660.0,1313.6 L1662.0,1313.1 L1664.0,1314.1 L1666.0,1314.6 L1668.0,1315.1 L1670.0,1315.7 L1672.0,1315.7 L1674.0,1316.5 L1676.0,1317.7 L1678.0,1319.3 L1680.0,1319.3 L1682.0,1318.7 L1684.0,1318.2 L1686.0,1318.5 L1688.0,1320.0 L1690.0,1320.2 L1692.0,1321.1 L1694.0,1320.3 L1696.0,1321.0 L1698.0,1321.5 L1700.0,1323.4 L1702.0,1323.7 L1704.0,1324.2 L1706.0,1322.8 L1708.0,1323.0 L1710.0,1322.9 L1712.0,1324.1 L1714.0,1325.4 L1716.0,1326.5 L1718.0,1326.4 L1720.0,1326.9 L1722.0,1326.5 L1724.0,1328.7 L1726.0,1329.0 L1728.0,1330.1 L1730.0,1329.6 L1732.0,1329.9 L1734.0,1330.3 L1736.0,1330.7 L1738.0,1331.6 L1740.0,1332.4 L1742.0,1333.7 L1744.0,1334.0 L1746.0,1334.8 L1748.0,1334.6 L1750.0,1337.0 L1752.0,1336.9 L1754.0,1337.5 L1756.0,1336.7 L1758.0,1338.1 L1760.0,1338.2 L1762.0,1337.1 L1764.0,1335.9 L1766.0,1335.9 L1768.0,1336.0 L1770.0,1336.0 L1772.0,1336.2 L1774.0,1336.4 L1776.0,1335.7 L1778.0,1335.4 L1780.0,1335.3 L1782.0,1336.3 L1784.0,1336.0 L1786.0,1335.2 L1788.0,1334.8 L1790.0,1335.7 L1792.0,1335.8 L1794.0,1336.4 L1796.0,1336.8 L1798.0,1337.9 L1800.0,1337.5 L1802.0,1337.9 L1804.0,1339.5 L1806.0,1342.0 L1808.0,1342.7 L1810.0,1345.0 L1812.0,1346.7 L1814.0,1348.0 L1816.0,1346.6 L1818.0,1346.0 L1820.0,1347.2 L1822.0,1349.3 L1824.0,1350.1 L1826.0,1350.2 L1828.0,1348.9 L1830.0,1349.1 L1832.0,1350.0 L1834.0,1351.1 L1836.0,1351.3 L1838.0,1351.2 L1840.0,1351.5 L1842.0,1351.0 L1844.0,1351.3 L1846.0,1350.8 L1848.0,1352.2 L1850.0,1351.7 L1852.0,1352.5" stroke="#00ff00" stroke-width="7.4"/>
<path d="M588.0,1485.4 L590.0,1485.5 L592.0,1485.4 L594.0,1485.6 L596.0,1485.4 L598.0,1485.1 L600.0,1484.9 L602.0,1485.0 L604.0,1485.0 L606.0,1484.9 L608.0,1484.6 L610.0,1484.8 L612.0,1484.9 L614.0,1485.1 L616.0,1485.5 L618.0,1485.5 L620.0,1485.5 L622.0,1485.1 L624.0,1485.0 L626.0,1484.8 L628.0,1484.7 L630.0,1484.8 L632.0,1484.4 L634.0,1484.1 L636.0,1483.8 L638.0,1484.1 L640.0,1484.3 L642.0,1484.1 L644.0,1484.3 L646.0,1483.9 L648.0,1483.8 L650.0,1483.7 L652.0,1483.5 L654.0,1483.5 L656.0,1483.0 L658.0,1482.9 L660.0,1482.9 L662.0,1483.1 L664.0,1482.9 L666.0,1482.5 L668.0,1482.7 L670.0,1482.6 L672.0,1482.6 L674.0,1482.1 L676.0,1481.8 L678.0,1481.7 L680.0,1481.5 L682.0,1481.4 L684.0,1481.1 L686.0,1480.9 L688.0,1480.3 L690.0,1479.9 L692.0,1479.3 L694.0,1478.8 L696.0,1478.5 L698.0,1478.2 L700.0,1477.7 L702.0,1477.2 L704.0,1476.6 L706.0,1476.2 L708.0,1475.8 L710.0,1475.6 L712.0,1475.3 L714.0,1475.1 L716.0,1474.7 L718.0,1474.2 L720.0,1473.4 L722.0,1472.5 L724.0,1472.0 L726.0,1471.7 L728.0,1471.6 L730.0,1470.8 L732.0,1470.3 L734.0,1469.7 L736.0,1469.9 L738.0,1469.2 L740.0,1468.6 L742.0,1467.4 L744.0,1466.8 L746.0,1466.2 L748.0,1465.8 L750.0,1465.3 L752.0,1464.8 L754.0,1464.4 L756.0,1464.2 L758.0,1464.1 L760.0,1463.6 L762.0,1463.3 L764.0,1462.9 L766.0,1462.2 L768.0,1461.5 L770.0,1460.8 L772.0,1460.5 L774.0,1460.2 L776.0,1460.0 L778.0,1460.1 L780.0,1460.2 L782.0,1460.0 L784.0,1459.5 L786.0,1458.9 L788.0,1458.6 L790.0,1458.5 L792.0,1458.1 L794.0,1458.0 L796.0,1457.6 L798.0,1457.7 L800.0,1457.6 L802.0,1457.7 L804.0,1457.3 L806.0,1456.7 L808.0,1455.9 L810.0,1455.8 L812.0,1455.6 L814.0,1455.4 L816.0,1455.3 L818.0,1455.2 L820.0,1455.4 L822.0,1455.6 L824.0,1455.6 L826.0,1455.4 L828.0,1454.9 L830.0,1454.9 L832.0,1454.8 L834.0,1454.8 L836.0,1454.6 L838.0,1454.8 L840.0,1454.8 L842.0,1454.9 L844.0,1454.7 L846.0,1454.9 L848.0,1455.0 L850.0,1455.0 L852.0,1454.9 L854.0,1455.0 L856.0,1455.0 L858.0,1455.0 L860.0,1455.0 L862.0,1455.0 L864.0,1455.1 L866.0,1454.9 L868.0,1454.9 L870.0,1454.8 L872.0,1454.9 L874.0,1455.0 L876.0,1454.9 L878.0,1454.9 L880.0,1454.9 L882.0,1454.9 L884.0,1454.9 L886.0,1454.9 L888.0,1454.9 L890.0,1454.9 L892.0,1454.9 L894.0,1454.8 L896.0,1454.8 L898.0,1454.8 L900.0,1454.8 L902.0,1454.8 L904.0,1454.7 L906.0,1454.7 L908.0,1454.7 L910.0,1454.6 L912.0,1454.6 L914.0,1454.6 L916.0,1454.6 L918.0,1454.5 L920.0,1454.5 L922.0,1454.4 L924.0,1454.2 L926.0,1454.1 L928.0,1453.8 L930.0,1453.6 L932.0,1453.3 L934.0,1453.0 L936.0,1452.7 L938.0,1452.3 L940.0,1452.0 L942.0,1451.6 L944.0,1451.2 L946.0,1450.7 L948.0,1450.2 L950.0,1449.6 L952.0,1449.0 L954.0,1448.3 L956.0,1447.7 L958.0,1446.9 L960.0,1446.2 L962.0,1445.4 L964.0,1444.7 L966.0,1443.9 L968.0,1443.1 L970.0,1442.3 L972.0,1441.5 L974.0,1440.8 L976.0,1440.0 L978.0,1439.2 L980.0,1438.5 L982.0,1437.7 L984.0,1437.0 L986.0,1436.2 L988.0,1435.4 L990.0,1434.6 L992.0,1433.8 L994.0,1433.0 L996.0,1432.1 L998.0,1431.3 L1000.0,1430.4 L1002.0,1429.5 L1004.0,1428.5 L1006.0,1427.6 L1008.0,1426.6 L1010.0,1425.6 L1012.0,1424.5 L1014.0,1423.5 L1016.0,1422.3 L1018.0,1421.1 L1020.0,1419.8 L1022.0,1418.5 L1024.0,1417.1 L1026.0,1415.7 L1028.0,1414.3 L1030.0,1412.8 L1032.0,1411.3 L1034.0,1409.8 L1036.0,1408.3 L1038.0,1406.8 L1040.0,1405.2 L1042.0,1403.7 L1044.0,1402.3 L1046.0,1400.8 L1048.0,1399.4 L1050.0,1398.0 L1052.0,1396.5 L1054.0,1394.9 L1056.0,1393.3 L1058.0,1391.5 L1060.0,1389.5 L1062.0,1387.4 L1064.0,1385.1 L1066.0,1382.6 L1068.0,1379.9 L1070.0,1377.0 L1072.0,1373.8 L1074.0,1370.4 L1076.0,1366.6 L1078.0,1362.5 L1080.0,1358.1 L1082.0,1353.3 L1084.0,1348.3 L1086.0,1343.0 L1088.0,1337.2 L1090.0,1330.9 L1092.0,1324.1 L1094.0,1316.7 L1096.0,1308.8 L1098.0,1299.4 L1100.0,1288.9 L1102.0,1278.2 L1104.0,1268.0 L1106.0,1258.2 L1108.0,1248.4 L1110.0,1238.2 L1112.0,1227.4 L1114.0,1216.1 L1116.0,1203.6 L1118.0,1189.9 L1120.0,1175.4 L1122.0,1160.5 L1124.0,1145.4 L1126.0,1130.5 L1128.0,1115.2 L1130.0,1099.8 L1132.0,1085.1 L1134.0,1071.8 L1136.0,1059.3 L1138.0,1046.4 L1140.0,1031.6 L1142.0,1014.8 L1144.0,997.3 L1146.0,980.0 L1148.0,962.6 L1150.0,945.4 L1152.0,929.3 L1154.0,913.9 L1156.0,899.8 L1158.0,887.7 L1160.0,876.4 L1162.0,868.9 L1164.0,864.7 L1166.0,861.7 L1168.0,860.7 L1170.0,862.7 L1172.0,866.8 L1174.0,871.9 L1176.0,880.2 L1178.0,890.8 L1180.0,902.8 L1182.0,916.9 L1184.0,930.6 L1186.0,943.6 L1188.0,956.8 L1190.0,971.2 L1192.0,986.2 L1194.0,1000.8 L1196.0,1014.8 L1198.0,1028.5 L1200.0,1041.0 L1202.0,1051.8 L1204.0,1061.3 L1206.0,1069.9 L1208.0,1078.2 L1210.0,1086.8 L1212.0,1096.3 L1214.0,1107.2 L1216.0,1120.2 L1218.0,1133.7 L1220.0,1146.2 L1222.0,1157.3 L1224.0,1167.9 L1226.0,1177.5 L1228.0,1185.9 L1230.0,1193.2 L1232.0,1199.8 L1234.0,1205.6 L1236.0,1210.6 L1238.0,1214.8 L1240.0,1219.1 L1242.0,1224.2 L1244.0,1230.2 L1246.0,1236.0 L1248.0,1241.0 L1250.0,1245.3 L1252.0,1249.4 L1254.0,1253.2 L1256.0,1256.7 L1258.0,1260.1 L1260.0,1263.2 L1262.0,1266.2 L1264.0,1269.1 L1266.0,1271.8 L1268.0,1274.4 L1270.0,1276.9 L1272.0,1279.2 L1274.0,1281.4 L1276.0,1283.4 L1278.0,1285.4 L1280.0,1287.4 L1282.0,1289.2 L1284.0,1290.8 L1286.0,1292.3 L1288.0,1293.4 L1290.0,1294.4 L1292.0,1295.4 L1294.0,1296.3 L1296.0,1297.1 L1298.0,1297.8 L1300.0,1298.4 L1302.0,1298.8 L1304.0,1299.0 L1306.0,1299.0 L1308.0,1299.0 L1310.0,1299.0 L1312.0,1299.0 L1314.0,1299.0 L1316.0,1299.0 L1318.0,1299.0 L1320.0,1299.0 L1322.0,1299.0 L1324.0,1299.0 L1326.0,1299.0 L1328.0,1299.0 L1330.0,1299.0 L1332.0,1299.0 L1334.0,1299.0 L1336.0,1299.5 L1338.0,1300.8 L1340.0,1302.9 L1342.0,1305.2 L1344.0,1307.5 L1346.0,1309.6 L1348.0,1311.2 L1350.0,1312.8 L1352.0,1314.3 L1354.0,1315.8 L1356.0,1317.3 L1358.0,1318.7 L1360.0,1320.2 L1362.0,1321.5 L1364.0,1322.9 L1366.0,1324.3 L1368.0,1325.7 L1370.0,1327.1 L1372.0,1328.6 L1374.0,1329.9 L1376.0,1331.2 L1378.0,1332.4 L1380.0,1333.5 L1382.0,1334.5 L1384.0,1335.3 L1386.0,1336.0 L1388.0,1336.7 L1390.0,1337.3 L1392.0,1338.0 L1394.0,1338.7 L1396.0,1339.2 L1398.0,1339.5 L1400.0,1339.7 L1402.0,1340.0 L1404.0,1339.9 L1406.0,1339.5 L1408.0,1339.1 L1410.0,1338.8 L1412.0,1338.5 L1414.0,1338.1 L1416.0,1337.5 L1418.0,1336.8 L1420.0,1335.8 L1422.0,1335.2 L1424.0,1334.7 L1426.0,1334.0 L1428.0,1332.6 L1430.0,1331.5 L1432.0,1330.5 L1434.0,1329.5 L1436.0,1327.9 L1438.0,1327.4 L1440.0,1328.0 L1442.0,1328.4 L1444.0,1328.7 L1446.0,1328.6 L1448.0,1329.3 L1450.0,1330.2 L1452.0,1330.3 L1454.0,1330.4 L1456.0,1330.3 L1458.0,1331.0 L1460.0,1331.2 L1462.0,1332.0 L1464.0,1332.6 L1466.0,1333.6 L1468.0,1334.0 L1470.0,1334.0 L1472.0,1334.0 L1474.0,1333.3 L1476.0,1333.5 L1478.0,1333.5 L1480.0,1333.7 L1482.0,1333.2 L1484.0,1333.9 L1486.0,1334.3 L1488.0,1334.8 L1490.0,1333.5 L1492.0,1333.8 L1494.0,1335.1 L1496.0,1337.1 L1498.0,1338.1 L1500.0,1338.1 L1502.0,1338.3 L1504.0,1337.4 L1506.0,1338.1 L1508.0,1338.6 L1510.0,1339.6 L1512.0,1339.8 L1514.0,1339.9 L1516.0,1340.7 L1518.0,1342.0 L1520.0,1341.8 L1522.0,1342.7 L1524.0,1341.7 L1526.0,1342.2 L1528.0,1341.4 L1530.0,1342.2 L1532.0,1342.5 L1534.0,1343.3 L1536.0,1343.6 L1538.0,1345.1 L1540.0,1345.2 L1542.0,1345.3 L1544.0,1344.5 L1546.0,1344.8 L1548.0,1345.0 L1550.0,1344.5 L1552.0,1344.0 L1554.0,1344.4 L1556.0,1345.6 L1558.0,1346.4 L1560.0,1346.5 L1562.0,1346.6 L1564.0,1346.3 L1566.0,1346.8 L1568.0,1347.5 L1570.0,1348.5 L1572.0,1349.4 L1574.0,1348.8 L1576.0,1348.7 L1578.0,1347.9 L1580.0,1349.0 L1582.0,1349.1 L1584.0,1349.3 L1586.0,1349.1 L1588.0,1349.8 L1590.0,1349.8 L1592.0,1349.8 L1594.0,1350.7 L1596.0,1352.3 L1598.0,1353.4 L1600.0,1352.5 L1602.0,1353.7 L1604.0,1354.6 L1606.0,1356.2 L1608.0,1355.2 L1610.0,1355.4 L1612.0,1356.0 L1614.0,1356.8 L1616.0,1356.8 L1618.0,1356.4 L1620.0,1357.3 L1622.0,1357.7 L1624.0,1358.1 L1626.0,1357.5 L1628.0,1357.2 L1630.0,1358.2 L1632.0,1360.1 L1634.0,1361.8 L1636.0,1362.4 L1638.0,1361.8 L1640.0,1361.7 L1642.0,1361.6 L1644.0,1362.2 L1646.0,1363.4 L1648.0,1363.0 L1650.0,1363.2 L1652.0,1362.6 L1654.0,1363.3 L1656.0,1364.4 L1658.0,1364.0 L1660.0,1365.3 L1662.0,1365.7 L1664.0,1367.3 L1666.0,1367.8 L1668.0,1368.9 L1670.0,1369.3 L1672.0,1369.3 L1674.0,1368.8 L1676.0,1369.3 L1678.0,1369.1 L1680.0,1369.0 L1682.0,1369.4 L1684.0,1369.8 L1686.0,1371.1 L1688.0,1371.6 L1690.0,1372.0 L1692.0,1372.2 L1694.0,1372.2 L1696.0,1372.7 L1698.0,1373.5 L1700.0,1373.9 L1702.0,1374.4 L1704.0,1373.3 L1706.0,1373.9 L1708.0,1373.5 L1710.0,1374.6 L1712.0,1375.5 L1714.0,1377.5 L1716.0,1377.8 L1718.0,1376.7 L1720.0,1376.4 L1722.0,1376.7 L1724.0,1377.9 L1726.0,1377.3 L1728.0,1378.4 L1730.0,1379.3 L1732.0,1379.5 L1734.0,1378.9 L1736.0,1378.1 L1738.0,1379.5 L1740.0,1379.2 L1742.0,1380.0 L1744.0,1379.9 L1746.0,1380.7 L1748.0,1381.2 L1750.0,1380.6 L1752.0,1380.5 L1754.0,1379.9 L1756.0,1381.4 L1758.0,1381.9 L1760.0,1381.9 L1762.0,1381.8 L1764.0,1381.7 L1766.0,1381.7 L1768.0,1381.2 L1770.0,1381.5 L1772.0,1383.1 L1774.0,1382.6 L1776.0,1382.5 L1778.0,1380.9 L1780.0,1381.3 L1782.0,1381.8 L1784.0,1382.1 L1786.0,1382.5 L1788.0,1381.5 L1790.0,1380.6 L1792.0,1380.4 L1794.0,1380.5 L1796.0,1380.7 L1798.0,1381.2 L1800.0,1381.3 L1802.0,1381.8 L1804.0,1382.6 L1806.0,1384.0 L1808.0,1385.5 L1810.0,1385.4 L1812.0,1386.5 L1814.0,1386.5 L1816.0,1388.3 L1818.0,1389.1 L1820.0,1390.4 L1822.0,1391.3 L1824.0,1391.7 L1826.0,1391.9 L1828.0,1392.4 L1830.0,1392.9 L1832.0,1394.3 L1834.0,1394.0 L1836.0,1394.8 L1838.0,1394.1 L1840.0,1393.8 L1842.0,1392.8 L1844.0,1394.0 L1846.0,1393.9 L1848.0,1393.9 L1850.0,1393.0 L1852.0,1394.1" stroke="#00ffff" stroke-width="6.3"/>
<path d="M588.0,1485.4 L590.0,1485.5 L592.0,1485.4 L594.0,1485.6 L596.0,1485.4 L598.0,1485.1 L600.0,1484.9 L602.0,1485.0 L604.0,1485.0 L606.0,1484.9 L608.0,1484.6 L610.0,1484.8 L612.0,1484.9 L614.0,1485.1 L616.0,1485.5 L618.0,1485.5 L620.0,1485.5 L622.0,1485.1 L624.0,1485.0 L626.0,1484.8 L628.0,1484.7 L630.0,1484.8 L632.0,1484.4 L634.0,1484.1 L636.0,1483.8 L638.0,1484.1 L640.0,1484.3 L642.0,1484.1 L644.0,1484.3 L646.0,1483.9 L648.0,1483.8 L650.0,1483.7 L652.0,1483.5 L654.0,1483.5 L656.0,1483.0 L658.0,1482.9 L660.0,1482.9 L662.0,1483.1 L664.0,1482.9 L666.0,1482.5 L668.0,1482.7 L670.0,1482.6 L672.0,1482.6 L674.0,1482.1 L676.0,1481.8 L678.0,1481.7 L680.0,1481.5 L682.0,1481.4 L684.0,1481.1 L686.0,1480.9 L688.0,1480.3 L690.0,1479.9 L692.0,1479.3 L694.0,1478.8 L696.0,1478.5 L698.0,1478.2 L700.0,1477.7 L702.0,1477.2 L704.0,1476.6 L706.0,1476.2 L708.0,1475.8 L710.0,1475.6 L712.0,1475.3 L714.0,1475.1 L716.0,1474.7 L718.0,1474.2 L720.0,1473.4 L722.0,1472.5 L724.0,1472.0 L726.0,1471.7 L728.0,1471.6 L730.0,1470.8 L732.0,1470.3 L734.0,1469.7 L736.0,1469.9 L738.0,1469.2 L740.0,1468.6 L742.0,1467.4 L744.0,1466.8 L746.0,1466.2 L748.0,1465.8 L750.0,1465.3 L752.0,1464.8 L754.0,1464.4 L756.0,1464.2 L758.0,1464.1 L760.0,1463.6 L762.0,1463.3 L764.0,1462.9 L766.0,1462.2 L768.0,1461.5 L770.0,1460.8 L772.0,1460.5 L774.0,1460.2 L776.0,1460.0 L778.0,1460.1 L780.0,1460.2 L782.0,1460.0 L784.0,1459.5 L786.0,1458.9 L788.0,1458.6 L790.0,1458.5 L792.0,1458.1 L794.0,1458.0 L796.0,1457.6 L798.0,1457.7 L800.0,1457.6 L802.0,1457.7 L804.0,1457.3 L806.0,1456.7 L808.0,1455.9 L810.0,1455.8 L812.0,1455.6 L814.0,1455.4 L816.0,1455.3 L818.0,1455.2 L820.0,1455.4 L822.0,1455.6 L824.0,1455.6 L826.0,1455.4 L828.0,1454.9 L830.0,1454.9 L832.0,1454.8 L834.0,1454.8 L836.0,1454.6 L838.0,1454.8 L840.0,1454.8 L842.0,1454.9 L844.0,1454.7 L846.0,1454.9 L848.0,1455.0 L850.0,1455.0 L852.0,1454.9 L854.0,1455.0 L856.0,1455.0 L858.0,1455.0 L860.0,1455.0 L862.0,1455.0 L864.0,1455.1 L866.0,1454.9 L868.0,1454.9 L870.0,1454.8 L872.0,1454.9 L874.0,1455.0 L876.0,1454.9 L878.0,1454.9 L880.0,1454.9 L882.0,1454.9 L884.0,1454.9 L886.0,1454.9 L888.0,1454.9 L890.0,1454.9 L892.0,1454.9 L894.0,1454.8 L896.0,1454.8 L898.0,1454.8 L900.0,1454.8 L902.0,1454.8 L904.0,1454.7 L906.0,1454.7 L908.0,1454.7 L910.0,1454.6 L912.0,1454.6 L914.0,1454.6 L916.0,1454.6 L918.0,1454.5 L920.0,1454.5 L922.0,1454.4 L924.0,1454.2 L926.0,1454.1 L928.0,1453.8 L930.0,1453.6 L932.0,1453.3 L934.0,1453.0 L936.0,1452.7 L938.0,1452.3 L940.0,1452.0 L942.0,1451.6 L944.0,1451.2 L946.0,1450.7 L948.0,1450.2 L950.0,1449.6 L952.0,1449.0 L954.0,1448.3" stroke="#00ffff" stroke-width="7.6"/>
<path d="M1400.0,1339.7 L1402.0,1340.0 L1404.0,1339.9 L1406.0,1339.5 L1408.0,1339.1 L1410.0,1338.8 L1412.0,1338.5 L1414.0,1338.1 L1416.0,1337.5 L1418.0,1336.8 L1420.0,1335.8 L1422.0,1335.2 L1424.0,1334.7 L1426.0,1334.0 L1428.0,1332.6 L1430.0,1331.5 L1432.0,1330.5 L1434.0,1329.5 L1436.0,1327.9 L1438.0,1327.4 L1440.0,1328.0 L1442.0,1328.4 L1444.0,1328.7 L1446.0,1328.6 L1448.0,1329.3 L1450.0,1330.2 L1452.0,1330.3 L1454.0,1330.4 L1456.0,1330.3 L1458.0,1331.0 L1460.0,1331.2 L1462.0,1332.0 L1464.0,1332.6 L1466.0,1333.6 L1468.0,1334.0 L1470.0,1334.0 L1472.0,1334.0 L1474.0,1333.3 L1476.0,1333.5 L1478.0,1333.5 L1480.0,1333.7 L1482.0,1333.2 L1484.0,1333.9 L1486.0,1334.3 L1488.0,1334.8 L1490.0,1333.5 L1492.0,1333.8 L1494.0,1335.1 L1496.0,1337.1 L1498.0,1338.1 L1500.0,1338.1 L1502.0,1338.3 L1504.0,1337.4 L1506.0,1338.1 L1508.0,1338.6 L1510.0,1339.6 L1512.0,1339.8 L1514.0,1339.9 L1516.0,1340.7 L1518.0,1342.0 L1520.0,1341.8 L1522.0,1342.7 L1524.0,1341.7 L1526.0,1342.2 L1528.0,1341.4 L1530.0,1342.2 L1532.0,1342.5 L1534.0,1343.3 L1536.0,1343.6 L1538.0,1345.1 L1540.0,1345.2 L1542.0,1345.3 L1544.0,1344.5 L1546.0,1344.8 L1548.0,1345.0 L1550.0,1344.5 L1552.0,1344.0 L1554.0,1344.4 L1556.0,1345.6 L1558.0,1346.4 L1560.0,1346.5 L1562.0,1346.6 L1564.0,1346.3 L1566.0,1346.8 L1568.0,1347.5 L1570.0,1348.5 L1572.0,1349.4 L1574.0,1348.8 L1576.0,1348.7 L1578.0,1347.9 L1580.0,1349.0 L1582.0,1349.1 L1584.0,1349.3 L1586.0,1349.1 L1588.0,1349.8 L1590.0,1349.8 L1592.0,1349.8 L1594.0,1350.7 L1596.0,1352.3 L1598.0,1353.4 L1600.0,1352.5 L1602.0,1353.7 L1604.0,1354.6 L1606.0,1356.2 L1608.0,1355.2 L1610.0,1355.4 L1612.0,1356.0 L1614.0,1356.8 L1616.0,1356.8 L1618.0,1356.4 L1620.0,1357.3 L1622.0,1357.7 L1624.0,1358.1 L1626.0,1357.5 L1628.0,1357.2 L1630.0,1358.2 L1632.0,1360.1 L1634.0,1361.8 L1636.0,1362.4 L1638.0,1361.8 L1640.0,1361.7 L1642.0,1361.6 L1644.0,1362.2 L1646.0,1363.4 L1648.0,1363.0 L1650.0,1363.2 L1652.0,1362.6 L1654.0,1363.3 L1656.0,1364.4 L1658.0,1364.0 L1660.0,1365.3 L1662.0,1365.7 L1664.0,1367.3 L1666.0,1367.8 L1668.0,1368.9 L1670.0,1369.3 L1672.0,1369.3 L1674.0,1368.8 L1676.0,1369.3 L1678.0,1369.1 L1680.0,1369.0 L1682.0,1369.4 L1684.0,1369.8 L1686.0,1371.1 L1688.0,1371.6 L1690.0,1372.0 L1692.0,1372.2 L1694.0,1372.2 L1696.0,1372.7 L1698.0,1373.5 L1700.0,1373.9 L1702.0,1374.4 L1704.0,1373.3 L1706.0,1373.9 L1708.0,1373.5 L1710.0,1374.6 L1712.0,1375.5 L1714.0,1377.5 L1716.0,1377.8 L1718.0,1376.7 L1720.0,1376.4 L1722.0,1376.7 L1724.0,1377.9 L1726.0,1377.3 L1728.0,1378.4 L1730.0,1379.3 L1732.0,1379.5 L1734.0,1378.9 L1736.0,1378.1 L1738.0,1379.5 L1740.0,1379.2 L1742.0,1380.0 L1744.0,1379.9 L1746.0,1380.7 L1748.0,1381.2 L1750.0,1380.6 L1752.0,1380.5 L1754.0,1379.9 L1756.0,1381.4 L1758.0,1381.9 L1760.0,1381.9 L1762.0,1381.8 L1764.0,1381.7 L1766.0,1381.7 L1768.0,1381.2 L1770.0,1381.5 L1772.0,1383.1 L1774.0,1382.6 L1776.0,1382.5 L1778.0,1380.9 L1780.0,1381.3 L1782.0,1381.8 L1784.0,1382.1 L1786.0,1382.5 L1788.0,1381.5 L1790.0,1380.6 L1792.0,1380.4 L1794.0,1380.5 L1796.0,1380.7 L1798.0,1381.2 L1800.0,1381.3 L1802.0,1381.8 L1804.0,1382.6 L1806.0,1384.0 L1808.0,1385.5 L1810.0,1385.4 L1812.0,1386.5 L1814.0,1386.5 L1816.0,1388.3 L1818.0,1389.1 L1820.0,1390.4 L1822.0,1391.3 L1824.0,1391.7 L1826.0,1391.9 L1828.0,1392.4 L1830.0,1392.9 L1832.0,1394.3 L1834.0,1394.0 L1836.0,1394.8 L1838.0,1394.1 L1840.0,1393.8 L1842.0,1392.8 L1844.0,1394.0 L1846.0,1393.9 L1848.0,1393.9 L1850.0,1393.0 L1852.0,1394.1" stroke="#00ffff" stroke-width="7.4"/>
<path d="M588.0,1486.2 L590.0,1486.0 L592.0,1486.1 L594.0,1486.1 L596.0,1486.4 L598.0,1486.4 L600.0,1486.3 L602.0,1486.1 L604.0,1485.9 L606.0,1486.0 L608.0,1486.0 L610.0,1486.0 L612.0,1486.0 L614.0,1485.9 L616.0,1486.0 L618.0,1485.8 L620.0,1485.8 L622.0,1485.7 L624.0,1485.8 L626.0,1486.0 L628.0,1485.9 L630.0,1485.6 L632.0,1485.4 L634.0,1485.3 L636.0,1484.9 L638.0,1484.6 L640.0,1484.8 L642.0,1485.0 L644.0,1484.6 L646.0,1484.3 L648.0,1484.2 L650.0,1484.4 L652.0,1484.7 L654.0,1484.8 L656.0,1485.1 L658.0,1484.5 L660.0,1484.3 L662.0,1484.3 L664.0,1484.3 L666.0,1484.0 L668.0,1483.8 L670.0,1483.6 L672.0,1483.7 L674.0,1483.3 L676.0,1483.2 L678.0,1483.0 L680.0,1483.0 L682.0,1482.7 L684.0,1482.2 L686.0,1482.1 L688.0,1481.9 L690.0,1481.5 L692.0,1481.1 L694.0,1480.4 L696.0,1480.2 L698.0,1480.0 L700.0,1479.8 L702.0,1479.8 L704.0,1479.3 L706.0,1478.6 L708.0,1477.8 L710.0,1476.9 L712.0,1477.0 L714.0,1476.5 L716.0,1476.6 L718.0,1475.8 L720.0,1475.2 L722.0,1474.6 L724.0,1474.0 L726.0,1473.6 L728.0,1473.2 L730.0,1472.7 L732.0,1472.6 L734.0,1471.9 L736.0,1471.8 L738.0,1471.0 L740.0,1470.6 L742.0,1470.1 L744.0,1469.9 L746.0,1469.7 L748.0,1469.3 L750.0,1468.7 L752.0,1468.5 L754.0,1468.0 L756.0,1467.7 L758.0,1467.4 L760.0,1466.9 L762.0,1466.4 L764.0,1465.7 L766.0,1465.4 L768.0,1464.9 L770.0,1464.6 L772.0,1464.4 L774.0,1464.3 L776.0,1463.8 L778.0,1463.6 L780.0,1463.5 L782.0,1463.6 L784.0,1463.1 L786.0,1462.7 L788.0,1462.8 L790.0,1463.1 L792.0,1463.1 L794.0,1462.5 L796.0,1462.2 L798.0,1462.0 L800.0,1462.3 L802.0,1461.8 L804.0,1461.7 L806.0,1461.2 L808.0,1461.3 L810.0,1461.0 L812.0,1461.0 L814.0,1460.7 L816.0,1460.5 L818.0,1460.3 L820.0,1460.3 L822.0,1460.0 L824.0,1459.8 L826.0,1459.7 L828.0,1459.9 L830.0,1460.0 L832.0,1459.8 L834.0,1459.7 L836.0,1459.2 L838.0,1459.0 L840.0,1458.9 L842.0,1459.0 L844.0,1459.0 L846.0,1459.1 L848.0,1459.1 L850.0,1459.1 L852.0,1459.0 L854.0,1458.9 L856.0,1458.7 L858.0,1458.7 L860.0,1458.7 L862.0,1458.7 L864.0,1458.4 L866.0,1458.3 L868.0,1458.5 L870.0,1458.6 L872.0,1458.5 L874.0,1458.4 L876.0,1458.4 L878.0,1458.4 L880.0,1458.4 L882.0,1458.3 L884.0,1458.3 L886.0,1458.2 L888.0,1458.2 L890.0,1458.2 L892.0,1458.2 L894.0,1458.2 L896.0,1458.1 L898.0,1458.1 L900.0,1458.1 L902.0,1458.0 L904.0,1458.0 L906.0,1458.0 L908.0,1457.9 L910.0,1457.9 L912.0,1457.9 L914.0,1457.8 L916.0,1457.8 L918.0,1457.7 L920.0,1457.7 L922.0,1457.6 L924.0,1457.6 L926.0,1457.5 L928.0,1457.5 L930.0,1457.4 L932.0,1457.4 L934.0,1457.3 L936.0,1457.2 L938.0,1457.1 L940.0,1457.0 L942.0,1456.8 L944.0,1456.5 L946.0,1456.1 L948.0,1455.6 L950.0,1455.0 L952.0,1454.3 L954.0,1453.6 L956.0,1452.8 L958.0,1451.9 L960.0,1451.0 L962.0,1450.1 L964.0,1449.2 L966.0,1448.2 L968.0,1447.3 L970.0,1446.4 L972.0,1445.5 L974.0,1444.6 L976.0,1443.8 L978.0,1443.1 L980.0,1442.3 L982.0,1441.5 L984.0,1440.7 L986.0,1439.9 L988.0,1439.1 L990.0,1438.3 L992.0,1437.5 L994.0,1436.7 L996.0,1435.8 L998.0,1435.0 L1000.0,1434.2 L1002.0,1433.4 L1004.0,1432.6 L1006.0,1431.8 L1008.0,1431.0 L1010.0,1430.3 L1012.0,1429.5 L1014.0,1428.7 L1016.0,1428.0 L1018.0,1427.3 L1020.0,1426.7 L1022.0,1426.1 L1024.0,1425.4 L1026.0,1424.8 L1028.0,1424.2 L1030.0,1423.6 L1032.0,1423.0 L1034.0,1422.4 L1036.0,1421.7 L1038.0,1421.1 L1040.0,1420.3 L1042.0,1419.6 L1044.0,1418.8 L1046.0,1417.9 L1048.0,1417.0 L1050.0,1416.0 L1052.0,1414.9 L1054.0,1413.6 L1056.0,1412.1 L1058.0,1410.5 L1060.0,1408.8 L1062.0,1407.1 L1064.0,1405.3 L1066.0,1403.5 L1068.0,1401.7 L1070.0,1399.9 L1072.0,1398.1 L1074.0,1396.2 L1076.0,1394.3 L1078.0,1392.4 L1080.0,1390.3 L1082.0,1388.2 L1084.0,1386.0 L1086.0,1383.6 L1088.0,1381.1 L1090.0,1378.6 L1092.0,1375.8 L1094.0,1372.9 L1096.0,1369.8 L1098.0,1366.5 L1100.0,1362.9 L1102.0,1359.0 L1104.0,1354.5 L1106.0,1349.5 L1108.0,1344.1 L1110.0,1338.2 L1112.0,1332.0 L1114.0,1325.2 L1116.0,1317.6 L1118.0,1309.4 L1120.0,1300.7 L1122.0,1291.8 L1124.0,1282.2 L1126.0,1272.0 L1128.0,1261.7 L1130.0,1251.5 L1132.0,1241.3 L1134.0,1230.9 L1136.0,1220.4 L1138.0,1209.5 L1140.0,1195.0 L1142.0,1176.3 L1144.0,1156.6 L1146.0,1138.7 L1148.0,1122.3 L1150.0,1105.8 L1152.0,1087.9 L1154.0,1066.2 L1156.0,1043.6 L1158.0,1023.0 L1160.0,1003.3 L1162.0,984.3 L1164.0,965.8 L1166.0,947.9 L1168.0,931.3 L1170.0,916.1 L1172.0,901.8 L1174.0,888.9 L1176.0,877.7 L1178.0,867.5 L1180.0,858.7 L1182.0,851.8 L1184.0,846.2 L1186.0,842.2 L1188.0,840.8 L1190.0,840.1 L1192.0,840.6 L1194.0,843.5 L1196.0,848.0 L1198.0,857.8 L1200.0,868.9 L1202.0,878.0 L1204.0,885.4 L1206.0,888.2 L1208.0,889.3 L1210.0,890.4 L1212.0,894.3 L1214.0,910.0 L1216.0,922.6 L1218.0,934.8 L1220.0,947.4 L1222.0,960.0 L1224.0,972.4 L1226.0,984.3 L1228.0,995.9 L1230.0,1007.3 L1232.0,1018.5 L1234.0,1029.8 L1236.0,1040.7 L1238.0,1051.0 L1240.0,1060.0 L1242.0,1069.0 L1244.0,1079.3 L1246.0,1090.3 L1248.0,1101.8 L1250.0,1113.6 L1252.0,1125.9 L1254.0,1138.7 L1256.0,1151.4 L1258.0,1164.1 L1260.0,1177.5 L1262.0,1190.1 L1264.0,1200.0 L1266.0,1207.2 L1268.0,1213.3 L1270.0,1218.5 L1272.0,1223.1 L1274.0,1227.0 L1276.0,1230.4 L1278.0,1233.7 L1280.0,1237.1 L1282.0,1240.8 L1284.0,1244.8 L1286.0,1248.8 L1288.0,1252.7 L1290.0,1256.2 L1292.0,1259.6 L1294.0,1263.1 L1296.0,1266.5 L1298.0,1269.4 L1300.0,1271.8 L1302.0,1273.4 L1304.0,1274.4 L1306.0,1275.2 L1308.0,1275.9 L1310.0,1276.5 L1312.0,1277.0 L1314.0,1277.5 L1316.0,1278.0 L1318.0,1278.6 L1320.0,1279.0 L1322.0,1279.4 L1324.0,1279.8 L1326.0,1280.2 L1328.0,1280.5 L1330.0,1281.0 L1332.0,1281.4 L1334.0,1282.0 L1336.0,1282.7 L1338.0,1283.7 L1340.0,1285.5 L1342.0,1287.9 L1344.0,1290.6 L1346.0,1293.5 L1348.0,1296.4 L1350.0,1299.0 L1352.0,1301.1 L1354.0,1303.0 L1356.0,1304.7 L1358.0,1306.4 L1360.0,1308.0 L1362.0,1309.6 L1364.0,1311.2 L1366.0,1312.8 L1368.0,1314.4 L1370.0,1316.1 L1372.0,1318.0 L1374.0,1319.9 L1376.0,1321.8 L1378.0,1323.6 L1380.0,1325.3 L1382.0,1326.7 L1384.0,1327.9 L1386.0,1329.0 L1388.0,1330.0 L1390.0,1331.0 L1392.0,1331.8 L1394.0,1332.6 L1396.0,1333.1 L1398.0,1333.6 L1400.0,1333.8 L1402.0,1334.3 L1404.0,1334.6 L1406.0,1334.9 L1408.0,1335.1 L1410.0,1335.0 L1412.0,1334.9 L1414.0,1334.4 L1416.0,1333.7 L1418.0,1332.5 L1420.0,1330.8 L1422.0,1329.3 L1424.0,1328.2 L1426.0,1327.6 L1428.0,1326.8 L1430.0,1325.4 L1432.0,1324.1 L1434.0,1323.1 L1436.0,1322.5 L1438.0,1322.3 L1440.0,1322.8 L1442.0,1323.4 L1444.0,1324.1 L1446.0,1324.7 L1448.0,1325.5 L1450.0,1326.7 L1452.0,1328.0 L1454.0,1328.7 L1456.0,1329.1 L1458.0,1330.1 L1460.0,1332.2 L1462.0,1333.5 L1464.0,1333.7 L1466.0,1333.4 L1468.0,1334.5 L1470.0,1335.7 L1472.0,1336.9 L1474.0,1338.1 L1476.0,1338.5 L1478.0,1339.1 L1480.0,1339.0 L1482.0,1340.6 L1484.0,1342.0 L1486.0,1343.7 L1488.0,1343.4 L1490.0,1344.1 L1492.0,1344.2 L1494.0,1345.4 L1496.0,1345.6 L1498.0,1345.8 L1500.0,1345.8 L1502.0,1345.2 L1504.0,1345.6 L1506.0,1346.0 L1508.0,1346.6 L1510.0,1347.3 L1512.0,1348.5 L1514.0,1349.2 L1516.0,1349.1 L1518.0,1348.4 L1520.0,1349.1 L1522.0,1350.8 L1524.0,1351.6 L1526.0,1351.9 L1528.0,1350.7 L1530.0,1351.2 L1532.0,1351.8 L1534.0,1352.5 L1536.0,1352.7 L1538.0,1352.4 L1540.0,1353.2 L1542.0,1354.2 L1544.0,1355.0 L1546.0,1355.2 L1548.0,1354.8 L1550.0,1354.5 L1552.0,1354.1 L1554.0,1354.1 L1556.0,1354.6 L1558.0,1355.1 L1560.0,1356.0 L1562.0,1356.4 L1564.0,1357.3 L1566.0,1357.3 L1568.0,1357.0 L1570.0,1356.4 L1572.0,1355.4 L1574.0,1356.5 L1576.0,1356.3 L1578.0,1357.1 L1580.0,1357.4 L1582.0,1357.4 L1584.0,1357.5 L1586.0,1356.9 L1588.0,1357.4 L1590.0,1358.1 L1592.0,1358.6 L1594.0,1359.6 L1596.0,1359.8 L1598.0,1360.4 L1600.0,1360.4 L1602.0,1361.1 L1604.0,1361.8 L1606.0,1361.5 L1608.0,1361.5 L1610.0,1361.4 L1612.0,1361.7 L1614.0,1360.7 L1616.0,1361.1 L1618.0,1362.1 L1620.0,1364.4 L1622.0,1364.6 L1624.0,1365.4 L1626.0,1365.2 L1628.0,1365.6 L1630.0,1365.6 L1632.0,1365.9 L1634.0,1366.7 L1636.0,1367.4 L1638.0,1368.3 L1640.0,1368.3 L1642.0,1368.7 L1644.0,1368.4 L1646.0,1369.2 L1648.0,1369.4 L1650.0,1370.5 L1652.0,1369.7 L1654.0,1370.7 L1656.0,1371.1 L1658.0,1371.9 L1660.0,1371.4 L1662.0,1371.5 L1664.0,1372.3 L1666.0,1373.2 L1668.0,1373.4 L1670.0,1374.2 L1672.0,1374.7 L1674.0,1375.2 L1676.0,1375.6 L1678.0,1376.0 L1680.0,1376.2 L1682.0,1376.6 L1684.0,1376.8 L1686.0,1378.0 L1688.0,1377.6 L1690.0,1378.3 L1692.0,1378.8 L1694.0,1379.7 L1696.0,1380.2 L1698.0,1380.1 L1700.0,1380.7 L1702.0,1380.8 L1704.0,1381.2 L1706.0,1381.0 L1708.0,1382.3 L1710.0,1382.0 L1712.0,1382.8 L1714.0,1381.7 L1716.0,1382.8 L1718.0,1383.4 L1720.0,1383.6 L1722.0,1384.6 L1724.0,1383.8 L1726.0,1384.3 L1728.0,1383.9 L1730.0,1384.1 L1732.0,1385.4 L1734.0,1385.8 L1736.0,1385.4 L1738.0,1384.6 L1740.0,1384.5 L1742.0,1386.4 L1744.0,1387.0 L1746.0,1387.4 L1748.0,1387.9 L1750.0,1388.3 L1752.0,1389.2 L1754.0,1388.6 L1756.0,1389.8 L1758.0,1390.6 L1760.0,1390.9 L1762.0,1389.4 L1764.0,1388.0 L1766.0,1389.1 L1768.0,1389.9 L1770.0,1391.2 L1772.0,1389.9 L1774.0,1389.5 L1776.0,1388.8 L1778.0,1389.7 L1780.0,1389.9 L1782.0,1389.2 L1784.0,1388.6 L1786.0,1388.6 L1788.0,1389.1 L1790.0,1388.8 L1792.0,1388.3 L1794.0,1388.1 L1796.0,1387.0 L1798.0,1387.8 L1800.0,1388.8 L1802.0,1390.8 L1804.0,1390.9 L1806.0,1390.2 L1808.0,1391.3 L1810.0,1392.2 L1812.0,1393.5 L1814.0,1393.5 L1816.0,1394.1 L1818.0,1394.8 L1820.0,1396.1 L1822.0,1396.8 L1824.0,1398.3 L1826.0,1398.3 L1828.0,1399.3 L1830.0,1399.2 L1832.0,1399.9 L1834.0,1400.7 L1836.0,1400.9 L1838.0,1400.5 L1840.0,1401.1 L1842.0,1401.1 L1844.0,1401.3 L1846.0,1401.2 L1848.0,1401.8 L1850.0,1402.4 L1852.0,1402.2" stroke="#ff0000" stroke-width="6.3"/>
<path d="M588.0,1486.2 L590.0,1486.0 L592.0,1486.1 L594.0,1486.1 L596.0,1486.4 L598.0,1486.4 L600.0,1486.3 L602.0,1486.1 L604.0,1485.9 L606.0,1486.0 L608.0,1486.0 L610.0,1486.0 L612.0,1486.0 L614.0,1485.9 L616.0,1486.0 L618.0,1485.8 L620.0,1485.8 L622.0,1485.7 L624.0,1485.8 L626.0,1486.0 L628.0,1485.9 L630.0,1485.6 L632.0,1485.4 L634.0,1485.3 L636.0,1484.9 L638.0,1484.6 L640.0,1484.8 L642.0,1485.0 L644.0,1484.6 L646.0,1484.3 L648.0,1484.2 L650.0,1484.4 L652.0,1484.7 L654.0,1484.8 L656.0,1485.1 L658.0,1484.5 L660.0,1484.3 L662.0,1484.3 L664.0,1484.3 L666.0,1484.0 L668.0,1483.8 L670.0,1483.6 L672.0,1483.7 L674.0,1483.3 L676.0,1483.2 L678.0,1483.0 L680.0,1483.0 L682.0,1482.7 L684.0,1482.2 L686.0,1482.1 L688.0,1481.9 L690.0,1481.5 L692.0,1481.1 L694.0,1480.4 L696.0,1480.2 L698.0,1480.0 L700.0,1479.8 L702.0,1479.8 L704.0,1479.3 L706.0,1478.6 L708.0,1477.8 L710.0,1476.9 L712.0,1477.0 L714.0,1476.5 L716.0,1476.6 L718.0,1475.8 L720.0,1475.2 L722.0,1474.6 L724.0,1474.0 L726.0,1473.6 L728.0,1473.2 L730.0,1472.7 L732.0,1472.6 L734.0,1471.9 L736.0,1471.8 L738.0,1471.0 L740.0,1470.6 L742.0,1470.1 L744.0,1469.9 L746.0,1469.7 L748.0,1469.3 L750.0,1468.7 L752.0,1468.5 L754.0,1468.0 L756.0,1467.7 L758.0,1467.4 L760.0,1466.9 L762.0,1466.4 L764.0,1465.7 L766.0,1465.4 L768.0,1464.9 L770.0,1464.6 L772.0,1464.4 L774.0,1464.3 L776.0,1463.8 L778.0,1463.6 L780.0,1463.5 L782.0,1463.6 L784.0,1463.1 L786.0,1462.7 L788.0,1462.8 L790.0,1463.1 L792.0,1463.1 L794.0,1462.5 L796.0,1462.2 L798.0,1462.0 L800.0,1462.3 L802.0,1461.8 L804.0,1461.7 L806.0,1461.2 L808.0,1461.3 L810.0,1461.0 L812.0,1461.0 L814.0,1460.7 L816.0,1460.5 L818.0,1460.3 L820.0,1460.3 L822.0,1460.0 L824.0,1459.8 L826.0,1459.7 L828.0,1459.9 L830.0,1460.0 L832.0,1459.8 L834.0,1459.7 L836.0,1459.2 L838.0,1459.0 L840.0,1458.9 L842.0,1459.0 L844.0,1459.0 L846.0,1459.1 L848.0,1459.1 L850.0,1459.1 L852.0,1459.0 L854.0,1458.9 L856.0,1458.7 L858.0,1458.7 L860.0,1458.7 L862.0,1458.7 L864.0,1458.4 L866.0,1458.3 L868.0,1458.5 L870.0,1458.6 L872.0,1458.5 L874.0,1458.4 L876.0,1458.4 L878.0,1458.4 L880.0,1458.4 L882.0,1458.3 L884.0,1458.3 L886.0,1458.2 L888.0,1458.2 L890.0,1458.2 L892.0,1458.2 L894.0,1458.2 L896.0,1458.1 L898.0,1458.1 L900.0,1458.1 L902.0,1458.0 L904.0,1458.0 L906.0,1458.0 L908.0,1457.9 L910.0,1457.9 L912.0,1457.9 L914.0,1457.8 L916.0,1457.8 L918.0,1457.7 L920.0,1457.7 L922.0,1457.6 L924.0,1457.6 L926.0,1457.5 L928.0,1457.5 L930.0,1457.4 L932.0,1457.4 L934.0,1457.3 L936.0,1457.2 L938.0,1457.1 L940.0,1457.0 L942.0,1456.8 L944.0,1456.5 L946.0,1456.1 L948.0,1455.6 L950.0,1455.0 L952.0,1454.3 L954.0,1453.6" stroke="#ff0000" stroke-width="7.6"/>
<path d="M1400.0,1333.8 L1402.0,1334.3 L1404.0,1334.6 L1406.0,1334.9 L1408.0,1335.1 L1410.0,1335.0 L1412.0,1334.9 L1414.0,1334.4 L1416.0,1333.7 L1418.0,1332.5 L1420.0,1330.8 L1422.0,1329.3 L1424.0,1328.2 L1426.0,1327.6 L1428.0,1326.8 L1430.0,1325.4 L1432.0,1324.1 L1434.0,1323.1 L1436.0,1322.5 L1438.0,1322.3 L1440.0,1322.8 L1442.0,1323.4 L1444.0,1324.1 L1446.0,1324.7 L1448.0,1325.5 L1450.0,1326.7 L1452.0,1328.0 L1454.0,1328.7 L1456.0,1329.1 L1458.0,1330.1 L1460.0,1332.2 L1462.0,1333.5 L1464.0,1333.7 L1466.0,1333.4 L1468.0,1334.5 L1470.0,1335.7 L1472.0,1336.9 L1474.0,1338.1 L1476.0,1338.5 L1478.0,1339.1 L1480.0,1339.0 L1482.0,1340.6 L1484.0,1342.0 L1486.0,1343.7 L1488.0,1343.4 L1490.0,1344.1 L1492.0,1344.2 L1494.0,1345.4 L1496.0,1345.6 L1498.0,1345.8 L1500.0,1345.8 L1502.0,1345.2 L1504.0,1345.6 L1506.0,1346.0 L1508.0,1346.6 L1510.0,1347.3 L1512.0,1348.5 L1514.0,1349.2 L1516.0,1349.1 L1518.0,1348.4 L1520.0,1349.1 L1522.0,1350.8 L1524.0,1351.6 L1526.0,1351.9 L1528.0,1350.7 L1530.0,1351.2 L1532.0,1351.8 L1534.0,1352.5 L1536.0,1352.7 L1538.0,1352.4 L1540.0,1353.2 L1542.0,1354.2 L1544.0,1355.0 L1546.0,1355.2 L1548.0,1354.8 L1550.0,1354.5 L1552.0,1354.1 L1554.0,1354.1 L1556.0,1354.6 L1558.0,1355.1 L1560.0,1356.0 L1562.0,1356.4 L1564.0,1357.3 L1566.0,1357.3 L1568.0,1357.0 L1570.0,1356.4 L1572.0,1355.4 L1574.0,1356.5 L1576.0,1356.3 L1578.0,1357.1 L1580.0,1357.4 L1582.0,1357.4 L1584.0,1357.5 L1586.0,1356.9 L1588.0,1357.4 L1590.0,1358.1 L1592.0,1358.6 L1594.0,1359.6 L1596.0,1359.8 L1598.0,1360.4 L1600.0,1360.4 L1602.0,1361.1 L1604.0,1361.8 L1606.0,1361.5 L1608.0,1361.5 L1610.0,1361.4 L1612.0,1361.7 L1614.0,1360.7 L1616.0,1361.1 L1618.0,1362.1 L1620.0,1364.4 L1622.0,1364.6 L1624.0,1365.4 L1626.0,1365.2 L1628.0,1365.6 L1630.0,1365.6 L1632.0,1365.9 L1634.0,1366.7 L1636.0,1367.4 L1638.0,1368.3 L1640.0,1368.3 L1642.0,1368.7 L1644.0,1368.4 L1646.0,1369.2 L1648.0,1369.4 L1650.0,1370.5 L1652.0,1369.7 L1654.0,1370.7 L1656.0,1371.1 L1658.0,1371.9 L1660.0,1371.4 L1662.0,1371.5 L1664.0,1372.3 L1666.0,1373.2 L1668.0,1373.4 L1670.0,1374.2 L1672.0,1374.7 L1674.0,1375.2 L1676.0,1375.6 L1678.0,1376.0 L1680.0,1376.2 L1682.0,1376.6 L1684.0,1376.8 L1686.0,1378.0 L1688.0,1377.6 L1690.0,1378.3 L1692.0,1378.8 L1694.0,1379.7 L1696.0,1380.2 L1698.0,1380.1 L1700.0,1380.7 L1702.0,1380.8 L1704.0,1381.2 L1706.0,1381.0 L1708.0,1382.3 L1710.0,1382.0 L1712.0,1382.8 L1714.0,1381.7 L1716.0,1382.8 L1718.0,1383.4 L1720.0,1383.6 L1722.0,1384.6 L1724.0,1383.8 L1726.0,1384.3 L1728.0,1383.9 L1730.0,1384.1 L1732.0,1385.4 L1734.0,1385.8 L1736.0,1385.4 L1738.0,1384.6 L1740.0,1384.5 L1742.0,1386.4 L1744.0,1387.0 L1746.0,1387.4 L1748.0,1387.9 L1750.0,1388.3 L1752.0,1389.2 L1754.0,1388.6 L1756.0,1389.8 L1758.0,1390.6 L1760.0,1390.9 L1762.0,1389.4 L1764.0,1388.0 L1766.0,1389.1 L1768.0,1389.9 L1770.0,1391.2 L1772.0,1389.9 L1774.0,1389.5 L1776.0,1388.8 L1778.0,1389.7 L1780.0,1389.9 L1782.0,1389.2 L1784.0,1388.6 L1786.0,1388.6 L1788.0,1389.1 L1790.0,1388.8 L1792.0,1388.3 L1794.0,1388.1 L1796.0,1387.0 L1798.0,1387.8 L1800.0,1388.8 L1802.0,1390.8 L1804.0,1390.9 L1806.0,1390.2 L1808.0,1391.3 L1810.0,1392.2 L1812.0,1393.5 L1814.0,1393.5 L1816.0,1394.1 L1818.0,1394.8 L1820.0,1396.1 L1822.0,1396.8 L1824.0,1398.3 L1826.0,1398.3 L1828.0,1399.3 L1830.0,1399.2 L1832.0,1399.9 L1834.0,1400.7 L1836.0,1400.9 L1838.0,1400.5 L1840.0,1401.1 L1842.0,1401.1 L1844.0,1401.3 L1846.0,1401.2 L1848.0,1401.8 L1850.0,1402.4 L1852.0,1402.2" stroke="#ff0000" stroke-width="7.4"/>
<path d="M588.0,1523.1 L590.0,1523.4 L592.0,1523.4 L594.0,1523.1 L596.0,1522.7 L598.0,1522.8 L600.0,1522.9 L602.0,1522.9 L604.0,1522.9 L606.0,1523.1 L608.0,1523.2 L610.0,1523.1 L612.0,1522.9 L614.0,1522.8 L616.0,1522.7 L618.0,1522.5 L620.0,1522.7 L622.0,1522.7 L624.0,1522.8 L626.0,1522.8 L628.0,1522.8 L630.0,1522.8 L632.0,1522.6 L634.0,1522.5 L636.0,1522.8 L638.0,1522.6 L640.0,1522.7 L642.0,1522.6 L644.0,1522.7 L646.0,1522.5 L648.0,1522.2 L650.0,1522.0 L652.0,1522.4 L654.0,1522.4 L656.0,1522.5 L658.0,1522.2 L660.0,1522.2 L662.0,1522.3 L664.0,1522.3 L666.0,1522.3 L668.0,1522.1 L670.0,1522.2 L672.0,1522.1 L674.0,1522.1 L676.0,1522.1 L678.0,1522.0 L680.0,1522.5 L682.0,1522.4 L684.0,1522.5 L686.0,1521.9 L688.0,1521.8 L690.0,1521.6 L692.0,1521.6 L694.0,1521.6 L696.0,1521.4 L698.0,1521.3 L700.0,1521.4 L702.0,1521.4 L704.0,1520.9 L706.0,1520.4 L708.0,1520.0 L710.0,1519.4 L712.0,1518.6 L714.0,1517.8 L716.0,1517.8 L718.0,1517.4 L720.0,1516.8 L722.0,1516.2 L724.0,1515.5 L726.0,1514.9 L728.0,1514.1 L730.0,1513.4 L732.0,1512.3 L734.0,1511.3 L736.0,1510.6 L738.0,1510.0 L740.0,1509.7 L742.0,1508.9 L744.0,1508.5 L746.0,1507.6 L748.0,1506.7 L750.0,1505.9 L752.0,1505.0 L754.0,1504.6 L756.0,1504.3 L758.0,1503.8 L760.0,1503.1 L762.0,1501.9 L764.0,1501.2 L766.0,1500.5 L768.0,1500.1 L770.0,1499.6 L772.0,1499.2 L774.0,1498.6 L776.0,1497.9 L778.0,1496.8 L780.0,1496.3 L782.0,1495.6 L784.0,1494.9 L786.0,1494.2 L788.0,1493.5 L790.0,1493.3 L792.0,1492.7 L794.0,1492.2 L796.0,1491.7 L798.0,1491.0 L800.0,1490.3 L802.0,1489.4 L804.0,1488.9 L806.0,1488.2 L808.0,1487.7 L810.0,1487.2 L812.0,1486.6 L814.0,1485.8 L816.0,1485.3 L818.0,1485.1 L820.0,1484.8 L822.0,1484.3 L824.0,1483.8 L826.0,1483.3 L828.0,1482.8 L830.0,1482.1 L832.0,1481.5 L834.0,1480.9 L836.0,1480.4 L838.0,1480.0 L840.0,1479.8 L842.0,1479.4 L844.0,1478.9 L846.0,1478.5 L848.0,1478.1 L850.0,1477.5 L852.0,1476.8 L854.0,1476.3 L856.0,1475.7 L858.0,1475.1 L860.0,1474.3 L862.0,1473.9 L864.0,1473.4 L866.0,1473.0 L868.0,1472.3 L870.0,1471.9 L872.0,1471.3 L874.0,1470.8 L876.0,1470.2 L878.0,1469.7 L880.0,1469.2 L882.0,1468.6 L884.0,1468.0 L886.0,1467.4 L888.0,1466.9 L890.0,1466.3 L892.0,1465.7 L894.0,1465.1 L896.0,1464.5 L898.0,1463.9 L900.0,1463.3 L902.0,1462.7 L904.0,1462.1 L906.0,1461.5 L908.0,1460.9 L910.0,1460.3 L912.0,1459.6 L914.0,1459.0 L916.0,1458.4 L918.0,1457.8 L920.0,1457.2 L922.0,1456.7 L924.0,1456.1 L926.0,1455.5 L928.0,1455.0 L930.0,1454.5 L932.0,1454.0 L934.0,1453.5 L936.0,1453.1 L938.0,1452.6 L940.0,1452.0 L942.0,1451.4 L944.0,1450.7 L946.0,1450.0 L948.0,1449.3 L950.0,1448.6 L952.0,1447.8 L954.0,1447.0 L956.0,1446.2 L958.0,1445.3 L960.0,1444.5 L962.0,1443.6 L964.0,1442.7 L966.0,1441.8 L968.0,1440.9 L970.0,1440.0 L972.0,1439.1 L974.0,1438.2 L976.0,1437.3 L978.0,1436.4 L980.0,1435.4 L982.0,1434.3 L984.0,1433.3 L986.0,1432.2 L988.0,1431.1 L990.0,1430.1 L992.0,1429.0 L994.0,1428.0 L996.0,1427.1 L998.0,1426.2 L1000.0,1425.4 L1002.0,1424.8 L1004.0,1424.1 L1006.0,1423.5 L1008.0,1422.9 L1010.0,1422.3 L1012.0,1421.8 L1014.0,1421.3 L1016.0,1420.8 L1018.0,1420.3 L1020.0,1419.9 L1022.0,1419.4 L1024.0,1419.0 L1026.0,1418.5 L1028.0,1418.1 L1030.0,1417.6 L1032.0,1417.2 L1034.0,1416.7 L1036.0,1416.3 L1038.0,1415.8 L1040.0,1415.3 L1042.0,1414.8 L1044.0,1414.3 L1046.0,1413.7 L1048.0,1413.1 L1050.0,1412.5 L1052.0,1411.9 L1054.0,1411.2 L1056.0,1410.5 L1058.0,1409.8 L1060.0,1409.1 L1062.0,1408.4 L1064.0,1407.6 L1066.0,1406.8 L1068.0,1406.0 L1070.0,1405.2 L1072.0,1404.4 L1074.0,1403.6 L1076.0,1402.7 L1078.0,1401.8 L1080.0,1400.9 L1082.0,1400.0 L1084.0,1399.0 L1086.0,1398.0 L1088.0,1397.0 L1090.0,1395.9 L1092.0,1394.8 L1094.0,1393.6 L1096.0,1392.3 L1098.0,1391.1 L1100.0,1389.8 L1102.0,1388.5 L1104.0,1387.3 L1106.0,1386.1 L1108.0,1385.0 L1110.0,1383.9 L1112.0,1382.9 L1114.0,1381.8 L1116.0,1380.7 L1118.0,1379.5 L1120.0,1378.1 L1122.0,1376.6 L1124.0,1374.9 L1126.0,1372.9 L1128.0,1370.6 L1130.0,1368.1 L1132.0,1365.3 L1134.0,1362.2 L1136.0,1358.9 L1138.0,1355.3 L1140.0,1351.2 L1142.0,1346.4 L1144.0,1341.0 L1146.0,1335.1 L1148.0,1328.6 L1150.0,1321.0 L1152.0,1312.5 L1154.0,1303.9 L1156.0,1295.4 L1158.0,1286.8 L1160.0,1277.6 L1162.0,1267.4 L1164.0,1255.4 L1166.0,1242.7 L1168.0,1230.9 L1170.0,1219.9 L1172.0,1208.1 L1174.0,1194.6 L1176.0,1179.9 L1178.0,1164.9 L1180.0,1150.2 L1182.0,1136.7 L1184.0,1124.3 L1186.0,1112.5 L1188.0,1101.0 L1190.0,1089.6 L1192.0,1078.1 L1194.0,1066.4 L1196.0,1054.7 L1198.0,1042.1 L1200.0,1028.4 L1202.0,1014.0 L1204.0,998.8 L1206.0,982.6 L1208.0,965.1 L1210.0,947.1 L1212.0,929.5 L1214.0,911.5 L1216.0,894.3 L1218.0,880.0 L1220.0,867.1 L1222.0,856.4 L1224.0,849.1 L1226.0,843.8 L1228.0,839.3 L1230.0,835.2 L1232.0,830.9 L1234.0,827.1 L1236.0,824.4 L1238.0,822.5 L1240.0,820.9 L1242.0,819.8 L1244.0,819.6 L1246.0,821.3 L1248.0,824.9 L1250.0,829.3 L1252.0,835.7 L1254.0,844.8 L1256.0,855.7 L1258.0,869.6 L1260.0,886.2 L1262.0,902.6 L1264.0,919.6 L1266.0,936.5 L1268.0,953.6 L1270.0,970.0 L1272.0,984.1 L1274.0,996.4 L1276.0,1008.3 L1278.0,1021.0 L1280.0,1035.1 L1282.0,1048.3 L1284.0,1058.8 L1286.0,1068.0 L1288.0,1076.8 L1290.0,1086.0 L1292.0,1096.1 L1294.0,1106.6 L1296.0,1117.1 L1298.0,1127.3 L1300.0,1136.9 L1302.0,1146.2 L1304.0,1155.4 L1306.0,1164.0 L1308.0,1171.8 L1310.0,1178.2 L1312.0,1184.0 L1314.0,1189.5 L1316.0,1194.2 L1318.0,1197.8 L1320.0,1200.0 L1322.0,1201.5 L1324.0,1202.6 L1326.0,1203.5 L1328.0,1204.2 L1330.0,1204.9 L1332.0,1205.8 L1334.0,1206.9 L1336.0,1208.4 L1338.0,1210.8 L1340.0,1215.4 L1342.0,1221.3 L1344.0,1227.5 L1346.0,1232.9 L1348.0,1237.1 L1350.0,1241.1 L1352.0,1244.9 L1354.0,1248.5 L1356.0,1251.8 L1358.0,1254.9 L1360.0,1257.6 L1362.0,1260.3 L1364.0,1262.7 L1366.0,1265.1 L1368.0,1267.3 L1370.0,1269.5 L1372.0,1271.6 L1374.0,1273.6 L1376.0,1275.6 L1378.0,1277.5 L1380.0,1279.5 L1382.0,1281.7 L1384.0,1284.0 L1386.0,1286.1 L1388.0,1288.1 L1390.0,1289.9 L1392.0,1291.5 L1394.0,1292.5 L1396.0,1292.9 L1398.0,1293.1 L1400.0,1293.4 L1402.0,1293.6 L1404.0,1293.9 L1406.0,1294.1 L1408.0,1294.5 L1410.0,1294.3 L1412.0,1294.0 L1414.0,1292.9 L1416.0,1291.3 L1418.0,1289.8 L1420.0,1287.7 L1422.0,1286.4 L1424.0,1285.4 L1426.0,1285.9 L1428.0,1285.9 L1430.0,1285.9 L1432.0,1285.5 L1434.0,1285.6 L1436.0,1285.6 L1438.0,1285.8 L1440.0,1286.8 L1442.0,1287.6 L1444.0,1289.1 L1446.0,1290.1 L1448.0,1291.5 L1450.0,1292.6 L1452.0,1293.3 L1454.0,1294.3 L1456.0,1295.2 L1458.0,1296.1 L1460.0,1296.6 L1462.0,1297.1 L1464.0,1297.6 L1466.0,1298.2 L1468.0,1299.2 L1470.0,1300.6 L1472.0,1301.3 L1474.0,1301.8 L1476.0,1301.6 L1478.0,1302.7 L1480.0,1304.1 L1482.0,1305.1 L1484.0,1306.0 L1486.0,1305.3 L1488.0,1306.1 L1490.0,1306.9 L1492.0,1308.4 L1494.0,1308.3 L1496.0,1309.0 L1498.0,1309.9 L1500.0,1312.2 L1502.0,1312.2 L1504.0,1312.8 L1506.0,1312.3 L1508.0,1313.2 L1510.0,1312.9 L1512.0,1314.3 L1514.0,1315.1 L1516.0,1316.3 L1518.0,1316.0 L1520.0,1316.4 L1522.0,1317.1 L1524.0,1317.5 L1526.0,1317.5 L1528.0,1317.9 L1530.0,1318.2 L1532.0,1318.4 L1534.0,1318.4 L1536.0,1318.7 L1538.0,1318.5 L1540.0,1318.5 L1542.0,1319.1 L1544.0,1320.4 L1546.0,1321.1 L1548.0,1319.5 L1550.0,1318.7 L1552.0,1319.3 L1554.0,1322.3 L1556.0,1324.0 L1558.0,1324.1 L1560.0,1323.5 L1562.0,1323.1 L1564.0,1324.5 L1566.0,1325.2 L1568.0,1325.4 L1570.0,1325.5 L1572.0,1326.2 L1574.0,1326.1 L1576.0,1325.7 L1578.0,1326.3 L1580.0,1328.2 L1582.0,1328.4 L1584.0,1328.3 L1586.0,1328.8 L1588.0,1330.1 L1590.0,1330.1 L1592.0,1330.2 L1594.0,1330.9 L1596.0,1332.3 L1598.0,1332.5 L1600.0,1334.0 L1602.0,1334.5 L1604.0,1334.9 L1606.0,1334.2 L1608.0,1333.3 L1610.0,1334.3 L1612.0,1335.1 L1614.0,1338.1 L1616.0,1339.1 L1618.0,1339.8 L1620.0,1339.4 L1622.0,1339.9 L1624.0,1339.8 L1626.0,1340.6 L1628.0,1341.1 L1630.0,1342.6 L1632.0,1342.8 L1634.0,1342.5 L1636.0,1341.9 L1638.0,1341.5 L1640.0,1342.2 L1642.0,1343.0 L1644.0,1343.5 L1646.0,1343.6 L1648.0,1344.5 L1650.0,1345.6 L1652.0,1346.4 L1654.0,1345.5 L1656.0,1344.8 L1658.0,1344.7 L1660.0,1345.2 L1662.0,1345.3 L1664.0,1346.1 L1666.0,1347.1 L1668.0,1348.1 L1670.0,1347.9 L1672.0,1348.3 L1674.0,1349.5 L1676.0,1350.5 L1678.0,1350.7 L1680.0,1351.6 L1682.0,1352.2 L1684.0,1352.7 L1686.0,1352.3 L1688.0,1352.4 L1690.0,1353.2 L1692.0,1353.8 L1694.0,1354.5 L1696.0,1354.5 L1698.0,1354.9 L1700.0,1356.1 L1702.0,1356.7 L1704.0,1356.6 L1706.0,1357.2 L1708.0,1358.4 L1710.0,1359.4 L1712.0,1359.2 L1714.0,1359.1 L1716.0,1358.8 L1718.0,1359.1 L1720.0,1359.9 L1722.0,1359.2 L1724.0,1358.8 L1726.0,1359.2 L1728.0,1361.2 L1730.0,1362.2 L1732.0,1362.7 L1734.0,1362.3 L1736.0,1362.5 L1738.0,1363.2 L1740.0,1364.3 L1742.0,1365.3 L1744.0,1365.2 L1746.0,1365.8 L1748.0,1366.6 L1750.0,1367.5 L1752.0,1367.8 L1754.0,1368.0 L1756.0,1368.6 L1758.0,1369.0 L1760.0,1370.0 L1762.0,1370.4 L1764.0,1370.1 L1766.0,1368.5 L1768.0,1368.0 L1770.0,1367.6 L1772.0,1368.8 L1774.0,1367.6 L1776.0,1367.5 L1778.0,1367.3 L1780.0,1367.8 L1782.0,1368.2 L1784.0,1367.7 L1786.0,1367.3 L1788.0,1367.2 L1790.0,1366.4 L1792.0,1366.4 L1794.0,1367.0 L1796.0,1367.5 L1798.0,1368.3 L1800.0,1367.4 L1802.0,1369.0 L1804.0,1369.3 L1806.0,1370.4 L1808.0,1370.5 L1810.0,1371.4 L1812.0,1371.9 L1814.0,1372.8 L1816.0,1373.8 L1818.0,1375.2 L1820.0,1375.7 L1822.0,1376.2 L1824.0,1376.8 L1826.0,1377.8 L1828.0,1378.3 L1830.0,1378.8 L1832.0,1379.0 L1834.0,1380.2 L1836.0,1380.8 L1838.0,1381.4 L1840.0,1381.7 L1842.0,1381.3 L1844.0,1381.9 L1846.0,1381.6 L1848.0,1381.8 L1850.0,1381.4 L1852.0,1381.4" stroke="#008000" stroke-width="6.3"/>
<path d="M588.0,1523.1 L590.0,1523.4 L592.0,1523.4 L594.0,1523.1 L596.0,1522.7 L598.0,1522.8 L600.0,1522.9 L602.0,1522.9 L604.0,1522.9 L606.0,1523.1 L608.0,1523.2 L610.0,1523.1 L612.0,1522.9 L614.0,1522.8 L616.0,1522.7 L618.0,1522.5 L620.0,1522.7 L622.0,1522.7 L624.0,1522.8 L626.0,1522.8 L628.0,1522.8 L630.0,1522.8 L632.0,1522.6 L634.0,1522.5 L636.0,1522.8 L638.0,1522.6 L640.0,1522.7 L642.0,1522.6 L644.0,1522.7 L646.0,1522.5 L648.0,1522.2 L650.0,1522.0 L652.0,1522.4 L654.0,1522.4 L656.0,1522.5 L658.0,1522.2 L660.0,1522.2 L662.0,1522.3 L664.0,1522.3 L666.0,1522.3 L668.0,1522.1 L670.0,1522.2 L672.0,1522.1 L674.0,1522.1 L676.0,1522.1 L678.0,1522.0 L680.0,1522.5 L682.0,1522.4 L684.0,1522.5 L686.0,1521.9 L688.0,1521.8 L690.0,1521.6 L692.0,1521.6 L694.0,1521.6 L696.0,1521.4 L698.0,1521.3 L700.0,1521.4 L702.0,1521.4 L704.0,1520.9 L706.0,1520.4 L708.0,1520.0 L710.0,1519.4 L712.0,1518.6 L714.0,1517.8 L716.0,1517.8 L718.0,1517.4 L720.0,1516.8 L722.0,1516.2 L724.0,1515.5 L726.0,1514.9 L728.0,1514.1 L730.0,1513.4 L732.0,1512.3 L734.0,1511.3 L736.0,1510.6 L738.0,1510.0 L740.0,1509.7 L742.0,1508.9 L744.0,1508.5 L746.0,1507.6 L748.0,1506.7 L750.0,1505.9 L752.0,1505.0 L754.0,1504.6 L756.0,1504.3 L758.0,1503.8 L760.0,1503.1 L762.0,1501.9 L764.0,1501.2 L766.0,1500.5 L768.0,1500.1 L770.0,1499.6 L772.0,1499.2 L774.0,1498.6 L776.0,1497.9 L778.0,1496.8 L780.0,1496.3 L782.0,1495.6 L784.0,1494.9 L786.0,1494.2 L788.0,1493.5 L790.0,1493.3 L792.0,1492.7 L794.0,1492.2 L796.0,1491.7 L798.0,1491.0 L800.0,1490.3 L802.0,1489.4 L804.0,1488.9 L806.0,1488.2 L808.0,1487.7 L810.0,1487.2 L812.0,1486.6 L814.0,1485.8 L816.0,1485.3 L818.0,1485.1 L820.0,1484.8 L822.0,1484.3 L824.0,1483.8 L826.0,1483.3 L828.0,1482.8 L830.0,1482.1 L832.0,1481.5 L834.0,1480.9 L836.0,1480.4 L838.0,1480.0 L840.0,1479.8 L842.0,1479.4 L844.0,1478.9 L846.0,1478.5 L848.0,1478.1 L850.0,1477.5 L852.0,1476.8 L854.0,1476.3 L856.0,1475.7 L858.0,1475.1 L860.0,1474.3 L862.0,1473.9 L864.0,1473.4 L866.0,1473.0 L868.0,1472.3 L870.0,1471.9 L872.0,1471.3 L874.0,1470.8 L876.0,1470.2 L878.0,1469.7 L880.0,1469.2 L882.0,1468.6 L884.0,1468.0 L886.0,1467.4 L888.0,1466.9 L890.0,1466.3 L892.0,1465.7 L894.0,1465.1 L896.0,1464.5 L898.0,1463.9 L900.0,1463.3 L902.0,1462.7 L904.0,1462.1 L906.0,1461.5 L908.0,1460.9 L910.0,1460.3 L912.0,1459.6 L914.0,1459.0 L916.0,1458.4 L918.0,1457.8 L920.0,1457.2 L922.0,1456.7 L924.0,1456.1 L926.0,1455.5 L928.0,1455.0 L930.0,1454.5 L932.0,1454.0 L934.0,1453.5 L936.0,1453.1 L938.0,1452.6 L940.0,1452.0 L942.0,1451.4 L944.0,1450.7 L946.0,1450.0 L948.0,1449.3 L950.0,1448.6 L952.0,1447.8 L954.0,1447.0" stroke="#008000" stroke-width="7.6"/>
<path d="M1400.0,1293.4 L1402.0,1293.6 L1404.0,1293.9 L1406.0,1294.1 L1408.0,1294.5 L1410.0,1294.3 L1412.0,1294.0 L1414.0,1292.9 L1416.0,1291.3 L1418.0,1289.8 L1420.0,1287.7 L1422.0,1286.4 L1424.0,1285.4 L1426.0,1285.9 L1428.0,1285.9 L1430.0,1285.9 L1432.0,1285.5 L1434.0,1285.6 L1436.0,1285.6 L1438.0,1285.8 L1440.0,1286.8 L1442.0,1287.6 L1444.0,1289.1 L1446.0,1290.1 L1448.0,1291.5 L1450.0,1292.6 L1452.0,1293.3 L1454.0,1294.3 L1456.0,1295.2 L1458.0,1296.1 L1460.0,1296.6 L1462.0,1297.1 L1464.0,1297.6 L1466.0,1298.2 L1468.0,1299.2 L1470.0,1300.6 L1472.0,1301.3 L1474.0,1301.8 L1476.0,1301.6 L1478.0,1302.7 L1480.0,1304.1 L1482.0,1305.1 L1484.0,1306.0 L1486.0,1305.3 L1488.0,1306.1 L1490.0,1306.9 L1492.0,1308.4 L1494.0,1308.3 L1496.0,1309.0 L1498.0,1309.9 L1500.0,1312.2 L1502.0,1312.2 L1504.0,1312.8 L1506.0,1312.3 L1508.0,1313.2 L1510.0,1312.9 L1512.0,1314.3 L1514.0,1315.1 L1516.0,1316.3 L1518.0,1316.0 L1520.0,1316.4 L1522.0,1317.1 L1524.0,1317.5 L1526.0,1317.5 L1528.0,1317.9 L1530.0,1318.2 L1532.0,1318.4 L1534.0,1318.4 L1536.0,1318.7 L1538.0,1318.5 L1540.0,1318.5 L1542.0,1319.1 L1544.0,1320.4 L1546.0,1321.1 L1548.0,1319.5 L1550.0,1318.7 L1552.0,1319.3 L1554.0,1322.3 L1556.0,1324.0 L1558.0,1324.1 L1560.0,1323.5 L1562.0,1323.1 L1564.0,1324.5 L1566.0,1325.2 L1568.0,1325.4 L1570.0,1325.5 L1572.0,1326.2 L1574.0,1326.1 L1576.0,1325.7 L1578.0,1326.3 L1580.0,1328.2 L1582.0,1328.4 L1584.0,1328.3 L1586.0,1328.8 L1588.0,1330.1 L1590.0,1330.1 L1592.0,1330.2 L1594.0,1330.9 L1596.0,1332.3 L1598.0,1332.5 L1600.0,1334.0 L1602.0,1334.5 L1604.0,1334.9 L1606.0,1334.2 L1608.0,1333.3 L1610.0,1334.3 L1612.0,1335.1 L1614.0,1338.1 L1616.0,1339.1 L1618.0,1339.8 L1620.0,1339.4 L1622.0,1339.9 L1624.0,1339.8 L1626.0,1340.6 L1628.0,1341.1 L1630.0,1342.6 L1632.0,1342.8 L1634.0,1342.5 L1636.0,1341.9 L1638.0,1341.5 L1640.0,1342.2 L1642.0,1343.0 L1644.0,1343.5 L1646.0,1343.6 L1648.0,1344.5 L1650.0,1345.6 L1652.0,1346.4 L1654.0,1345.5 L1656.0,1344.8 L1658.0,1344.7 L1660.0,1345.2 L1662.0,1345.3 L1664.0,1346.1 L1666.0,1347.1 L1668.0,1348.1 L1670.0,1347.9 L1672.0,1348.3 L1674.0,1349.5 L1676.0,1350.5 L1678.0,1350.7 L1680.0,1351.6 L1682.0,1352.2 L1684.0,1352.7 L1686.0,1352.3 L1688.0,1352.4 L1690.0,1353.2 L1692.0,1353.8 L1694.0,1354.5 L1696.0,1354.5 L1698.0,1354.9 L1700.0,1356.1 L1702.0,1356.7 L1704.0,1356.6 L1706.0,1357.2 L1708.0,1358.4 L1710.0,1359.4 L1712.0,1359.2 L1714.0,1359.1 L1716.0,1358.8 L1718.0,1359.1 L1720.0,1359.9 L1722.0,1359.2 L1724.0,1358.8 L1726.0,1359.2 L1728.0,1361.2 L1730.0,1362.2 L1732.0,1362.7 L1734.0,1362.3 L1736.0,1362.5 L1738.0,1363.2 L1740.0,1364.3 L1742.0,1365.3 L1744.0,1365.2 L1746.0,1365.8 L1748.0,1366.6 L1750.0,1367.5 L1752.0,1367.8 L1754.0,1368.0 L1756.0,1368.6 L1758.0,1369.0 L1760.0,1370.0 L1762.0,1370.4 L1764.0,1370.1 L1766.0,1368.5 L1768.0,1368.0 L1770.0,1367.6 L1772.0,1368.8 L1774.0,1367.6 L1776.0,1367.5 L1778.0,1367.3 L1780.0,1367.8 L1782.0,1368.2 L1784.0,1367.7 L1786.0,1367.3 L1788.0,1367.2 L1790.0,1366.4 L1792.0,1366.4 L1794.0,1367.0 L1796.0,1367.5 L1798.0,1368.3 L1800.0,1367.4 L1802.0,1369.0 L1804.0,1369.3 L1806.0,1370.4 L1808.0,1370.5 L1810.0,1371.4 L1812.0,1371.9 L1814.0,1372.8 L1816.0,1373.8 L1818.0,1375.2 L1820.0,1375.7 L1822.0,1376.2 L1824.0,1376.8 L1826.0,1377.8 L1828.0,1378.3 L1830.0,1378.8 L1832.0,1379.0 L1834.0,1380.2 L1836.0,1380.8 L1838.0,1381.4 L1840.0,1381.7 L1842.0,1381.3 L1844.0,1381.9 L1846.0,1381.6 L1848.0,1381.8 L1850.0,1381.4 L1852.0,1381.4" stroke="#008000" stroke-width="7.4"/>
<path d="M588.0,1481.1 L590.0,1481.2 L592.0,1481.1 L594.0,1480.6 L596.0,1480.5 L598.0,1480.6 L600.0,1480.9 L602.0,1481.1 L604.0,1481.3 L606.0,1481.3 L608.0,1481.0 L610.0,1481.0 L612.0,1481.1 L614.0,1480.9 L616.0,1480.6 L618.0,1480.3 L620.0,1480.4 L622.0,1480.7 L624.0,1480.7 L626.0,1480.8 L628.0,1480.4 L630.0,1480.0 L632.0,1479.8 L634.0,1479.8 L636.0,1479.9 L638.0,1479.7 L640.0,1479.5 L642.0,1479.5 L644.0,1479.8 L646.0,1479.9 L648.0,1479.9 L650.0,1479.7 L652.0,1479.8 L654.0,1479.9 L656.0,1479.7 L658.0,1479.7 L660.0,1479.2 L662.0,1479.4 L664.0,1479.4 L666.0,1479.7 L668.0,1479.5 L670.0,1479.2 L672.0,1478.8 L674.0,1478.7 L676.0,1478.7 L678.0,1478.3 L680.0,1478.2 L682.0,1477.6 L684.0,1477.8 L686.0,1477.0 L688.0,1476.8 L690.0,1476.4 L692.0,1476.1 L694.0,1476.0 L696.0,1475.4 L698.0,1475.1 L700.0,1474.3 L702.0,1473.7 L704.0,1473.1 L706.0,1472.9 L708.0,1472.8 L710.0,1472.4 L712.0,1471.7 L714.0,1470.9 L716.0,1470.2 L718.0,1470.0 L720.0,1469.6 L722.0,1469.1 L724.0,1468.4 L726.0,1468.1 L728.0,1467.8 L730.0,1467.2 L732.0,1466.7 L734.0,1466.2 L736.0,1465.7 L738.0,1465.1 L740.0,1464.8 L742.0,1464.2 L744.0,1463.9 L746.0,1463.1 L748.0,1463.0 L750.0,1462.4 L752.0,1462.0 L754.0,1461.4 L756.0,1460.9 L758.0,1460.5 L760.0,1460.1 L762.0,1459.5 L764.0,1459.0 L766.0,1458.7 L768.0,1458.7 L770.0,1458.2 L772.0,1457.3 L774.0,1456.9 L776.0,1456.7 L778.0,1456.9 L780.0,1456.4 L782.0,1456.0 L784.0,1455.4 L786.0,1455.3 L788.0,1454.8 L790.0,1454.6 L792.0,1454.4 L794.0,1454.4 L796.0,1454.6 L798.0,1454.3 L800.0,1454.1 L802.0,1453.9 L804.0,1453.7 L806.0,1453.8 L808.0,1453.5 L810.0,1453.4 L812.0,1452.9 L814.0,1452.7 L816.0,1452.6 L818.0,1452.6 L820.0,1452.4 L822.0,1452.4 L824.0,1452.1 L826.0,1452.0 L828.0,1451.8 L830.0,1451.6 L832.0,1451.5 L834.0,1451.4 L836.0,1451.3 L838.0,1451.1 L840.0,1451.1 L842.0,1451.1 L844.0,1451.2 L846.0,1451.0 L848.0,1451.1 L850.0,1451.0 L852.0,1450.8 L854.0,1450.7 L856.0,1450.6 L858.0,1450.7 L860.0,1450.6 L862.0,1450.7 L864.0,1450.6 L866.0,1450.5 L868.0,1450.5 L870.0,1450.5 L872.0,1450.5 L874.0,1450.4 L876.0,1450.2 L878.0,1450.2 L880.0,1450.1 L882.0,1450.0 L884.0,1449.9 L886.0,1449.9 L888.0,1449.8 L890.0,1449.8 L892.0,1449.7 L894.0,1449.6 L896.0,1449.5 L898.0,1449.4 L900.0,1449.3 L902.0,1449.2 L904.0,1449.1 L906.0,1449.0 L908.0,1448.8 L910.0,1448.7 L912.0,1448.5 L914.0,1448.2 L916.0,1447.9 L918.0,1447.6 L920.0,1447.2 L922.0,1446.8 L924.0,1446.3 L926.0,1445.9 L928.0,1445.3 L930.0,1444.8 L932.0,1444.3 L934.0,1443.8 L936.0,1443.3 L938.0,1442.7 L940.0,1442.2 L942.0,1441.6 L944.0,1441.0 L946.0,1440.4 L948.0,1439.7 L950.0,1439.1 L952.0,1438.4 L954.0,1437.7 L956.0,1436.9 L958.0,1436.2 L960.0,1435.5 L962.0,1434.7 L964.0,1433.9 L966.0,1433.2 L968.0,1432.4 L970.0,1431.6 L972.0,1430.7 L974.0,1429.8 L976.0,1428.9 L978.0,1427.9 L980.0,1426.9 L982.0,1425.9 L984.0,1425.0 L986.0,1424.0 L988.0,1423.0 L990.0,1422.1 L992.0,1421.2 L994.0,1420.3 L996.0,1419.5 L998.0,1418.8 L1000.0,1418.1 L1002.0,1417.5 L1004.0,1417.0 L1006.0,1416.4 L1008.0,1415.9 L1010.0,1415.5 L1012.0,1415.0 L1014.0,1414.6 L1016.0,1414.1 L1018.0,1413.7 L1020.0,1413.3 L1022.0,1412.9 L1024.0,1412.4 L1026.0,1412.0 L1028.0,1411.5 L1030.0,1411.0 L1032.0,1410.5 L1034.0,1410.0 L1036.0,1409.4 L1038.0,1408.8 L1040.0,1408.2 L1042.0,1407.6 L1044.0,1407.0 L1046.0,1406.4 L1048.0,1405.7 L1050.0,1405.1 L1052.0,1404.5 L1054.0,1403.8 L1056.0,1403.2 L1058.0,1402.6 L1060.0,1402.0 L1062.0,1401.4 L1064.0,1400.8 L1066.0,1400.2 L1068.0,1399.7 L1070.0,1399.1 L1072.0,1398.6 L1074.0,1398.1 L1076.0,1397.6 L1078.0,1397.2 L1080.0,1396.7 L1082.0,1396.2 L1084.0,1395.8 L1086.0,1395.3 L1088.0,1394.9 L1090.0,1394.4 L1092.0,1393.9 L1094.0,1393.5 L1096.0,1393.0 L1098.0,1392.4 L1100.0,1391.9 L1102.0,1391.3 L1104.0,1390.7 L1106.0,1390.1 L1108.0,1389.5 L1110.0,1388.8 L1112.0,1388.1 L1114.0,1387.4 L1116.0,1386.6 L1118.0,1385.8 L1120.0,1385.0 L1122.0,1384.2 L1124.0,1383.3 L1126.0,1382.4 L1128.0,1381.5 L1130.0,1380.6 L1132.0,1379.6 L1134.0,1378.7 L1136.0,1377.7 L1138.0,1376.6 L1140.0,1375.5 L1142.0,1374.4 L1144.0,1373.2 L1146.0,1371.9 L1148.0,1370.5 L1150.0,1369.0 L1152.0,1367.3 L1154.0,1365.4 L1156.0,1363.3 L1158.0,1361.0 L1160.0,1358.5 L1162.0,1355.9 L1164.0,1353.3 L1166.0,1350.6 L1168.0,1347.8 L1170.0,1345.1 L1172.0,1342.2 L1174.0,1339.1 L1176.0,1335.9 L1178.0,1332.7 L1180.0,1329.6 L1182.0,1326.7 L1184.0,1324.0 L1186.0,1321.6 L1188.0,1319.3 L1190.0,1317.2 L1192.0,1315.0 L1194.0,1312.8 L1196.0,1310.5 L1198.0,1308.2 L1200.0,1306.2 L1202.0,1303.8 L1204.0,1300.5 L1206.0,1293.9 L1208.0,1281.2 L1210.0,1267.7 L1212.0,1253.2 L1214.0,1238.1 L1216.0,1222.6 L1218.0,1209.3 L1220.0,1196.8 L1222.0,1184.0 L1224.0,1171.1 L1226.0,1157.8 L1228.0,1143.7 L1230.0,1128.5 L1232.0,1112.6 L1234.0,1096.8 L1236.0,1081.9 L1238.0,1067.5 L1240.0,1053.3 L1242.0,1038.7 L1244.0,1024.2 L1246.0,1009.6 L1248.0,994.5 L1250.0,978.6 L1252.0,961.3 L1254.0,943.6 L1256.0,926.6 L1258.0,910.7 L1260.0,895.4 L1262.0,880.6 L1264.0,865.9 L1266.0,851.2 L1268.0,838.1 L1270.0,827.6 L1272.0,818.3 L1274.0,810.7 L1276.0,805.7 L1278.0,802.2 L1280.0,799.2 L1282.0,797.2 L1284.0,796.4 L1286.0,797.1 L1288.0,798.8 L1290.0,801.3 L1292.0,804.3 L1294.0,808.4 L1296.0,814.5 L1298.0,821.6 L1300.0,828.8 L1302.0,836.7 L1304.0,845.6 L1306.0,855.6 L1308.0,867.5 L1310.0,880.6 L1312.0,893.6 L1314.0,905.9 L1316.0,918.2 L1318.0,930.9 L1320.0,944.4 L1322.0,958.8 L1324.0,972.7 L1326.0,985.3 L1328.0,997.2 L1330.0,1009.0 L1332.0,1021.0 L1334.0,1033.1 L1336.0,1045.5 L1338.0,1058.6 L1340.0,1072.5 L1342.0,1086.5 L1344.0,1100.0 L1346.0,1113.3 L1348.0,1126.5 L1350.0,1138.9 L1352.0,1150.0 L1354.0,1159.9 L1356.0,1169.2 L1358.0,1177.8 L1360.0,1185.4 L1362.0,1192.0 L1364.0,1197.7 L1366.0,1202.8 L1368.0,1207.5 L1370.0,1211.6 L1372.0,1215.3 L1374.0,1218.6 L1376.0,1221.7 L1378.0,1224.4 L1380.0,1227.0 L1382.0,1229.4 L1384.0,1231.7 L1386.0,1234.0 L1388.0,1236.1 L1390.0,1238.0 L1392.0,1239.9 L1394.0,1241.7 L1396.0,1243.7 L1398.0,1245.7 L1400.0,1248.0 L1402.0,1249.8 L1404.0,1251.8 L1406.0,1253.6 L1408.0,1255.1 L1410.0,1255.7 L1412.0,1255.6 L1414.0,1255.2 L1416.0,1254.4 L1418.0,1253.1 L1420.0,1252.4 L1422.0,1251.7 L1424.0,1250.7 L1426.0,1249.2 L1428.0,1247.8 L1430.0,1247.0 L1432.0,1246.1 L1434.0,1245.8 L1436.0,1245.8 L1438.0,1246.8 L1440.0,1248.4 L1442.0,1250.1 L1444.0,1252.7 L1446.0,1254.4 L1448.0,1256.1 L1450.0,1257.4 L1452.0,1259.4 L1454.0,1260.4 L1456.0,1262.1 L1458.0,1263.3 L1460.0,1265.2 L1462.0,1266.1 L1464.0,1268.3 L1466.0,1269.7 L1468.0,1272.1 L1470.0,1272.3 L1472.0,1273.4 L1474.0,1274.3 L1476.0,1275.5 L1478.0,1276.9 L1480.0,1277.9 L1482.0,1279.0 L1484.0,1279.6 L1486.0,1280.0 L1488.0,1281.6 L1490.0,1283.1 L1492.0,1284.7 L1494.0,1285.1 L1496.0,1285.5 L1498.0,1285.2 L1500.0,1286.0 L1502.0,1286.7 L1504.0,1288.0 L1506.0,1288.5 L1508.0,1289.1 L1510.0,1289.8 L1512.0,1291.4 L1514.0,1292.2 L1516.0,1292.7 L1518.0,1293.3 L1520.0,1294.7 L1522.0,1295.4 L1524.0,1295.2 L1526.0,1294.1 L1528.0,1293.9 L1530.0,1294.5 L1532.0,1296.5 L1534.0,1298.7 L1536.0,1299.6 L1538.0,1299.1 L1540.0,1299.0 L1542.0,1298.4 L1544.0,1299.2 L1546.0,1299.0 L1548.0,1300.4 L1550.0,1301.8 L1552.0,1304.2 L1554.0,1304.9 L1556.0,1305.1 L1558.0,1303.8 L1560.0,1304.0 L1562.0,1305.2 L1564.0,1307.2 L1566.0,1308.6 L1568.0,1308.6 L1570.0,1309.5 L1572.0,1309.5 L1574.0,1309.7 L1576.0,1310.9 L1578.0,1311.2 L1580.0,1312.1 L1582.0,1311.0 L1584.0,1312.8 L1586.0,1313.0 L1588.0,1313.5 L1590.0,1313.2 L1592.0,1314.2 L1594.0,1314.5 L1596.0,1314.4 L1598.0,1314.5 L1600.0,1315.3 L1602.0,1316.9 L1604.0,1317.3 L1606.0,1317.7 L1608.0,1318.1 L1610.0,1319.1 L1612.0,1320.4 L1614.0,1320.9 L1616.0,1320.3 L1618.0,1320.3 L1620.0,1320.8 L1622.0,1322.2 L1624.0,1323.1 L1626.0,1323.5 L1628.0,1324.7 L1630.0,1324.8 L1632.0,1326.2 L1634.0,1325.7 L1636.0,1325.2 L1638.0,1324.6 L1640.0,1327.1 L1642.0,1328.7 L1644.0,1329.7 L1646.0,1329.0 L1648.0,1329.5 L1650.0,1330.2 L1652.0,1330.7 L1654.0,1332.5 L1656.0,1333.6 L1658.0,1334.2 L1660.0,1334.0 L1662.0,1334.3 L1664.0,1334.1 L1666.0,1334.9 L1668.0,1334.8 L1670.0,1336.2 L1672.0,1336.2 L1674.0,1337.5 L1676.0,1338.3 L1678.0,1339.0 L1680.0,1338.8 L1682.0,1338.5 L1684.0,1338.9 L1686.0,1339.5 L1688.0,1339.9 L1690.0,1340.1 L1692.0,1340.6 L1694.0,1341.5 L1696.0,1341.8 L1698.0,1342.5 L1700.0,1342.4 L1702.0,1342.2 L1704.0,1343.0 L1706.0,1344.3 L1708.0,1345.4 L1710.0,1345.8 L1712.0,1345.9 L1714.0,1346.0 L1716.0,1346.6 L1718.0,1345.9 L1720.0,1346.9 L1722.0,1347.0 L1724.0,1347.9 L1726.0,1349.1 L1728.0,1348.8 L1730.0,1350.4 L1732.0,1349.9 L1734.0,1350.9 L1736.0,1350.7 L1738.0,1352.4 L1740.0,1352.7 L1742.0,1353.6 L1744.0,1353.2 L1746.0,1353.5 L1748.0,1353.3 L1750.0,1353.5 L1752.0,1354.2 L1754.0,1355.1 L1756.0,1355.5 L1758.0,1355.2 L1760.0,1355.3 L1762.0,1354.6 L1764.0,1354.8 L1766.0,1353.4 L1768.0,1353.6 L1770.0,1353.4 L1772.0,1353.6 L1774.0,1353.2 L1776.0,1353.6 L1778.0,1354.3 L1780.0,1355.3 L1782.0,1355.2 L1784.0,1355.0 L1786.0,1354.7 L1788.0,1354.1 L1790.0,1354.3 L1792.0,1353.1 L1794.0,1352.8 L1796.0,1352.8 L1798.0,1354.4 L1800.0,1355.1 L1802.0,1355.1 L1804.0,1355.9 L1806.0,1356.7 L1808.0,1357.2 L1810.0,1358.3 L1812.0,1359.0 L1814.0,1360.4 L1816.0,1359.9 L1818.0,1359.7 L1820.0,1360.8 L1822.0,1363.4 L1824.0,1364.4 L1826.0,1364.8 L1828.0,1364.9 L1830.0,1366.7 L1832.0,1367.5 L1834.0,1367.7 L1836.0,1367.6 L1838.0,1368.6 L1840.0,1369.5 L1842.0,1370.6 L1844.0,1369.3 L1846.0,1369.9 L1848.0,1370.0 L1850.0,1371.6 L1852.0,1370.9" stroke="#ff4e34" stroke-width="6.3"/>
<path d="M588.0,1481.1 L590.0,1481.2 L592.0,1481.1 L594.0,1480.6 L596.0,1480.5 L598.0,1480.6 L600.0,1480.9 L602.0,1481.1 L604.0,1481.3 L606.0,1481.3 L608.0,1481.0 L610.0,1481.0 L612.0,1481.1 L614.0,1480.9 L616.0,1480.6 L618.0,1480.3 L620.0,1480.4 L622.0,1480.7 L624.0,1480.7 L626.0,1480.8 L628.0,1480.4 L630.0,1480.0 L632.0,1479.8 L634.0,1479.8 L636.0,1479.9 L638.0,1479.7 L640.0,1479.5 L642.0,1479.5 L644.0,1479.8 L646.0,1479.9 L648.0,1479.9 L650.0,1479.7 L652.0,1479.8 L654.0,1479.9 L656.0,1479.7 L658.0,1479.7 L660.0,1479.2 L662.0,1479.4 L664.0,1479.4 L666.0,1479.7 L668.0,1479.5 L670.0,1479.2 L672.0,1478.8 L674.0,1478.7 L676.0,1478.7 L678.0,1478.3 L680.0,1478.2 L682.0,1477.6 L684.0,1477.8 L686.0,1477.0 L688.0,1476.8 L690.0,1476.4 L692.0,1476.1 L694.0,1476.0 L696.0,1475.4 L698.0,1475.1 L700.0,1474.3 L702.0,1473.7 L704.0,1473.1 L706.0,1472.9 L708.0,1472.8 L710.0,1472.4 L712.0,1471.7 L714.0,1470.9 L716.0,1470.2 L718.0,1470.0 L720.0,1469.6 L722.0,1469.1 L724.0,1468.4 L726.0,1468.1 L728.0,1467.8 L730.0,1467.2 L732.0,1466.7 L734.0,1466.2 L736.0,1465.7 L738.0,1465.1 L740.0,1464.8 L742.0,1464.2 L744.0,1463.9 L746.0,1463.1 L748.0,1463.0 L750.0,1462.4 L752.0,1462.0 L754.0,1461.4 L756.0,1460.9 L758.0,1460.5 L760.0,1460.1 L762.0,1459.5 L764.0,1459.0 L766.0,1458.7 L768.0,1458.7 L770.0,1458.2 L772.0,1457.3 L774.0,1456.9 L776.0,1456.7 L778.0,1456.9 L780.0,1456.4 L782.0,1456.0 L784.0,1455.4 L786.0,1455.3 L788.0,1454.8 L790.0,1454.6 L792.0,1454.4 L794.0,1454.4 L796.0,1454.6 L798.0,1454.3 L800.0,1454.1 L802.0,1453.9 L804.0,1453.7 L806.0,1453.8 L808.0,1453.5 L810.0,1453.4 L812.0,1452.9 L814.0,1452.7 L816.0,1452.6 L818.0,1452.6 L820.0,1452.4 L822.0,1452.4 L824.0,1452.1 L826.0,1452.0 L828.0,1451.8 L830.0,1451.6 L832.0,1451.5 L834.0,1451.4 L836.0,1451.3 L838.0,1451.1 L840.0,1451.1 L842.0,1451.1 L844.0,1451.2 L846.0,1451.0 L848.0,1451.1 L850.0,1451.0 L852.0,1450.8 L854.0,1450.7 L856.0,1450.6 L858.0,1450.7 L860.0,1450.6 L862.0,1450.7 L864.0,1450.6 L866.0,1450.5 L868.0,1450.5 L870.0,1450.5 L872.0,1450.5 L874.0,1450.4 L876.0,1450.2 L878.0,1450.2 L880.0,1450.1 L882.0,1450.0 L884.0,1449.9 L886.0,1449.9 L888.0,1449.8 L890.0,1449.8 L892.0,1449.7 L894.0,1449.6 L896.0,1449.5 L898.0,1449.4 L900.0,1449.3 L902.0,1449.2 L904.0,1449.1 L906.0,1449.0 L908.0,1448.8 L910.0,1448.7 L912.0,1448.5 L914.0,1448.2 L916.0,1447.9 L918.0,1447.6 L920.0,1447.2 L922.0,1446.8 L924.0,1446.3 L926.0,1445.9 L928.0,1445.3 L930.0,1444.8 L932.0,1444.3 L934.0,1443.8 L936.0,1443.3 L938.0,1442.7 L940.0,1442.2 L942.0,1441.6 L944.0,1441.0 L946.0,1440.4 L948.0,1439.7 L950.0,1439.1 L952.0,1438.4 L954.0,1437.7" stroke="#ff4e34" stroke-width="7.6"/>
<path d="M1400.0,1248.0 L1402.0,1249.8 L1404.0,1251.8 L1406.0,1253.6 L1408.0,1255.1 L1410.0,1255.7 L1412.0,1255.6 L1414.0,1255.2 L1416.0,1254.4 L1418.0,1253.1 L1420.0,1252.4 L1422.0,1251.7 L1424.0,1250.7 L1426.0,1249.2 L1428.0,1247.8 L1430.0,1247.0 L1432.0,1246.1 L1434.0,1245.8 L1436.0,1245.8 L1438.0,1246.8 L1440.0,1248.4 L1442.0,1250.1 L1444.0,1252.7 L1446.0,1254.4 L1448.0,1256.1 L1450.0,1257.4 L1452.0,1259.4 L1454.0,1260.4 L1456.0,1262.1 L1458.0,1263.3 L1460.0,1265.2 L1462.0,1266.1 L1464.0,1268.3 L1466.0,1269.7 L1468.0,1272.1 L1470.0,1272.3 L1472.0,1273.4 L1474.0,1274.3 L1476.0,1275.5 L1478.0,1276.9 L1480.0,1277.9 L1482.0,1279.0 L1484.0,1279.6 L1486.0,1280.0 L1488.0,1281.6 L1490.0,1283.1 L1492.0,1284.7 L1494.0,1285.1 L1496.0,1285.5 L1498.0,1285.2 L1500.0,1286.0 L1502.0,1286.7 L1504.0,1288.0 L1506.0,1288.5 L1508.0,1289.1 L1510.0,1289.8 L1512.0,1291.4 L1514.0,1292.2 L1516.0,1292.7 L1518.0,1293.3 L1520.0,1294.7 L1522.0,1295.4 L1524.0,1295.2 L1526.0,1294.1 L1528.0,1293.9 L1530.0,1294.5 L1532.0,1296.5 L1534.0,1298.7 L1536.0,1299.6 L1538.0,1299.1 L1540.0,1299.0 L1542.0,1298.4 L1544.0,1299.2 L1546.0,1299.0 L1548.0,1300.4 L1550.0,1301.8 L1552.0,1304.2 L1554.0,1304.9 L1556.0,1305.1 L1558.0,1303.8 L1560.0,1304.0 L1562.0,1305.2 L1564.0,1307.2 L1566.0,1308.6 L1568.0,1308.6 L1570.0,1309.5 L1572.0,1309.5 L1574.0,1309.7 L1576.0,1310.9 L1578.0,1311.2 L1580.0,1312.1 L1582.0,1311.0 L1584.0,1312.8 L1586.0,1313.0 L1588.0,1313.5 L1590.0,1313.2 L1592.0,1314.2 L1594.0,1314.5 L1596.0,1314.4 L1598.0,1314.5 L1600.0,1315.3 L1602.0,1316.9 L1604.0,1317.3 L1606.0,1317.7 L1608.0,1318.1 L1610.0,1319.1 L1612.0,1320.4 L1614.0,1320.9 L1616.0,1320.3 L1618.0,1320.3 L1620.0,1320.8 L1622.0,1322.2 L1624.0,1323.1 L1626.0,1323.5 L1628.0,1324.7 L1630.0,1324.8 L1632.0,1326.2 L1634.0,1325.7 L1636.0,1325.2 L1638.0,1324.6 L1640.0,1327.1 L1642.0,1328.7 L1644.0,1329.7 L1646.0,1329.0 L1648.0,1329.5 L1650.0,1330.2 L1652.0,1330.7 L1654.0,1332.5 L1656.0,1333.6 L1658.0,1334.2 L1660.0,1334.0 L1662.0,1334.3 L1664.0,1334.1 L1666.0,1334.9 L1668.0,1334.8 L1670.0,1336.2 L1672.0,1336.2 L1674.0,1337.5 L1676.0,1338.3 L1678.0,1339.0 L1680.0,1338.8 L1682.0,1338.5 L1684.0,1338.9 L1686.0,1339.5 L1688.0,1339.9 L1690.0,1340.1 L1692.0,1340.6 L1694.0,1341.5 L1696.0,1341.8 L1698.0,1342.5 L1700.0,1342.4 L1702.0,1342.2 L1704.0,1343.0 L1706.0,1344.3 L1708.0,1345.4 L1710.0,1345.8 L1712.0,1345.9 L1714.0,1346.0 L1716.0,1346.6 L1718.0,1345.9 L1720.0,1346.9 L1722.0,1347.0 L1724.0,1347.9 L1726.0,1349.1 L1728.0,1348.8 L1730.0,1350.4 L1732.0,1349.9 L1734.0,1350.9 L1736.0,1350.7 L1738.0,1352.4 L1740.0,1352.7 L1742.0,1353.6 L1744.0,1353.2 L1746.0,1353.5 L1748.0,1353.3 L1750.0,1353.5 L1752.0,1354.2 L1754.0,1355.1 L1756.0,1355.5 L1758.0,1355.2 L1760.0,1355.3 L1762.0,1354.6 L1764.0,1354.8 L1766.0,1353.4 L1768.0,1353.6 L1770.0,1353.4 L1772.0,1353.6 L1774.0,1353.2 L1776.0,1353.6 L1778.0,1354.3 L1780.0,1355.3 L1782.0,1355.2 L1784.0,1355.0 L1786.0,1354.7 L1788.0,1354.1 L1790.0,1354.3 L1792.0,1353.1 L1794.0,1352.8 L1796.0,1352.8 L1798.0,1354.4 L1800.0,1355.1 L1802.0,1355.1 L1804.0,1355.9 L1806.0,1356.7 L1808.0,1357.2 L1810.0,1358.3 L1812.0,1359.0 L1814.0,1360.4 L1816.0,1359.9 L1818.0,1359.7 L1820.0,1360.8 L1822.0,1363.4 L1824.0,1364.4 L1826.0,1364.8 L1828.0,1364.9 L1830.0,1366.7 L1832.0,1367.5 L1834.0,1367.7 L1836.0,1367.6 L1838.0,1368.6 L1840.0,1369.5 L1842.0,1370.6 L1844.0,1369.3 L1846.0,1369.9 L1848.0,1370.0 L1850.0,1371.6 L1852.0,1370.9" stroke="#ff4e34" stroke-width="7.4"/>
<path d="M588.0,1493.5 L590.0,1493.5 L592.0,1493.4 L594.0,1493.3 L596.0,1493.2 L598.0,1493.0 L600.0,1492.6 L602.0,1492.4 L604.0,1492.5 L606.0,1493.0 L608.0,1493.1 L610.0,1493.2 L612.0,1493.0 L614.0,1493.4 L616.0,1493.2 L618.0,1493.6 L620.0,1493.4 L622.0,1493.4 L624.0,1492.9 L626.0,1492.5 L628.0,1492.6 L630.0,1492.5 L632.0,1492.8 L634.0,1492.7 L636.0,1492.3 L638.0,1491.7 L640.0,1491.6 L642.0,1491.8 L644.0,1492.4 L646.0,1492.3 L648.0,1492.5 L650.0,1492.3 L652.0,1492.7 L654.0,1492.6 L656.0,1492.7 L658.0,1492.2 L660.0,1492.2 L662.0,1492.2 L664.0,1492.3 L666.0,1492.3 L668.0,1492.0 L670.0,1492.0 L672.0,1491.8 L674.0,1491.9 L676.0,1492.0 L678.0,1491.9 L680.0,1491.7 L682.0,1491.1 L684.0,1490.8 L686.0,1490.5 L688.0,1490.4 L690.0,1489.9 L692.0,1489.9 L694.0,1489.6 L696.0,1489.6 L698.0,1489.3 L700.0,1488.5 L702.0,1488.2 L704.0,1487.7 L706.0,1487.9 L708.0,1487.7 L710.0,1487.5 L712.0,1487.3 L714.0,1486.6 L716.0,1486.0 L718.0,1485.6 L720.0,1485.8 L722.0,1485.5 L724.0,1485.1 L726.0,1484.6 L728.0,1484.2 L730.0,1483.5 L732.0,1483.0 L734.0,1482.9 L736.0,1482.9 L738.0,1482.6 L740.0,1482.4 L742.0,1481.6 L744.0,1481.0 L746.0,1480.4 L748.0,1480.4 L750.0,1480.6 L752.0,1480.3 L754.0,1479.7 L756.0,1478.6 L758.0,1478.6 L760.0,1478.1 L762.0,1478.4 L764.0,1478.0 L766.0,1477.7 L768.0,1477.1 L770.0,1476.7 L772.0,1476.9 L774.0,1476.7 L776.0,1476.1 L778.0,1475.7 L780.0,1475.8 L782.0,1475.5 L784.0,1475.1 L786.0,1474.9 L788.0,1474.9 L790.0,1474.7 L792.0,1474.3 L794.0,1474.1 L796.0,1474.2 L798.0,1474.1 L800.0,1473.8 L802.0,1473.1 L804.0,1473.0 L806.0,1472.9 L808.0,1473.0 L810.0,1472.7 L812.0,1472.5 L814.0,1472.4 L816.0,1472.2 L818.0,1471.9 L820.0,1471.7 L822.0,1471.6 L824.0,1471.6 L826.0,1471.4 L828.0,1471.3 L830.0,1471.3 L832.0,1471.0 L834.0,1471.1 L836.0,1470.9 L838.0,1471.1 L840.0,1470.8 L842.0,1470.8 L844.0,1470.6 L846.0,1470.7 L848.0,1470.8 L850.0,1470.7 L852.0,1470.5 L854.0,1470.5 L856.0,1470.5 L858.0,1470.6 L860.0,1470.5 L862.0,1470.5 L864.0,1470.4 L866.0,1470.4 L868.0,1470.5 L870.0,1470.4 L872.0,1470.3 L874.0,1470.3 L876.0,1470.2 L878.0,1470.3 L880.0,1470.1 L882.0,1470.0 L884.0,1470.0 L886.0,1470.1 L888.0,1470.1 L890.0,1470.0 L892.0,1470.0 L894.0,1469.9 L896.0,1469.9 L898.0,1469.9 L900.0,1469.8 L902.0,1469.8 L904.0,1469.7 L906.0,1469.7 L908.0,1469.6 L910.0,1469.6 L912.0,1469.5 L914.0,1469.5 L916.0,1469.4 L918.0,1469.4 L920.0,1469.3 L922.0,1469.2 L924.0,1469.2 L926.0,1469.1 L928.0,1469.0 L930.0,1468.9 L932.0,1468.8 L934.0,1468.6 L936.0,1468.5 L938.0,1468.3 L940.0,1468.1 L942.0,1467.9 L944.0,1467.7 L946.0,1467.4 L948.0,1467.1 L950.0,1466.9 L952.0,1466.6 L954.0,1466.2 L956.0,1465.9 L958.0,1465.5 L960.0,1465.0 L962.0,1464.4 L964.0,1463.8 L966.0,1463.1 L968.0,1462.4 L970.0,1461.6 L972.0,1460.8 L974.0,1460.0 L976.0,1459.2 L978.0,1458.4 L980.0,1457.5 L982.0,1456.5 L984.0,1455.4 L986.0,1454.3 L988.0,1453.1 L990.0,1452.0 L992.0,1450.8 L994.0,1449.7 L996.0,1448.6 L998.0,1447.5 L1000.0,1446.6 L1002.0,1445.7 L1004.0,1445.0 L1006.0,1444.3 L1008.0,1443.7 L1010.0,1443.1 L1012.0,1442.5 L1014.0,1442.0 L1016.0,1441.5 L1018.0,1441.0 L1020.0,1440.5 L1022.0,1440.0 L1024.0,1439.5 L1026.0,1439.1 L1028.0,1438.7 L1030.0,1438.2 L1032.0,1437.8 L1034.0,1437.4 L1036.0,1437.0 L1038.0,1436.6 L1040.0,1436.2 L1042.0,1435.7 L1044.0,1435.3 L1046.0,1434.9 L1048.0,1434.5 L1050.0,1434.0 L1052.0,1433.5 L1054.0,1433.1 L1056.0,1432.6 L1058.0,1432.2 L1060.0,1431.7 L1062.0,1431.3 L1064.0,1430.8 L1066.0,1430.4 L1068.0,1429.9 L1070.0,1429.5 L1072.0,1429.1 L1074.0,1428.6 L1076.0,1428.2 L1078.0,1427.8 L1080.0,1427.4 L1082.0,1426.9 L1084.0,1426.5 L1086.0,1426.1 L1088.0,1425.7 L1090.0,1425.3 L1092.0,1424.9 L1094.0,1424.6 L1096.0,1424.2 L1098.0,1423.8 L1100.0,1423.5 L1102.0,1423.1 L1104.0,1422.8 L1106.0,1422.4 L1108.0,1422.1 L1110.0,1421.7 L1112.0,1421.3 L1114.0,1420.9 L1116.0,1420.5 L1118.0,1420.1 L1120.0,1419.7 L1122.0,1419.2 L1124.0,1418.8 L1126.0,1418.3 L1128.0,1417.8 L1130.0,1417.3 L1132.0,1416.7 L1134.0,1416.2 L1136.0,1415.5 L1138.0,1414.9 L1140.0,1414.1 L1142.0,1413.3 L1144.0,1412.3 L1146.0,1411.1 L1148.0,1409.7 L1150.0,1408.2 L1152.0,1406.6 L1154.0,1405.0 L1156.0,1403.4 L1158.0,1401.9 L1160.0,1400.4 L1162.0,1398.8 L1164.0,1397.1 L1166.0,1395.2 L1168.0,1393.4 L1170.0,1391.5 L1172.0,1389.8 L1174.0,1388.1 L1176.0,1386.7 L1178.0,1385.4 L1180.0,1384.5 L1182.0,1384.0 L1184.0,1383.6 L1186.0,1383.4 L1188.0,1383.3 L1190.0,1383.1 L1192.0,1383.0 L1194.0,1382.8 L1196.0,1382.4 L1198.0,1382.0 L1200.0,1380.2 L1202.0,1376.5 L1204.0,1372.0 L1206.0,1366.4 L1208.0,1359.2 L1210.0,1350.9 L1212.0,1341.6 L1214.0,1330.2 L1216.0,1319.0 L1218.0,1309.2 L1220.0,1300.0 L1222.0,1291.1 L1224.0,1282.4 L1226.0,1274.0 L1228.0,1265.9 L1230.0,1258.0 L1232.0,1249.9 L1234.0,1241.7 L1236.0,1233.5 L1238.0,1225.0 L1240.0,1216.0 L1242.0,1206.1 L1244.0,1193.8 L1246.0,1179.5 L1248.0,1164.2 L1250.0,1148.6 L1252.0,1133.6 L1254.0,1118.9 L1256.0,1104.1 L1258.0,1088.6 L1260.0,1071.9 L1262.0,1054.2 L1264.0,1037.8 L1266.0,1022.2 L1268.0,1006.7 L1270.0,990.9 L1272.0,974.0 L1274.0,956.2 L1276.0,938.4 L1278.0,921.8 L1280.0,906.1 L1282.0,891.2 L1284.0,877.0 L1286.0,863.3 L1288.0,850.2 L1290.0,838.6 L1292.0,828.5 L1294.0,819.1 L1296.0,811.9 L1298.0,807.9 L1300.0,804.8 L1302.0,802.3 L1304.0,800.8 L1306.0,800.6 L1308.0,802.1 L1310.0,805.2 L1312.0,809.2 L1314.0,813.9 L1316.0,821.6 L1318.0,832.0 L1320.0,843.1 L1322.0,854.6 L1324.0,867.3 L1326.0,880.3 L1328.0,892.9 L1330.0,905.4 L1332.0,917.9 L1334.0,930.3 L1336.0,942.8 L1338.0,955.3 L1340.0,967.8 L1342.0,980.1 L1344.0,992.2 L1346.0,1005.0 L1348.0,1018.9 L1350.0,1033.9 L1352.0,1049.0 L1354.0,1063.8 L1356.0,1078.5 L1358.0,1092.9 L1360.0,1106.9 L1362.0,1121.1 L1364.0,1134.6 L1366.0,1146.7 L1368.0,1157.1 L1370.0,1166.6 L1372.0,1175.5 L1374.0,1183.8 L1376.0,1192.0 L1378.0,1200.0 L1380.0,1207.8 L1382.0,1215.3 L1384.0,1222.4 L1386.0,1228.9 L1388.0,1235.1 L1390.0,1241.1 L1392.0,1246.7 L1394.0,1251.9 L1396.0,1256.4 L1398.0,1260.8 L1400.0,1265.1 L1402.0,1269.0 L1404.0,1271.9 L1406.0,1273.6 L1408.0,1274.9 L1410.0,1275.7 L1412.0,1276.4 L1414.0,1276.7 L1416.0,1276.9 L1418.0,1277.1 L1420.0,1277.2 L1422.0,1277.5 L1424.0,1277.6 L1426.0,1277.4 L1428.0,1277.1 L1430.0,1276.8 L1432.0,1277.1 L1434.0,1277.6 L1436.0,1279.8 L1438.0,1282.6 L1440.0,1286.5 L1442.0,1289.6 L1444.0,1291.3 L1446.0,1293.1 L1448.0,1295.2 L1450.0,1297.8 L1452.0,1299.4 L1454.0,1301.1 L1456.0,1302.5 L1458.0,1303.9 L1460.0,1305.1 L1462.0,1305.9 L1464.0,1306.8 L1466.0,1308.8 L1468.0,1311.5 L1470.0,1313.8 L1472.0,1315.0 L1474.0,1316.7 L1476.0,1318.5 L1478.0,1320.7 L1480.0,1322.0 L1482.0,1323.0 L1484.0,1323.7 L1486.0,1324.9 L1488.0,1326.8 L1490.0,1328.6 L1492.0,1328.8 L1494.0,1328.7 L1496.0,1328.3 L1498.0,1329.0 L1500.0,1329.6 L1502.0,1330.9 L1504.0,1331.3 L1506.0,1333.2 L1508.0,1334.2 L1510.0,1335.8 L1512.0,1337.6 L1514.0,1338.7 L1516.0,1340.4 L1518.0,1340.0 L1520.0,1342.0 L1522.0,1341.7 L1524.0,1343.1 L1526.0,1342.6 L1528.0,1345.6 L1530.0,1347.3 L1532.0,1349.3 L1534.0,1348.9 L1536.0,1349.1 L1538.0,1350.5 L1540.0,1351.7 L1542.0,1351.6 L1544.0,1351.8 L1546.0,1351.7 L1548.0,1352.3 L1550.0,1352.1 L1552.0,1353.4 L1554.0,1354.7 L1556.0,1355.3 L1558.0,1355.3 L1560.0,1354.7 L1562.0,1355.3 L1564.0,1356.8 L1566.0,1358.6 L1568.0,1359.6 L1570.0,1359.3 L1572.0,1359.7 L1574.0,1359.7 L1576.0,1361.6 L1578.0,1361.7 L1580.0,1362.4 L1582.0,1361.9 L1584.0,1363.0 L1586.0,1363.5 L1588.0,1365.5 L1590.0,1366.0 L1592.0,1365.9 L1594.0,1364.8 L1596.0,1365.1 L1598.0,1366.5 L1600.0,1367.2 L1602.0,1367.2 L1604.0,1366.5 L1606.0,1365.8 L1608.0,1366.5 L1610.0,1367.4 L1612.0,1368.5 L1614.0,1368.8 L1616.0,1368.6 L1618.0,1368.0 L1620.0,1368.4 L1622.0,1369.5 L1624.0,1370.6 L1626.0,1371.4 L1628.0,1372.0 L1630.0,1372.6 L1632.0,1372.6 L1634.0,1372.4 L1636.0,1373.8 L1638.0,1374.4 L1640.0,1375.6 L1642.0,1375.9 L1644.0,1375.9 L1646.0,1376.5 L1648.0,1376.1 L1650.0,1377.5 L1652.0,1378.6 L1654.0,1380.5 L1656.0,1381.6 L1658.0,1383.4 L1660.0,1384.9 L1662.0,1386.7 L1664.0,1388.1 L1666.0,1389.1 L1668.0,1389.6 L1670.0,1389.4 L1672.0,1390.3 L1674.0,1390.6 L1676.0,1392.3 L1678.0,1392.5 L1680.0,1393.6 L1682.0,1393.8 L1684.0,1394.5 L1686.0,1394.3 L1688.0,1394.8 L1690.0,1395.4 L1692.0,1396.5 L1694.0,1397.2 L1696.0,1396.8 L1698.0,1396.7 L1700.0,1397.4 L1702.0,1398.1 L1704.0,1398.7 L1706.0,1398.6 L1708.0,1398.3 L1710.0,1398.4 L1712.0,1398.5 L1714.0,1399.3 L1716.0,1400.5 L1718.0,1400.8 L1720.0,1401.7 L1722.0,1400.9 L1724.0,1401.0 L1726.0,1400.9 L1728.0,1401.9 L1730.0,1402.4 L1732.0,1402.8 L1734.0,1403.2 L1736.0,1404.3 L1738.0,1404.7 L1740.0,1404.5 L1742.0,1404.4 L1744.0,1405.5 L1746.0,1406.3 L1748.0,1406.5 L1750.0,1405.1 L1752.0,1405.5 L1754.0,1405.3 L1756.0,1407.6 L1758.0,1407.7 L1760.0,1408.9 L1762.0,1407.9 L1764.0,1407.7 L1766.0,1406.5 L1768.0,1406.0 L1770.0,1405.8 L1772.0,1406.5 L1774.0,1406.1 L1776.0,1406.3 L1778.0,1406.1 L1780.0,1406.7 L1782.0,1406.7 L1784.0,1406.2 L1786.0,1406.1 L1788.0,1404.7 L1790.0,1405.2 L1792.0,1405.0 L1794.0,1405.7 L1796.0,1404.9 L1798.0,1405.1 L1800.0,1406.4 L1802.0,1406.8 L1804.0,1407.2 L1806.0,1407.2 L1808.0,1409.2 L1810.0,1410.3 L1812.0,1411.9 L1814.0,1411.5 L1816.0,1412.6 L1818.0,1413.0 L1820.0,1413.9 L1822.0,1415.1 L1824.0,1416.0 L1826.0,1416.4 L1828.0,1417.5 L1830.0,1417.3 L1832.0,1417.6 L1834.0,1415.9 L1836.0,1417.4 L1838.0,1418.4 L1840.0,1419.7 L1842.0,1419.7 L1844.0,1419.8 L1846.0,1420.2 L1848.0,1420.7 L1850.0,1420.8 L1852.0,1420.5" stroke="#8b008b" stroke-width="6.3"/>
<path d="M588.0,1493.5 L590.0,1493.5 L592.0,1493.4 L594.0,1493.3 L596.0,1493.2 L598.0,1493.0 L600.0,1492.6 L602.0,1492.4 L604.0,1492.5 L606.0,1493.0 L608.0,1493.1 L610.0,1493.2 L612.0,1493.0 L614.0,1493.4 L616.0,1493.2 L618.0,1493.6 L620.0,1493.4 L622.0,1493.4 L624.0,1492.9 L626.0,1492.5 L628.0,1492.6 L630.0,1492.5 L632.0,1492.8 L634.0,1492.7 L636.0,1492.3 L638.0,1491.7 L640.0,1491.6 L642.0,1491.8 L644.0,1492.4 L646.0,1492.3 L648.0,1492.5 L650.0,1492.3 L652.0,1492.7 L654.0,1492.6 L656.0,1492.7 L658.0,1492.2 L660.0,1492.2 L662.0,1492.2 L664.0,1492.3 L666.0,1492.3 L668.0,1492.0 L670.0,1492.0 L672.0,1491.8 L674.0,1491.9 L676.0,1492.0 L678.0,1491.9 L680.0,1491.7 L682.0,1491.1 L684.0,1490.8 L686.0,1490.5 L688.0,1490.4 L690.0,1489.9 L692.0,1489.9 L694.0,1489.6 L696.0,1489.6 L698.0,1489.3 L700.0,1488.5 L702.0,1488.2 L704.0,1487.7 L706.0,1487.9 L708.0,1487.7 L710.0,1487.5 L712.0,1487.3 L714.0,1486.6 L716.0,1486.0 L718.0,1485.6 L720.0,1485.8 L722.0,1485.5 L724.0,1485.1 L726.0,1484.6 L728.0,1484.2 L730.0,1483.5 L732.0,1483.0 L734.0,1482.9 L736.0,1482.9 L738.0,1482.6 L740.0,1482.4 L742.0,1481.6 L744.0,1481.0 L746.0,1480.4 L748.0,1480.4 L750.0,1480.6 L752.0,1480.3 L754.0,1479.7 L756.0,1478.6 L758.0,1478.6 L760.0,1478.1 L762.0,1478.4 L764.0,1478.0 L766.0,1477.7 L768.0,1477.1 L770.0,1476.7 L772.0,1476.9 L774.0,1476.7 L776.0,1476.1 L778.0,1475.7 L780.0,1475.8 L782.0,1475.5 L784.0,1475.1 L786.0,1474.9 L788.0,1474.9 L790.0,1474.7 L792.0,1474.3 L794.0,1474.1 L796.0,1474.2 L798.0,1474.1 L800.0,1473.8 L802.0,1473.1 L804.0,1473.0 L806.0,1472.9 L808.0,1473.0 L810.0,1472.7 L812.0,1472.5 L814.0,1472.4 L816.0,1472.2 L818.0,1471.9 L820.0,1471.7 L822.0,1471.6 L824.0,1471.6 L826.0,1471.4 L828.0,1471.3 L830.0,1471.3 L832.0,1471.0 L834.0,1471.1 L836.0,1470.9 L838.0,1471.1 L840.0,1470.8 L842.0,1470.8 L844.0,1470.6 L846.0,1470.7 L848.0,1470.8 L850.0,1470.7 L852.0,1470.5 L854.0,1470.5 L856.0,1470.5 L858.0,1470.6 L860.0,1470.5 L862.0,1470.5 L864.0,1470.4 L866.0,1470.4 L868.0,1470.5 L870.0,1470.4 L872.0,1470.3 L874.0,1470.3 L876.0,1470.2 L878.0,1470.3 L880.0,1470.1 L882.0,1470.0 L884.0,1470.0 L886.0,1470.1 L888.0,1470.1 L890.0,1470.0 L892.0,1470.0 L894.0,1469.9 L896.0,1469.9 L898.0,1469.9 L900.0,1469.8 L902.0,1469.8 L904.0,1469.7 L906.0,1469.7 L908.0,1469.6 L910.0,1469.6 L912.0,1469.5 L914.0,1469.5 L916.0,1469.4 L918.0,1469.4 L920.0,1469.3 L922.0,1469.2 L924.0,1469.2 L926.0,1469.1 L928.0,1469.0 L930.0,1468.9 L932.0,1468.8 L934.0,1468.6 L936.0,1468.5 L938.0,1468.3 L940.0,1468.1 L942.0,1467.9 L944.0,1467.7 L946.0,1467.4 L948.0,1467.1 L950.0,1466.9 L952.0,1466.6 L954.0,1466.2" stroke="#8b008b" stroke-width="7.6"/>
<path d="M1400.0,1265.1 L1402.0,1269.0 L1404.0,1271.9 L1406.0,1273.6 L1408.0,1274.9 L1410.0,1275.7 L1412.0,1276.4 L1414.0,1276.7 L1416.0,1276.9 L1418.0,1277.1 L1420.0,1277.2 L1422.0,1277.5 L1424.0,1277.6 L1426.0,1277.4 L1428.0,1277.1 L1430.0,1276.8 L1432.0,1277.1 L1434.0,1277.6 L1436.0,1279.8 L1438.0,1282.6 L1440.0,1286.5 L1442.0,1289.6 L1444.0,1291.3 L1446.0,1293.1 L1448.0,1295.2 L1450.0,1297.8 L1452.0,1299.4 L1454.0,1301.1 L1456.0,1302.5 L1458.0,1303.9 L1460.0,1305.1 L1462.0,1305.9 L1464.0,1306.8 L1466.0,1308.8 L1468.0,1311.5 L1470.0,1313.8 L1472.0,1315.0 L1474.0,1316.7 L1476.0,1318.5 L1478.0,1320.7 L1480.0,1322.0 L1482.0,1323.0 L1484.0,1323.7 L1486.0,1324.9 L1488.0,1326.8 L1490.0,1328.6 L1492.0,1328.8 L1494.0,1328.7 L1496.0,1328.3 L1498.0,1329.0 L1500.0,1329.6 L1502.0,1330.9 L1504.0,1331.3 L1506.0,1333.2 L1508.0,1334.2 L1510.0,1335.8 L1512.0,1337.6 L1514.0,1338.7 L1516.0,1340.4 L1518.0,1340.0 L1520.0,1342.0 L1522.0,1341.7 L1524.0,1343.1 L1526.0,1342.6 L1528.0,1345.6 L1530.0,1347.3 L1532.0,1349.3 L1534.0,1348.9 L1536.0,1349.1 L1538.0,1350.5 L1540.0,1351.7 L1542.0,1351.6 L1544.0,1351.8 L1546.0,1351.7 L1548.0,1352.3 L1550.0,1352.1 L1552.0,1353.4 L1554.0,1354.7 L1556.0,1355.3 L1558.0,1355.3 L1560.0,1354.7 L1562.0,1355.3 L1564.0,1356.8 L1566.0,1358.6 L1568.0,1359.6 L1570.0,1359.3 L1572.0,1359.7 L1574.0,1359.7 L1576.0,1361.6 L1578.0,1361.7 L1580.0,1362.4 L1582.0,1361.9 L1584.0,1363.0 L1586.0,1363.5 L1588.0,1365.5 L1590.0,1366.0 L1592.0,1365.9 L1594.0,1364.8 L1596.0,1365.1 L1598.0,1366.5 L1600.0,1367.2 L1602.0,1367.2 L1604.0,1366.5 L1606.0,1365.8 L1608.0,1366.5 L1610.0,1367.4 L1612.0,1368.5 L1614.0,1368.8 L1616.0,1368.6 L1618.0,1368.0 L1620.0,1368.4 L1622.0,1369.5 L1624.0,1370.6 L1626.0,1371.4 L1628.0,1372.0 L1630.0,1372.6 L1632.0,1372.6 L1634.0,1372.4 L1636.0,1373.8 L1638.0,1374.4 L1640.0,1375.6 L1642.0,1375.9 L1644.0,1375.9 L1646.0,1376.5 L1648.0,1376.1 L1650.0,1377.5 L1652.0,1378.6 L1654.0,1380.5 L1656.0,1381.6 L1658.0,1383.4 L1660.0,1384.9 L1662.0,1386.7 L1664.0,1388.1 L1666.0,1389.1 L1668.0,1389.6 L1670.0,1389.4 L1672.0,1390.3 L1674.0,1390.6 L1676.0,1392.3 L1678.0,1392.5 L1680.0,1393.6 L1682.0,1393.8 L1684.0,1394.5 L1686.0,1394.3 L1688.0,1394.8 L1690.0,1395.4 L1692.0,1396.5 L1694.0,1397.2 L1696.0,1396.8 L1698.0,1396.7 L1700.0,1397.4 L1702.0,1398.1 L1704.0,1398.7 L1706.0,1398.6 L1708.0,1398.3 L1710.0,1398.4 L1712.0,1398.5 L1714.0,1399.3 L1716.0,1400.5 L1718.0,1400.8 L1720.0,1401.7 L1722.0,1400.9 L1724.0,1401.0 L1726.0,1400.9 L1728.0,1401.9 L1730.0,1402.4 L1732.0,1402.8 L1734.0,1403.2 L1736.0,1404.3 L1738.0,1404.7 L1740.0,1404.5 L1742.0,1404.4 L1744.0,1405.5 L1746.0,1406.3 L1748.0,1406.5 L1750.0,1405.1 L1752.0,1405.5 L1754.0,1405.3 L1756.0,1407.6 L1758.0,1407.7 L1760.0,1408.9 L1762.0,1407.9 L1764.0,1407.7 L1766.0,1406.5 L1768.0,1406.0 L1770.0,1405.8 L1772.0,1406.5 L1774.0,1406.1 L1776.0,1406.3 L1778.0,1406.1 L1780.0,1406.7 L1782.0,1406.7 L1784.0,1406.2 L1786.0,1406.1 L1788.0,1404.7 L1790.0,1405.2 L1792.0,1405.0 L1794.0,1405.7 L1796.0,1404.9 L1798.0,1405.1 L1800.0,1406.4 L1802.0,1406.8 L1804.0,1407.2 L1806.0,1407.2 L1808.0,1409.2 L1810.0,1410.3 L1812.0,1411.9 L1814.0,1411.5 L1816.0,1412.6 L1818.0,1413.0 L1820.0,1413.9 L1822.0,1415.1 L1824.0,1416.0 L1826.0,1416.4 L1828.0,1417.5 L1830.0,1417.3 L1832.0,1417.6 L1834.0,1415.9 L1836.0,1417.4 L1838.0,1418.4 L1840.0,1419.7 L1842.0,1419.7 L1844.0,1419.8 L1846.0,1420.2 L1848.0,1420.7 L1850.0,1420.8 L1852.0,1420.5" stroke="#8b008b" stroke-width="7.4"/>
<path d="M588.0,1491.0 L590.0,1491.0 L592.0,1491.1 L594.0,1491.2 L596.0,1491.2 L598.0,1490.6 L600.0,1490.4 L602.0,1490.2 L604.0,1490.5 L606.0,1490.7 L608.0,1490.8 L610.0,1490.8 L612.0,1490.7 L614.0,1490.7 L616.0,1490.9 L618.0,1490.5 L620.0,1490.6 L622.0,1490.7 L624.0,1491.2 L626.0,1490.9 L628.0,1490.4 L630.0,1490.1 L632.0,1490.4 L634.0,1490.5 L636.0,1490.1 L638.0,1489.3 L640.0,1489.3 L642.0,1489.9 L644.0,1490.1 L646.0,1489.9 L648.0,1489.5 L650.0,1489.7 L652.0,1489.9 L654.0,1489.6 L656.0,1489.5 L658.0,1489.2 L660.0,1489.5 L662.0,1489.5 L664.0,1489.7 L666.0,1489.3 L668.0,1488.9 L670.0,1488.6 L672.0,1488.6 L674.0,1488.6 L676.0,1488.3 L678.0,1488.2 L680.0,1487.8 L682.0,1488.0 L684.0,1487.8 L686.0,1487.6 L688.0,1487.2 L690.0,1486.7 L692.0,1486.7 L694.0,1486.3 L696.0,1486.5 L698.0,1486.2 L700.0,1485.9 L702.0,1485.4 L704.0,1485.0 L706.0,1485.0 L708.0,1484.0 L710.0,1483.6 L712.0,1483.1 L714.0,1483.5 L716.0,1483.1 L718.0,1482.9 L720.0,1482.3 L722.0,1481.9 L724.0,1481.4 L726.0,1481.1 L728.0,1480.9 L730.0,1480.6 L732.0,1480.2 L734.0,1479.9 L736.0,1479.6 L738.0,1479.2 L740.0,1478.6 L742.0,1478.2 L744.0,1477.9 L746.0,1478.1 L748.0,1477.6 L750.0,1477.5 L752.0,1476.8 L754.0,1476.9 L756.0,1476.0 L758.0,1475.7 L760.0,1474.7 L762.0,1474.5 L764.0,1474.2 L766.0,1474.3 L768.0,1474.1 L770.0,1473.9 L772.0,1473.4 L774.0,1473.6 L776.0,1473.2 L778.0,1473.4 L780.0,1473.2 L782.0,1472.9 L784.0,1472.4 L786.0,1471.8 L788.0,1472.0 L790.0,1471.8 L792.0,1471.9 L794.0,1471.5 L796.0,1471.2 L798.0,1470.5 L800.0,1470.4 L802.0,1470.3 L804.0,1470.2 L806.0,1470.1 L808.0,1469.9 L810.0,1469.7 L812.0,1469.4 L814.0,1469.0 L816.0,1468.8 L818.0,1468.7 L820.0,1468.8 L822.0,1468.9 L824.0,1468.7 L826.0,1468.5 L828.0,1468.2 L830.0,1468.3 L832.0,1468.0 L834.0,1468.1 L836.0,1467.9 L838.0,1468.0 L840.0,1467.9 L842.0,1467.7 L844.0,1467.7 L846.0,1467.7 L848.0,1467.8 L850.0,1467.8 L852.0,1467.8 L854.0,1467.8 L856.0,1467.6 L858.0,1467.5 L860.0,1467.4 L862.0,1467.4 L864.0,1467.3 L866.0,1467.3 L868.0,1467.3 L870.0,1467.3 L872.0,1467.3 L874.0,1467.3 L876.0,1467.2 L878.0,1467.3 L880.0,1467.2 L882.0,1467.2 L884.0,1467.1 L886.0,1467.1 L888.0,1467.1 L890.0,1467.0 L892.0,1467.0 L894.0,1466.9 L896.0,1466.9 L898.0,1466.8 L900.0,1466.8 L902.0,1466.7 L904.0,1466.7 L906.0,1466.6 L908.0,1466.6 L910.0,1466.5 L912.0,1466.5 L914.0,1466.4 L916.0,1466.4 L918.0,1466.3 L920.0,1466.2 L922.0,1466.2 L924.0,1466.1 L926.0,1466.1 L928.0,1466.0 L930.0,1465.9 L932.0,1465.9 L934.0,1465.8 L936.0,1465.8 L938.0,1465.7 L940.0,1465.6 L942.0,1465.5 L944.0,1465.3 L946.0,1465.0 L948.0,1464.7 L950.0,1464.3 L952.0,1463.9 L954.0,1463.5 L956.0,1463.0 L958.0,1462.4 L960.0,1461.9 L962.0,1461.3 L964.0,1460.7 L966.0,1460.0 L968.0,1459.4 L970.0,1458.7 L972.0,1458.0 L974.0,1457.3 L976.0,1456.6 L978.0,1455.9 L980.0,1455.0 L982.0,1454.0 L984.0,1452.9 L986.0,1451.7 L988.0,1450.5 L990.0,1449.3 L992.0,1448.0 L994.0,1446.8 L996.0,1445.6 L998.0,1444.5 L1000.0,1443.5 L1002.0,1442.6 L1004.0,1441.8 L1006.0,1441.1 L1008.0,1440.5 L1010.0,1439.9 L1012.0,1439.3 L1014.0,1438.7 L1016.0,1438.2 L1018.0,1437.7 L1020.0,1437.2 L1022.0,1436.7 L1024.0,1436.3 L1026.0,1435.8 L1028.0,1435.4 L1030.0,1435.0 L1032.0,1434.5 L1034.0,1434.1 L1036.0,1433.7 L1038.0,1433.3 L1040.0,1432.9 L1042.0,1432.5 L1044.0,1432.1 L1046.0,1431.7 L1048.0,1431.2 L1050.0,1430.8 L1052.0,1430.4 L1054.0,1429.9 L1056.0,1429.5 L1058.0,1429.1 L1060.0,1428.7 L1062.0,1428.3 L1064.0,1427.9 L1066.0,1427.5 L1068.0,1427.1 L1070.0,1426.7 L1072.0,1426.3 L1074.0,1425.9 L1076.0,1425.5 L1078.0,1425.1 L1080.0,1424.7 L1082.0,1424.3 L1084.0,1423.9 L1086.0,1423.5 L1088.0,1423.1 L1090.0,1422.7 L1092.0,1422.3 L1094.0,1421.9 L1096.0,1421.5 L1098.0,1421.2 L1100.0,1420.8 L1102.0,1420.4 L1104.0,1420.0 L1106.0,1419.6 L1108.0,1419.3 L1110.0,1418.9 L1112.0,1418.5 L1114.0,1418.0 L1116.0,1417.6 L1118.0,1417.2 L1120.0,1416.7 L1122.0,1416.2 L1124.0,1415.8 L1126.0,1415.3 L1128.0,1414.8 L1130.0,1414.3 L1132.0,1413.8 L1134.0,1413.2 L1136.0,1412.6 L1138.0,1411.9 L1140.0,1411.2 L1142.0,1410.4 L1144.0,1409.4 L1146.0,1408.2 L1148.0,1406.9 L1150.0,1405.4 L1152.0,1403.9 L1154.0,1402.3 L1156.0,1400.7 L1158.0,1399.1 L1160.0,1397.7 L1162.0,1396.1 L1164.0,1394.3 L1166.0,1392.5 L1168.0,1390.6 L1170.0,1388.8 L1172.0,1387.0 L1174.0,1385.3 L1176.0,1383.9 L1178.0,1382.7 L1180.0,1381.8 L1182.0,1381.3 L1184.0,1381.0 L1186.0,1380.8 L1188.0,1380.7 L1190.0,1380.6 L1192.0,1380.5 L1194.0,1380.3 L1196.0,1380.1 L1198.0,1379.9 L1200.0,1379.5 L1202.0,1377.6 L1204.0,1373.8 L1206.0,1369.4 L1208.0,1364.2 L1210.0,1357.7 L1212.0,1350.4 L1214.0,1342.1 L1216.0,1331.5 L1218.0,1320.9 L1220.0,1312.0 L1222.0,1303.8 L1224.0,1296.0 L1226.0,1288.3 L1228.0,1280.4 L1230.0,1272.4 L1232.0,1264.3 L1234.0,1256.4 L1236.0,1248.5 L1238.0,1240.9 L1240.0,1233.5 L1242.0,1226.2 L1244.0,1218.3 L1246.0,1209.5 L1248.0,1199.2 L1250.0,1188.0 L1252.0,1176.1 L1254.0,1164.0 L1256.0,1152.0 L1258.0,1140.4 L1260.0,1129.1 L1262.0,1117.9 L1264.0,1106.4 L1266.0,1094.4 L1268.0,1081.7 L1270.0,1067.3 L1272.0,1052.7 L1274.0,1039.7 L1276.0,1027.5 L1278.0,1015.8 L1280.0,1004.6 L1282.0,993.7 L1284.0,982.9 L1286.0,972.6 L1288.0,963.3 L1290.0,955.3 L1292.0,947.6 L1294.0,940.8 L1296.0,935.3 L1298.0,931.4 L1300.0,927.8 L1302.0,924.8 L1304.0,922.9 L1306.0,922.6 L1308.0,923.9 L1310.0,926.6 L1312.0,930.1 L1314.0,934.1 L1316.0,940.5 L1318.0,949.2 L1320.0,958.7 L1322.0,968.6 L1324.0,979.7 L1326.0,991.3 L1328.0,1003.0 L1330.0,1015.1 L1332.0,1027.5 L1334.0,1040.0 L1336.0,1052.9 L1338.0,1066.2 L1340.0,1079.5 L1342.0,1092.6 L1344.0,1105.0 L1346.0,1116.9 L1348.0,1128.5 L1350.0,1139.8 L1352.0,1150.5 L1354.0,1160.5 L1356.0,1169.8 L1358.0,1178.5 L1360.0,1186.8 L1362.0,1195.0 L1364.0,1203.2 L1366.0,1211.5 L1368.0,1219.6 L1370.0,1227.6 L1372.0,1235.3 L1374.0,1242.9 L1376.0,1250.6 L1378.0,1258.2 L1380.0,1265.5 L1382.0,1272.0 L1384.0,1277.4 L1386.0,1282.3 L1388.0,1286.8 L1390.0,1290.8 L1392.0,1294.0 L1394.0,1296.4 L1396.0,1298.3 L1398.0,1300.1 L1400.0,1301.4 L1402.0,1303.0 L1404.0,1303.8 L1406.0,1304.7 L1408.0,1305.2 L1410.0,1305.8 L1412.0,1306.1 L1414.0,1306.4 L1416.0,1306.6 L1418.0,1307.1 L1420.0,1307.0 L1422.0,1307.5 L1424.0,1307.7 L1426.0,1308.3 L1428.0,1308.6 L1430.0,1308.7 L1432.0,1309.0 L1434.0,1309.5 L1436.0,1310.1 L1438.0,1310.9 L1440.0,1311.6 L1442.0,1312.9 L1444.0,1314.1 L1446.0,1314.8 L1448.0,1316.2 L1450.0,1317.7 L1452.0,1320.1 L1454.0,1321.8 L1456.0,1323.1 L1458.0,1324.4 L1460.0,1325.6 L1462.0,1327.5 L1464.0,1329.1 L1466.0,1331.5 L1468.0,1333.4 L1470.0,1335.6 L1472.0,1336.8 L1474.0,1338.2 L1476.0,1339.4 L1478.0,1340.2 L1480.0,1341.3 L1482.0,1342.1 L1484.0,1342.8 L1486.0,1343.2 L1488.0,1342.9 L1490.0,1344.4 L1492.0,1345.1 L1494.0,1346.4 L1496.0,1346.1 L1498.0,1346.0 L1500.0,1346.1 L1502.0,1347.6 L1504.0,1349.7 L1506.0,1351.1 L1508.0,1351.5 L1510.0,1352.0 L1512.0,1353.4 L1514.0,1354.1 L1516.0,1355.5 L1518.0,1355.7 L1520.0,1357.4 L1522.0,1358.2 L1524.0,1359.6 L1526.0,1360.1 L1528.0,1360.8 L1530.0,1360.9 L1532.0,1361.0 L1534.0,1360.3 L1536.0,1360.9 L1538.0,1361.7 L1540.0,1362.4 L1542.0,1361.6 L1544.0,1361.7 L1546.0,1362.3 L1548.0,1363.1 L1550.0,1363.0 L1552.0,1362.9 L1554.0,1363.2 L1556.0,1363.6 L1558.0,1363.9 L1560.0,1363.9 L1562.0,1362.8 L1564.0,1362.6 L1566.0,1364.3 L1568.0,1366.6 L1570.0,1367.3 L1572.0,1366.6 L1574.0,1367.3 L1576.0,1368.3 L1578.0,1369.9 L1580.0,1370.7 L1582.0,1371.1 L1584.0,1371.2 L1586.0,1370.5 L1588.0,1370.9 L1590.0,1371.0 L1592.0,1372.4 L1594.0,1372.8 L1596.0,1374.6 L1598.0,1374.4 L1600.0,1375.2 L1602.0,1374.5 L1604.0,1375.6 L1606.0,1375.4 L1608.0,1376.8 L1610.0,1377.1 L1612.0,1377.0 L1614.0,1376.1 L1616.0,1376.4 L1618.0,1377.6 L1620.0,1379.7 L1622.0,1379.5 L1624.0,1379.8 L1626.0,1379.2 L1628.0,1380.2 L1630.0,1381.5 L1632.0,1381.8 L1634.0,1381.3 L1636.0,1381.7 L1638.0,1382.3 L1640.0,1382.7 L1642.0,1382.0 L1644.0,1382.1 L1646.0,1383.3 L1648.0,1384.4 L1650.0,1384.8 L1652.0,1384.9 L1654.0,1384.5 L1656.0,1384.9 L1658.0,1385.6 L1660.0,1386.7 L1662.0,1386.2 L1664.0,1386.1 L1666.0,1386.5 L1668.0,1388.8 L1670.0,1390.0 L1672.0,1389.1 L1674.0,1387.7 L1676.0,1387.9 L1678.0,1389.3 L1680.0,1390.7 L1682.0,1391.7 L1684.0,1391.5 L1686.0,1392.4 L1688.0,1391.8 L1690.0,1392.4 L1692.0,1391.1 L1694.0,1390.8 L1696.0,1392.1 L1698.0,1393.5 L1700.0,1394.8 L1702.0,1394.7 L1704.0,1395.0 L1706.0,1395.3 L1708.0,1395.6 L1710.0,1395.9 L1712.0,1395.7 L1714.0,1395.6 L1716.0,1396.2 L1718.0,1396.6 L1720.0,1397.8 L1722.0,1397.9 L1724.0,1397.9 L1726.0,1396.8 L1728.0,1397.7 L1730.0,1399.6 L1732.0,1400.9 L1734.0,1399.7 L1736.0,1399.3 L1738.0,1399.4 L1740.0,1401.2 L1742.0,1401.3 L1744.0,1402.3 L1746.0,1402.4 L1748.0,1402.5 L1750.0,1403.0 L1752.0,1403.1 L1754.0,1404.1 L1756.0,1403.5 L1758.0,1404.0 L1760.0,1403.2 L1762.0,1404.1 L1764.0,1403.7 L1766.0,1403.7 L1768.0,1403.7 L1770.0,1404.1 L1772.0,1404.3 L1774.0,1403.2 L1776.0,1402.9 L1778.0,1402.9 L1780.0,1403.5 L1782.0,1403.0 L1784.0,1402.8 L1786.0,1401.4 L1788.0,1401.6 L1790.0,1400.8 L1792.0,1402.0 L1794.0,1401.7 L1796.0,1403.4 L1798.0,1403.6 L1800.0,1404.6 L1802.0,1403.2 L1804.0,1403.4 L1806.0,1404.7 L1808.0,1406.5 L1810.0,1408.6 L1812.0,1408.6 L1814.0,1409.9 L1816.0,1409.7 L1818.0,1410.9 L1820.0,1411.6 L1822.0,1413.1 L1824.0,1413.1 L1826.0,1412.7 L1828.0,1413.0 L1830.0,1413.8 L1832.0,1415.0 L1834.0,1414.4 L1836.0,1414.9 L1838.0,1414.7 L1840.0,1415.0 L1842.0,1414.6 L1844.0,1415.3 L1846.0,1416.1 L1848.0,1416.5 L1850.0,1416.1 L1852.0,1416.1" stroke="#940000" stroke-width="6.3"/>
<path d="M588.0,1491.0 L590.0,1491.0 L592.0,1491.1 L594.0,1491.2 L596.0,1491.2 L598.0,1490.6 L600.0,1490.4 L602.0,1490.2 L604.0,1490.5 L606.0,1490.7 L608.0,1490.8 L610.0,1490.8 L612.0,1490.7 L614.0,1490.7 L616.0,1490.9 L618.0,1490.5 L620.0,1490.6 L622.0,1490.7 L624.0,1491.2 L626.0,1490.9 L628.0,1490.4 L630.0,1490.1 L632.0,1490.4 L634.0,1490.5 L636.0,1490.1 L638.0,1489.3 L640.0,1489.3 L642.0,1489.9 L644.0,1490.1 L646.0,1489.9 L648.0,1489.5 L650.0,1489.7 L652.0,1489.9 L654.0,1489.6 L656.0,1489.5 L658.0,1489.2 L660.0,1489.5 L662.0,1489.5 L664.0,1489.7 L666.0,1489.3 L668.0,1488.9 L670.0,1488.6 L672.0,1488.6 L674.0,1488.6 L676.0,1488.3 L678.0,1488.2 L680.0,1487.8 L682.0,1488.0 L684.0,1487.8 L686.0,1487.6 L688.0,1487.2 L690.0,1486.7 L692.0,1486.7 L694.0,1486.3 L696.0,1486.5 L698.0,1486.2 L700.0,1485.9 L702.0,1485.4 L704.0,1485.0 L706.0,1485.0 L708.0,1484.0 L710.0,1483.6 L712.0,1483.1 L714.0,1483.5 L716.0,1483.1 L718.0,1482.9 L720.0,1482.3 L722.0,1481.9 L724.0,1481.4 L726.0,1481.1 L728.0,1480.9 L730.0,1480.6 L732.0,1480.2 L734.0,1479.9 L736.0,1479.6 L738.0,1479.2 L740.0,1478.6 L742.0,1478.2 L744.0,1477.9 L746.0,1478.1 L748.0,1477.6 L750.0,1477.5 L752.0,1476.8 L754.0,1476.9 L756.0,1476.0 L758.0,1475.7 L760.0,1474.7 L762.0,1474.5 L764.0,1474.2 L766.0,1474.3 L768.0,1474.1 L770.0,1473.9 L772.0,1473.4 L774.0,1473.6 L776.0,1473.2 L778.0,1473.4 L780.0,1473.2 L782.0,1472.9 L784.0,1472.4 L786.0,1471.8 L788.0,1472.0 L790.0,1471.8 L792.0,1471.9 L794.0,1471.5 L796.0,1471.2 L798.0,1470.5 L800.0,1470.4 L802.0,1470.3 L804.0,1470.2 L806.0,1470.1 L808.0,1469.9 L810.0,1469.7 L812.0,1469.4 L814.0,1469.0 L816.0,1468.8 L818.0,1468.7 L820.0,1468.8 L822.0,1468.9 L824.0,1468.7 L826.0,1468.5 L828.0,1468.2 L830.0,1468.3 L832.0,1468.0 L834.0,1468.1 L836.0,1467.9 L838.0,1468.0 L840.0,1467.9 L842.0,1467.7 L844.0,1467.7 L846.0,1467.7 L848.0,1467.8 L850.0,1467.8 L852.0,1467.8 L854.0,1467.8 L856.0,1467.6 L858.0,1467.5 L860.0,1467.4 L862.0,1467.4 L864.0,1467.3 L866.0,1467.3 L868.0,1467.3 L870.0,1467.3 L872.0,1467.3 L874.0,1467.3 L876.0,1467.2 L878.0,1467.3 L880.0,1467.2 L882.0,1467.2 L884.0,1467.1 L886.0,1467.1 L888.0,1467.1 L890.0,1467.0 L892.0,1467.0 L894.0,1466.9 L896.0,1466.9 L898.0,1466.8 L900.0,1466.8 L902.0,1466.7 L904.0,1466.7 L906.0,1466.6 L908.0,1466.6 L910.0,1466.5 L912.0,1466.5 L914.0,1466.4 L916.0,1466.4 L918.0,1466.3 L920.0,1466.2 L922.0,1466.2 L924.0,1466.1 L926.0,1466.1 L928.0,1466.0 L930.0,1465.9 L932.0,1465.9 L934.0,1465.8 L936.0,1465.8 L938.0,1465.7 L940.0,1465.6 L942.0,1465.5 L944.0,1465.3 L946.0,1465.0 L948.0,1464.7 L950.0,1464.3 L952.0,1463.9 L954.0,1463.5" stroke="#940000" stroke-width="7.6"/>
<path d="M1400.0,1301.4 L1402.0,1303.0 L1404.0,1303.8 L1406.0,1304.7 L1408.0,1305.2 L1410.0,1305.8 L1412.0,1306.1 L1414.0,1306.4 L1416.0,1306.6 L1418.0,1307.1 L1420.0,1307.0 L1422.0,1307.5 L1424.0,1307.7 L1426.0,1308.3 L1428.0,1308.6 L1430.0,1308.7 L1432.0,1309.0 L1434.0,1309.5 L1436.0,1310.1 L1438.0,1310.9 L1440.0,1311.6 L1442.0,1312.9 L1444.0,1314.1 L1446.0,1314.8 L1448.0,1316.2 L1450.0,1317.7 L1452.0,1320.1 L1454.0,1321.8 L1456.0,1323.1 L1458.0,1324.4 L1460.0,1325.6 L1462.0,1327.5 L1464.0,1329.1 L1466.0,1331.5 L1468.0,1333.4 L1470.0,1335.6 L1472.0,1336.8 L1474.0,1338.2 L1476.0,1339.4 L1478.0,1340.2 L1480.0,1341.3 L1482.0,1342.1 L1484.0,1342.8 L1486.0,1343.2 L1488.0,1342.9 L1490.0,1344.4 L1492.0,1345.1 L1494.0,1346.4 L1496.0,1346.1 L1498.0,1346.0 L1500.0,1346.1 L1502.0,1347.6 L1504.0,1349.7 L1506.0,1351.1 L1508.0,1351.5 L1510.0,1352.0 L1512.0,1353.4 L1514.0,1354.1 L1516.0,1355.5 L1518.0,1355.7 L1520.0,1357.4 L1522.0,1358.2 L1524.0,1359.6 L1526.0,1360.1 L1528.0,1360.8 L1530.0,1360.9 L1532.0,1361.0 L1534.0,1360.3 L1536.0,1360.9 L1538.0,1361.7 L1540.0,1362.4 L1542.0,1361.6 L1544.0,1361.7 L1546.0,1362.3 L1548.0,1363.1 L1550.0,1363.0 L1552.0,1362.9 L1554.0,1363.2 L1556.0,1363.6 L1558.0,1363.9 L1560.0,1363.9 L1562.0,1362.8 L1564.0,1362.6 L1566.0,1364.3 L1568.0,1366.6 L1570.0,1367.3 L1572.0,1366.6 L1574.0,1367.3 L1576.0,1368.3 L1578.0,1369.9 L1580.0,1370.7 L1582.0,1371.1 L1584.0,1371.2 L1586.0,1370.5 L1588.0,1370.9 L1590.0,1371.0 L1592.0,1372.4 L1594.0,1372.8 L1596.0,1374.6 L1598.0,1374.4 L1600.0,1375.2 L1602.0,1374.5 L1604.0,1375.6 L1606.0,1375.4 L1608.0,1376.8 L1610.0,1377.1 L1612.0,1377.0 L1614.0,1376.1 L1616.0,1376.4 L1618.0,1377.6 L1620.0,1379.7 L1622.0,1379.5 L1624.0,1379.8 L1626.0,1379.2 L1628.0,1380.2 L1630.0,1381.5 L1632.0,1381.8 L1634.0,1381.3 L1636.0,1381.7 L1638.0,1382.3 L1640.0,1382.7 L1642.0,1382.0 L1644.0,1382.1 L1646.0,1383.3 L1648.0,1384.4 L1650.0,1384.8 L1652.0,1384.9 L1654.0,1384.5 L1656.0,1384.9 L1658.0,1385.6 L1660.0,1386.7 L1662.0,1386.2 L1664.0,1386.1 L1666.0,1386.5 L1668.0,1388.8 L1670.0,1390.0 L1672.0,1389.1 L1674.0,1387.7 L1676.0,1387.9 L1678.0,1389.3 L1680.0,1390.7 L1682.0,1391.7 L1684.0,1391.5 L1686.0,1392.4 L1688.0,1391.8 L1690.0,1392.4 L1692.0,1391.1 L1694.0,1390.8 L1696.0,1392.1 L1698.0,1393.5 L1700.0,1394.8 L1702.0,1394.7 L1704.0,1395.0 L1706.0,1395.3 L1708.0,1395.6 L1710.0,1395.9 L1712.0,1395.7 L1714.0,1395.6 L1716.0,1396.2 L1718.0,1396.6 L1720.0,1397.8 L1722.0,1397.9 L1724.0,1397.9 L1726.0,1396.8 L1728.0,1397.7 L1730.0,1399.6 L1732.0,1400.9 L1734.0,1399.7 L1736.0,1399.3 L1738.0,1399.4 L1740.0,1401.2 L1742.0,1401.3 L1744.0,1402.3 L1746.0,1402.4 L1748.0,1402.5 L1750.0,1403.0 L1752.0,1403.1 L1754.0,1404.1 L1756.0,1403.5 L1758.0,1404.0 L1760.0,1403.2 L1762.0,1404.1 L1764.0,1403.7 L1766.0,1403.7 L1768.0,1403.7 L1770.0,1404.1 L1772.0,1404.3 L1774.0,1403.2 L1776.0,1402.9 L1778.0,1402.9 L1780.0,1403.5 L1782.0,1403.0 L1784.0,1402.8 L1786.0,1401.4 L1788.0,1401.6 L1790.0,1400.8 L1792.0,1402.0 L1794.0,1401.7 L1796.0,1403.4 L1798.0,1403.6 L1800.0,1404.6 L1802.0,1403.2 L1804.0,1403.4 L1806.0,1404.7 L1808.0,1406.5 L1810.0,1408.6 L1812.0,1408.6 L1814.0,1409.9 L1816.0,1409.7 L1818.0,1410.9 L1820.0,1411.6 L1822.0,1413.1 L1824.0,1413.1 L1826.0,1412.7 L1828.0,1413.0 L1830.0,1413.8 L1832.0,1415.0 L1834.0,1414.4 L1836.0,1414.9 L1838.0,1414.7 L1840.0,1415.0 L1842.0,1414.6 L1844.0,1415.3 L1846.0,1416.1 L1848.0,1416.5 L1850.0,1416.1 L1852.0,1416.1" stroke="#940000" stroke-width="7.4"/>
</g>
<g stroke="#000" fill="none">
<rect x="588" y="641.8" width="1266" height="905.2" stroke-width="4.8"/>
<line x1="588" y1="867.6" x2="609.5" y2="867.6" stroke-width="4.6"/>
<line x1="588" y1="1094" x2="609.5" y2="1094" stroke-width="4.6"/>
<line x1="588" y1="1320.3" x2="609.5" y2="1320.3" stroke-width="4.6"/>
<line x1="869.5" y1="1547" x2="869.5" y2="1525.5" stroke-width="4.6"/>
<line x1="1151.2" y1="1547" x2="1151.2" y2="1525.5" stroke-width="4.6"/>
<line x1="1432.3" y1="1547" x2="1432.3" y2="1525.5" stroke-width="4.6"/>
<line x1="1714" y1="1547" x2="1714" y2="1525.5" stroke-width="4.6"/>
</g>
<text x="565" y="652.6" font-size="37.5" text-anchor="end">120</text>
<text x="565" y="878.6" font-size="37.5" text-anchor="end">90</text>
<text x="565" y="1105.1" font-size="37.5" text-anchor="end">60</text>
<text x="565" y="1331.6" font-size="37.5" text-anchor="end">30</text>
<text x="565" y="1558.1" font-size="37.5" text-anchor="end">0</text>
<text x="587" y="1598" font-size="37.5" text-anchor="middle">400</text>
<text x="868.5" y="1598" font-size="37.5" text-anchor="middle">500</text>
<text x="1150.5" y="1598" font-size="37.5" text-anchor="middle">600</text>
<text x="1432" y="1598" font-size="37.5" text-anchor="middle">700</text>
<text x="1713.5" y="1598" font-size="37.5" text-anchor="middle">800</text>
<text x="1044.5" y="1662.5" font-size="48" textLength="354" lengthAdjust="spacingAndGlyphs">Wavelength (nm)</text>
<text transform="translate(487.5,1257.5) rotate(-90)" font-size="48.5" textLength="332" lengthAdjust="spacingAndGlyphs">Reflectance (%)</text>
<line x1="612.5" y1="709.3" x2="729.5" y2="709.3" stroke="#000000" stroke-width="7.4"/>
<text x="882.5" y="726.3" font-size="47.5" text-anchor="end">0 mM</text>
<line x1="612.5" y1="770.1" x2="729.5" y2="770.1" stroke="#0000ff" stroke-width="7.4"/>
<text x="882.5" y="787.1" font-size="47.5" text-anchor="end">10 mM</text>
<line x1="612.5" y1="830.8" x2="729.5" y2="830.8" stroke="#00ff00" stroke-width="7.4"/>
<text x="882.5" y="847.8" font-size="47.5" text-anchor="end">20 mM</text>
<line x1="612.5" y1="891.6" x2="729.5" y2="891.6" stroke="#00ffff" stroke-width="7.4"/>
<text x="882.5" y="908.6" font-size="47.5" text-anchor="end">30 mM</text>
<line x1="612.5" y1="952.3" x2="729.5" y2="952.3" stroke="#ff0000" stroke-width="7.4"/>
<text x="882.5" y="969.3" font-size="47.5" text-anchor="end">40 mM</text>
<line x1="612.5" y1="1013.1" x2="729.5" y2="1013.1" stroke="#008000" stroke-width="7.4"/>
<text x="882.5" y="1030.1" font-size="47.5" text-anchor="end">50 mM</text>
<line x1="612.5" y1="1073.9" x2="729.5" y2="1073.9" stroke="#ff4e34" stroke-width="7.4"/>
<text x="882.5" y="1090.9" font-size="47.5" text-anchor="end">60 mM</text>
<line x1="612.5" y1="1134.6" x2="729.5" y2="1134.6" stroke="#8b008b" stroke-width="7.4"/>
<text x="882.5" y="1151.6" font-size="47.5" text-anchor="end">70 mM</text>
<line x1="612.5" y1="1195.4" x2="729.5" y2="1195.4" stroke="#940000" stroke-width="7.4"/>
<text x="882.5" y="1212.4" font-size="47.5" text-anchor="end">80 mM</text>
</svg>
</body></html>
